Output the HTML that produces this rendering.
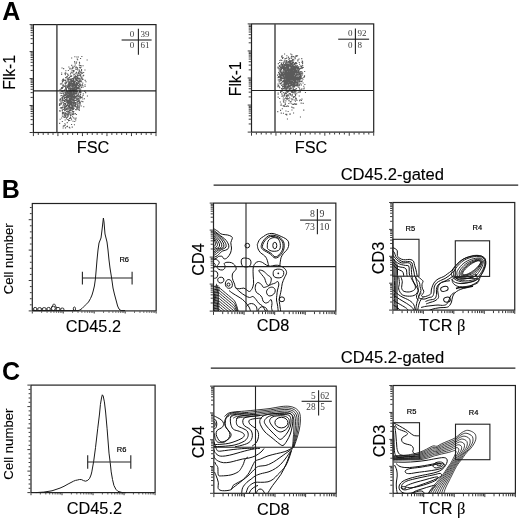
<!DOCTYPE html>
<html><head><meta charset="utf-8"><style>
html,body{margin:0;padding:0;background:#fff;}
svg{display:block;filter:grayscale(1);}
</style></head><body>
<svg width="520" height="520" viewBox="0 0 520 520">
<rect width="520" height="520" fill="#fff"/>
<text x="2.2" y="20.2" font-family='"Liberation Sans", sans-serif' font-size="25" font-weight="bold" text-anchor="start" >A</text>
<rect x="33.4" y="24.6" width="122.6" height="107.9" fill="none" stroke="#222" stroke-width="1.2"/>
<path d="M32.8 132.50h-3.2 M32.8 124.38h-2.2 M32.8 119.63h-2.2 M32.8 116.26h-2.2 M32.8 113.65h-2.2 M32.8 111.51h-2.2 M32.8 109.70h-2.2 M32.8 108.14h-2.2 M32.8 106.76h-2.2 M32.8 105.53h-3.2 M32.8 97.40h-2.2 M32.8 92.65h-2.2 M32.8 89.28h-2.2 M32.8 86.67h-2.2 M32.8 84.53h-2.2 M32.8 82.73h-2.2 M32.8 81.16h-2.2 M32.8 79.78h-2.2 M32.8 78.55h-3.2 M32.8 70.43h-2.2 M32.8 65.68h-2.2 M32.8 62.31h-2.2 M32.8 59.70h-2.2 M32.8 57.56h-2.2 M32.8 55.75h-2.2 M32.8 54.19h-2.2 M32.8 52.81h-2.2 M32.8 51.57h-3.2 M32.8 43.45h-2.2 M32.8 38.70h-2.2 M32.8 35.33h-2.2 M32.8 32.72h-2.2 M32.8 30.58h-2.2 M32.8 28.78h-2.2 M32.8 27.21h-2.2 M32.8 25.83h-2.2 M32.8 24.60h-3.2" stroke="#222" stroke-width="0.9" fill="none"/>
<path d="M33.40 133.1v3 M38.30 133.1v1.8 M43.21 133.1v1.8 M48.11 133.1v1.8 M53.02 133.1v1.8 M57.92 133.1v3 M62.82 133.1v1.8 M67.73 133.1v1.8 M72.63 133.1v1.8 M77.54 133.1v1.8 M82.44 133.1v3 M87.34 133.1v1.8 M92.25 133.1v1.8 M97.15 133.1v1.8 M102.06 133.1v1.8 M106.96 133.1v3 M111.86 133.1v1.8 M116.77 133.1v1.8 M121.67 133.1v1.8 M126.58 133.1v1.8 M131.48 133.1v3 M136.38 133.1v1.8 M141.29 133.1v1.8 M146.19 133.1v1.8 M151.10 133.1v1.8 M156.00 133.1v3" stroke="#222" stroke-width="0.9" fill="none"/>
<line x1="56.9" y1="24.6" x2="56.9" y2="132.5" stroke="#4a4a4a" stroke-width="1.5"/>
<line x1="33.4" y1="90.9" x2="156" y2="90.9" stroke="#222" stroke-width="1.1"/>
<path d="M74.3 89.5h1.1v1.1h-1.1zM69.8 89.9h1.1v1.1h-1.1zM71.9 80.4h1.1v1.1h-1.1zM70.9 108.0h1.1v1.1h-1.1zM70.1 107.0h1.1v1.1h-1.1zM71.2 98.3h1.1v1.1h-1.1zM79.2 70.5h1.1v1.1h-1.1zM72.6 99.8h1.1v1.1h-1.1zM65.3 70.2h1.1v1.1h-1.1zM70.4 81.0h1.1v1.1h-1.1zM70.1 97.1h1.1v1.1h-1.1zM66.4 100.0h1.1v1.1h-1.1zM72.5 97.2h1.1v1.1h-1.1zM81.7 84.1h1.1v1.1h-1.1zM76.3 100.5h1.1v1.1h-1.1zM68.4 84.6h1.1v1.1h-1.1zM71.2 88.4h1.1v1.1h-1.1zM71.0 101.5h1.1v1.1h-1.1zM66.8 87.0h1.1v1.1h-1.1zM78.7 86.0h1.1v1.1h-1.1zM74.1 82.1h1.1v1.1h-1.1zM62.1 98.8h1.1v1.1h-1.1zM78.0 93.7h1.1v1.1h-1.1zM73.6 65.8h1.1v1.1h-1.1zM66.8 91.6h1.1v1.1h-1.1zM69.6 99.7h1.1v1.1h-1.1zM78.7 73.2h1.1v1.1h-1.1zM74.7 102.0h1.1v1.1h-1.1zM69.7 112.4h1.1v1.1h-1.1zM63.7 94.6h1.1v1.1h-1.1zM66.4 101.3h1.1v1.1h-1.1zM65.2 86.9h1.1v1.1h-1.1zM70.2 79.9h1.1v1.1h-1.1zM75.5 73.3h1.1v1.1h-1.1zM70.7 112.5h1.1v1.1h-1.1zM61.5 67.4h1.1v1.1h-1.1zM66.3 97.8h1.1v1.1h-1.1zM78.7 77.9h1.1v1.1h-1.1zM69.5 107.9h1.1v1.1h-1.1zM72.8 96.3h1.1v1.1h-1.1zM70.4 114.5h1.1v1.1h-1.1zM72.9 100.0h1.1v1.1h-1.1zM81.3 71.8h1.1v1.1h-1.1zM71.8 105.9h1.1v1.1h-1.1zM71.9 66.4h1.1v1.1h-1.1zM59.4 104.4h1.1v1.1h-1.1zM76.9 90.5h1.1v1.1h-1.1zM82.5 75.3h1.1v1.1h-1.1zM69.0 100.5h1.1v1.1h-1.1zM73.8 97.4h1.1v1.1h-1.1zM76.9 94.6h1.1v1.1h-1.1zM70.2 84.1h1.1v1.1h-1.1zM68.9 107.1h1.1v1.1h-1.1zM78.0 81.1h1.1v1.1h-1.1zM65.7 112.8h1.1v1.1h-1.1zM73.3 74.4h1.1v1.1h-1.1zM69.7 91.0h1.1v1.1h-1.1zM62.9 112.0h1.1v1.1h-1.1zM61.8 110.0h1.1v1.1h-1.1zM76.1 82.4h1.1v1.1h-1.1zM73.2 108.2h1.1v1.1h-1.1zM71.0 97.7h1.1v1.1h-1.1zM73.8 95.1h1.1v1.1h-1.1zM72.9 90.6h1.1v1.1h-1.1zM69.8 100.7h1.1v1.1h-1.1zM72.4 103.3h1.1v1.1h-1.1zM68.0 120.1h1.1v1.1h-1.1zM69.9 87.2h1.1v1.1h-1.1zM76.0 92.8h1.1v1.1h-1.1zM73.8 88.5h1.1v1.1h-1.1zM74.8 77.8h1.1v1.1h-1.1zM71.4 98.4h1.1v1.1h-1.1zM75.5 87.2h1.1v1.1h-1.1zM67.6 96.8h1.1v1.1h-1.1zM66.9 125.8h1.1v1.1h-1.1zM71.7 85.5h1.1v1.1h-1.1zM71.2 90.0h1.1v1.1h-1.1zM74.3 56.2h1.1v1.1h-1.1zM62.5 106.6h1.1v1.1h-1.1zM76.3 92.1h1.1v1.1h-1.1zM77.2 104.6h1.1v1.1h-1.1zM72.8 70.0h1.1v1.1h-1.1zM75.1 88.4h1.1v1.1h-1.1zM60.9 107.7h1.1v1.1h-1.1zM61.5 102.2h1.1v1.1h-1.1zM77.1 95.4h1.1v1.1h-1.1zM72.4 91.0h1.1v1.1h-1.1zM70.1 103.8h1.1v1.1h-1.1zM79.5 91.8h1.1v1.1h-1.1zM67.2 107.2h1.1v1.1h-1.1zM78.4 77.5h1.1v1.1h-1.1zM72.3 89.4h1.1v1.1h-1.1zM70.7 102.5h1.1v1.1h-1.1zM61.4 101.6h1.1v1.1h-1.1zM77.6 72.6h1.1v1.1h-1.1zM67.6 80.0h1.1v1.1h-1.1zM81.0 73.2h1.1v1.1h-1.1zM77.4 103.1h1.1v1.1h-1.1zM73.1 80.3h1.1v1.1h-1.1zM77.6 77.6h1.1v1.1h-1.1zM63.5 114.5h1.1v1.1h-1.1zM72.3 114.1h1.1v1.1h-1.1zM60.8 90.6h1.1v1.1h-1.1zM67.5 112.0h1.1v1.1h-1.1zM74.5 84.9h1.1v1.1h-1.1zM78.2 98.5h1.1v1.1h-1.1zM79.4 79.2h1.1v1.1h-1.1zM74.8 113.1h1.1v1.1h-1.1zM67.4 90.6h1.1v1.1h-1.1zM69.4 106.8h1.1v1.1h-1.1zM78.4 94.7h1.1v1.1h-1.1zM59.2 89.4h1.1v1.1h-1.1zM61.8 87.8h1.1v1.1h-1.1zM71.0 104.1h1.1v1.1h-1.1zM72.3 84.7h1.1v1.1h-1.1zM69.6 104.2h1.1v1.1h-1.1zM67.8 110.9h1.1v1.1h-1.1zM76.8 107.0h1.1v1.1h-1.1zM64.5 114.7h1.1v1.1h-1.1zM59.0 104.9h1.1v1.1h-1.1zM62.8 78.4h1.1v1.1h-1.1zM62.1 107.4h1.1v1.1h-1.1zM70.0 92.8h1.1v1.1h-1.1zM67.9 92.6h1.1v1.1h-1.1zM80.2 96.2h1.1v1.1h-1.1zM73.8 93.6h1.1v1.1h-1.1zM67.8 106.5h1.1v1.1h-1.1zM70.7 76.0h1.1v1.1h-1.1zM59.8 107.5h1.1v1.1h-1.1zM77.8 84.9h1.1v1.1h-1.1zM69.3 103.7h1.1v1.1h-1.1zM70.2 103.9h1.1v1.1h-1.1zM65.1 77.1h1.1v1.1h-1.1zM77.4 84.4h1.1v1.1h-1.1zM67.4 85.4h1.1v1.1h-1.1zM64.4 82.6h1.1v1.1h-1.1zM64.9 91.4h1.1v1.1h-1.1zM66.8 97.4h1.1v1.1h-1.1zM79.1 66.8h1.1v1.1h-1.1zM59.6 89.3h1.1v1.1h-1.1zM74.5 81.2h1.1v1.1h-1.1zM76.2 86.8h1.1v1.1h-1.1zM73.0 103.1h1.1v1.1h-1.1zM77.5 97.4h1.1v1.1h-1.1zM72.0 101.9h1.1v1.1h-1.1zM80.4 64.9h1.1v1.1h-1.1zM66.7 110.7h1.1v1.1h-1.1zM82.5 86.7h1.1v1.1h-1.1zM77.3 69.3h1.1v1.1h-1.1zM62.7 125.7h1.1v1.1h-1.1zM79.7 102.3h1.1v1.1h-1.1zM74.3 91.4h1.1v1.1h-1.1zM64.2 105.2h1.1v1.1h-1.1zM72.8 91.8h1.1v1.1h-1.1zM69.1 104.1h1.1v1.1h-1.1zM66.0 90.4h1.1v1.1h-1.1zM76.6 88.2h1.1v1.1h-1.1zM66.2 94.4h1.1v1.1h-1.1zM72.0 108.4h1.1v1.1h-1.1zM80.0 58.0h1.1v1.1h-1.1zM79.1 99.5h1.1v1.1h-1.1zM69.7 98.8h1.1v1.1h-1.1zM59.4 100.1h1.1v1.1h-1.1zM70.5 106.9h1.1v1.1h-1.1zM79.7 83.5h1.1v1.1h-1.1zM61.1 117.4h1.1v1.1h-1.1zM74.0 84.0h1.1v1.1h-1.1zM68.5 95.5h1.1v1.1h-1.1zM84.6 79.8h1.1v1.1h-1.1zM62.3 107.0h1.1v1.1h-1.1zM83.1 74.8h1.1v1.1h-1.1zM78.7 106.4h1.1v1.1h-1.1zM64.6 103.9h1.1v1.1h-1.1zM72.3 82.9h1.1v1.1h-1.1zM66.0 100.1h1.1v1.1h-1.1zM73.8 91.3h1.1v1.1h-1.1zM73.7 98.1h1.1v1.1h-1.1zM68.8 95.8h1.1v1.1h-1.1zM69.6 103.7h1.1v1.1h-1.1zM69.4 81.8h1.1v1.1h-1.1zM70.4 93.0h1.1v1.1h-1.1zM70.7 95.1h1.1v1.1h-1.1zM69.9 95.4h1.1v1.1h-1.1zM76.0 76.0h1.1v1.1h-1.1zM71.1 107.2h1.1v1.1h-1.1zM73.8 90.4h1.1v1.1h-1.1zM62.9 80.0h1.1v1.1h-1.1zM65.9 93.8h1.1v1.1h-1.1zM63.6 103.0h1.1v1.1h-1.1zM71.1 57.5h1.1v1.1h-1.1zM65.8 114.3h1.1v1.1h-1.1zM69.9 74.5h1.1v1.1h-1.1zM72.6 100.0h1.1v1.1h-1.1zM78.7 95.4h1.1v1.1h-1.1zM69.4 102.5h1.1v1.1h-1.1zM78.7 101.1h1.1v1.1h-1.1zM74.5 106.1h1.1v1.1h-1.1zM72.6 78.4h1.1v1.1h-1.1zM67.8 102.9h1.1v1.1h-1.1zM71.9 107.4h1.1v1.1h-1.1zM67.9 105.3h1.1v1.1h-1.1zM69.3 127.4h1.1v1.1h-1.1zM72.0 90.1h1.1v1.1h-1.1zM76.5 88.4h1.1v1.1h-1.1zM68.9 106.2h1.1v1.1h-1.1zM74.6 77.2h1.1v1.1h-1.1zM76.3 97.9h1.1v1.1h-1.1zM69.5 103.6h1.1v1.1h-1.1zM72.1 104.5h1.1v1.1h-1.1zM70.9 95.8h1.1v1.1h-1.1zM75.3 89.7h1.1v1.1h-1.1zM69.9 78.8h1.1v1.1h-1.1zM63.1 93.1h1.1v1.1h-1.1zM61.1 87.1h1.1v1.1h-1.1zM75.6 83.8h1.1v1.1h-1.1zM69.5 100.6h1.1v1.1h-1.1zM63.9 89.9h1.1v1.1h-1.1zM69.3 117.7h1.1v1.1h-1.1zM63.9 107.8h1.1v1.1h-1.1zM61.6 90.5h1.1v1.1h-1.1zM74.4 103.5h1.1v1.1h-1.1zM74.8 67.4h1.1v1.1h-1.1zM60.1 101.5h1.1v1.1h-1.1zM69.2 68.4h1.1v1.1h-1.1zM64.8 84.5h1.1v1.1h-1.1zM72.3 93.4h1.1v1.1h-1.1zM73.4 101.6h1.1v1.1h-1.1zM73.3 113.3h1.1v1.1h-1.1zM71.1 75.3h1.1v1.1h-1.1zM67.5 78.7h1.1v1.1h-1.1zM71.2 91.9h1.1v1.1h-1.1zM61.4 99.6h1.1v1.1h-1.1zM73.6 76.3h1.1v1.1h-1.1zM69.8 90.3h1.1v1.1h-1.1zM67.1 92.1h1.1v1.1h-1.1zM71.4 102.5h1.1v1.1h-1.1zM67.6 91.8h1.1v1.1h-1.1zM73.3 79.8h1.1v1.1h-1.1zM75.3 72.7h1.1v1.1h-1.1zM63.3 95.0h1.1v1.1h-1.1zM69.9 89.6h1.1v1.1h-1.1zM73.3 99.2h1.1v1.1h-1.1zM66.5 92.5h1.1v1.1h-1.1zM71.0 91.1h1.1v1.1h-1.1zM71.0 102.9h1.1v1.1h-1.1zM65.3 83.2h1.1v1.1h-1.1zM67.8 88.0h1.1v1.1h-1.1zM72.8 78.0h1.1v1.1h-1.1zM72.7 86.4h1.1v1.1h-1.1zM67.7 100.1h1.1v1.1h-1.1zM64.9 124.4h1.1v1.1h-1.1zM69.3 107.9h1.1v1.1h-1.1zM74.0 82.9h1.1v1.1h-1.1zM82.3 101.1h1.1v1.1h-1.1zM77.2 97.4h1.1v1.1h-1.1zM74.5 103.3h1.1v1.1h-1.1zM69.1 99.9h1.1v1.1h-1.1zM64.1 99.9h1.1v1.1h-1.1zM63.1 108.9h1.1v1.1h-1.1zM81.9 96.4h1.1v1.1h-1.1zM71.6 90.0h1.1v1.1h-1.1zM68.6 108.7h1.1v1.1h-1.1zM74.2 82.1h1.1v1.1h-1.1zM73.6 100.9h1.1v1.1h-1.1zM82.2 82.6h1.1v1.1h-1.1zM67.5 115.5h1.1v1.1h-1.1zM68.1 96.6h1.1v1.1h-1.1zM64.5 112.1h1.1v1.1h-1.1zM67.0 102.1h1.1v1.1h-1.1zM76.4 83.6h1.1v1.1h-1.1zM68.1 111.0h1.1v1.1h-1.1zM76.9 83.9h1.1v1.1h-1.1zM72.8 92.3h1.1v1.1h-1.1zM73.1 113.6h1.1v1.1h-1.1zM84.5 86.0h1.1v1.1h-1.1zM75.3 93.0h1.1v1.1h-1.1zM72.2 84.3h1.1v1.1h-1.1zM84.4 69.4h1.1v1.1h-1.1zM62.0 111.4h1.1v1.1h-1.1zM65.5 72.7h1.1v1.1h-1.1zM66.0 108.9h1.1v1.1h-1.1zM69.5 92.2h1.1v1.1h-1.1zM65.4 91.4h1.1v1.1h-1.1zM63.2 93.3h1.1v1.1h-1.1zM72.8 92.0h1.1v1.1h-1.1zM68.8 99.3h1.1v1.1h-1.1zM73.8 80.8h1.1v1.1h-1.1zM80.5 86.5h1.1v1.1h-1.1zM68.7 103.4h1.1v1.1h-1.1zM68.2 86.6h1.1v1.1h-1.1zM71.1 80.3h1.1v1.1h-1.1zM73.2 97.0h1.1v1.1h-1.1zM81.1 100.7h1.1v1.1h-1.1zM72.6 83.5h1.1v1.1h-1.1zM72.2 67.8h1.1v1.1h-1.1zM71.5 95.3h1.1v1.1h-1.1zM68.8 98.5h1.1v1.1h-1.1zM70.5 97.9h1.1v1.1h-1.1zM59.1 103.4h1.1v1.1h-1.1zM72.9 81.1h1.1v1.1h-1.1zM67.6 79.1h1.1v1.1h-1.1zM66.2 101.5h1.1v1.1h-1.1zM73.7 101.6h1.1v1.1h-1.1zM73.1 97.1h1.1v1.1h-1.1zM63.6 91.6h1.1v1.1h-1.1zM73.5 92.6h1.1v1.1h-1.1zM71.6 85.9h1.1v1.1h-1.1zM64.7 103.1h1.1v1.1h-1.1zM79.7 101.6h1.1v1.1h-1.1zM73.0 85.5h1.1v1.1h-1.1zM79.7 91.0h1.1v1.1h-1.1zM75.2 97.3h1.1v1.1h-1.1zM72.4 83.7h1.1v1.1h-1.1zM61.5 92.9h1.1v1.1h-1.1zM72.3 112.5h1.1v1.1h-1.1zM78.8 69.4h1.1v1.1h-1.1zM73.7 91.2h1.1v1.1h-1.1zM62.1 97.9h1.1v1.1h-1.1zM79.5 90.1h1.1v1.1h-1.1zM66.7 85.2h1.1v1.1h-1.1zM67.4 74.6h1.1v1.1h-1.1zM79.4 97.5h1.1v1.1h-1.1zM71.4 98.8h1.1v1.1h-1.1zM64.3 123.2h1.1v1.1h-1.1zM75.3 83.9h1.1v1.1h-1.1zM64.4 100.4h1.1v1.1h-1.1zM75.1 77.2h1.1v1.1h-1.1zM63.4 96.3h1.1v1.1h-1.1zM68.5 90.3h1.1v1.1h-1.1zM69.4 99.2h1.1v1.1h-1.1zM69.3 91.8h1.1v1.1h-1.1zM76.3 107.2h1.1v1.1h-1.1zM76.4 88.0h1.1v1.1h-1.1zM73.0 82.8h1.1v1.1h-1.1zM77.6 103.1h1.1v1.1h-1.1zM71.4 87.8h1.1v1.1h-1.1zM62.5 95.7h1.1v1.1h-1.1zM67.3 93.2h1.1v1.1h-1.1zM64.1 98.0h1.1v1.1h-1.1zM75.5 66.3h1.1v1.1h-1.1zM67.5 96.5h1.1v1.1h-1.1zM67.6 105.0h1.1v1.1h-1.1zM74.9 84.8h1.1v1.1h-1.1zM70.7 71.8h1.1v1.1h-1.1zM75.6 92.7h1.1v1.1h-1.1zM73.0 90.8h1.1v1.1h-1.1zM74.1 84.2h1.1v1.1h-1.1zM64.3 115.5h1.1v1.1h-1.1zM63.7 124.9h1.1v1.1h-1.1zM71.9 93.2h1.1v1.1h-1.1zM62.1 106.8h1.1v1.1h-1.1zM78.8 64.6h1.1v1.1h-1.1zM72.7 103.7h1.1v1.1h-1.1zM71.9 95.8h1.1v1.1h-1.1zM71.0 105.5h1.1v1.1h-1.1zM61.8 115.5h1.1v1.1h-1.1zM67.3 104.0h1.1v1.1h-1.1zM80.7 105.5h1.1v1.1h-1.1zM69.7 92.9h1.1v1.1h-1.1zM67.6 86.3h1.1v1.1h-1.1zM75.8 84.5h1.1v1.1h-1.1zM71.3 93.5h1.1v1.1h-1.1zM76.3 90.7h1.1v1.1h-1.1zM69.2 99.7h1.1v1.1h-1.1zM68.8 102.0h1.1v1.1h-1.1zM81.4 77.4h1.1v1.1h-1.1zM64.8 99.3h1.1v1.1h-1.1zM70.6 107.6h1.1v1.1h-1.1zM83.1 71.9h1.1v1.1h-1.1zM75.1 97.5h1.1v1.1h-1.1zM69.8 95.7h1.1v1.1h-1.1zM79.6 72.1h1.1v1.1h-1.1zM69.4 93.4h1.1v1.1h-1.1zM70.7 97.7h1.1v1.1h-1.1zM67.6 102.1h1.1v1.1h-1.1zM59.5 92.5h1.1v1.1h-1.1zM75.6 87.3h1.1v1.1h-1.1zM66.3 111.0h1.1v1.1h-1.1zM79.8 91.4h1.1v1.1h-1.1zM75.7 88.6h1.1v1.1h-1.1zM67.6 115.7h1.1v1.1h-1.1zM64.7 109.6h1.1v1.1h-1.1zM70.2 95.8h1.1v1.1h-1.1zM76.9 94.6h1.1v1.1h-1.1zM63.6 125.3h1.1v1.1h-1.1zM74.9 85.2h1.1v1.1h-1.1zM76.0 78.8h1.1v1.1h-1.1zM68.3 100.7h1.1v1.1h-1.1zM61.5 100.2h1.1v1.1h-1.1zM61.0 103.3h1.1v1.1h-1.1zM69.5 83.6h1.1v1.1h-1.1zM76.5 87.6h1.1v1.1h-1.1zM68.7 94.1h1.1v1.1h-1.1zM78.4 100.3h1.1v1.1h-1.1zM73.0 93.1h1.1v1.1h-1.1zM69.7 109.7h1.1v1.1h-1.1zM59.1 122.8h1.1v1.1h-1.1zM73.4 92.5h1.1v1.1h-1.1zM72.5 106.0h1.1v1.1h-1.1zM65.9 89.3h1.1v1.1h-1.1zM76.4 94.4h1.1v1.1h-1.1zM67.8 78.3h1.1v1.1h-1.1zM60.6 92.7h1.1v1.1h-1.1zM69.2 89.5h1.1v1.1h-1.1zM66.3 99.1h1.1v1.1h-1.1zM70.8 81.1h1.1v1.1h-1.1zM67.5 92.3h1.1v1.1h-1.1zM75.0 93.2h1.1v1.1h-1.1zM77.5 109.0h1.1v1.1h-1.1zM70.4 82.4h1.1v1.1h-1.1zM86.6 59.5h1.1v1.1h-1.1zM72.4 83.2h1.1v1.1h-1.1zM62.6 100.1h1.1v1.1h-1.1zM69.9 99.3h1.1v1.1h-1.1zM76.5 68.3h1.1v1.1h-1.1zM70.4 103.9h1.1v1.1h-1.1zM72.4 99.4h1.1v1.1h-1.1zM67.1 110.6h1.1v1.1h-1.1zM66.9 104.8h1.1v1.1h-1.1zM65.1 102.8h1.1v1.1h-1.1zM80.6 91.5h1.1v1.1h-1.1zM69.2 99.0h1.1v1.1h-1.1zM69.2 77.5h1.1v1.1h-1.1zM75.7 95.6h1.1v1.1h-1.1zM72.9 98.8h1.1v1.1h-1.1zM78.4 92.4h1.1v1.1h-1.1zM68.9 87.7h1.1v1.1h-1.1zM69.4 105.0h1.1v1.1h-1.1zM68.5 89.2h1.1v1.1h-1.1zM74.9 89.5h1.1v1.1h-1.1zM63.7 97.8h1.1v1.1h-1.1zM71.1 98.8h1.1v1.1h-1.1zM77.4 79.5h1.1v1.1h-1.1zM69.8 89.2h1.1v1.1h-1.1zM76.4 103.7h1.1v1.1h-1.1zM74.9 83.7h1.1v1.1h-1.1zM85.4 81.2h1.1v1.1h-1.1zM78.5 86.3h1.1v1.1h-1.1zM76.8 84.3h1.1v1.1h-1.1zM74.7 87.1h1.1v1.1h-1.1zM67.6 91.7h1.1v1.1h-1.1zM66.7 122.1h1.1v1.1h-1.1zM79.2 70.8h1.1v1.1h-1.1zM81.0 69.8h1.1v1.1h-1.1zM73.1 85.2h1.1v1.1h-1.1zM68.9 110.0h1.1v1.1h-1.1zM64.9 74.2h1.1v1.1h-1.1zM72.4 109.0h1.1v1.1h-1.1zM77.4 82.0h1.1v1.1h-1.1zM73.4 99.7h1.1v1.1h-1.1zM74.3 62.5h1.1v1.1h-1.1zM73.0 105.2h1.1v1.1h-1.1zM73.3 95.3h1.1v1.1h-1.1zM62.6 127.5h1.1v1.1h-1.1zM71.9 88.6h1.1v1.1h-1.1zM66.7 105.0h1.1v1.1h-1.1zM64.3 108.5h1.1v1.1h-1.1zM67.6 96.6h1.1v1.1h-1.1zM66.9 95.1h1.1v1.1h-1.1zM80.4 71.4h1.1v1.1h-1.1zM67.3 97.1h1.1v1.1h-1.1zM75.9 95.7h1.1v1.1h-1.1zM72.5 79.8h1.1v1.1h-1.1zM72.7 100.3h1.1v1.1h-1.1zM60.4 88.5h1.1v1.1h-1.1zM70.0 109.8h1.1v1.1h-1.1zM69.5 93.2h1.1v1.1h-1.1zM68.2 96.6h1.1v1.1h-1.1zM69.2 79.2h1.1v1.1h-1.1zM69.0 84.9h1.1v1.1h-1.1zM77.0 77.4h1.1v1.1h-1.1zM77.4 75.3h1.1v1.1h-1.1zM75.1 79.3h1.1v1.1h-1.1zM69.1 111.5h1.1v1.1h-1.1zM72.9 83.1h1.1v1.1h-1.1zM61.3 95.0h1.1v1.1h-1.1zM73.2 84.8h1.1v1.1h-1.1zM72.5 86.7h1.1v1.1h-1.1zM73.6 102.9h1.1v1.1h-1.1zM72.2 105.2h1.1v1.1h-1.1zM71.5 89.1h1.1v1.1h-1.1zM69.9 89.3h1.1v1.1h-1.1zM62.1 90.6h1.1v1.1h-1.1zM71.6 88.5h1.1v1.1h-1.1zM73.0 79.9h1.1v1.1h-1.1zM69.0 100.0h1.1v1.1h-1.1zM61.6 90.2h1.1v1.1h-1.1zM83.2 106.2h1.1v1.1h-1.1zM77.1 59.2h1.1v1.1h-1.1zM68.3 100.0h1.1v1.1h-1.1zM71.2 104.5h1.1v1.1h-1.1zM67.8 93.3h1.1v1.1h-1.1zM67.0 101.6h1.1v1.1h-1.1zM67.8 96.0h1.1v1.1h-1.1zM75.7 62.7h1.1v1.1h-1.1zM74.7 95.7h1.1v1.1h-1.1zM72.7 81.2h1.1v1.1h-1.1zM70.5 101.3h1.1v1.1h-1.1zM78.7 109.8h1.1v1.1h-1.1zM62.6 80.7h1.1v1.1h-1.1zM77.4 104.6h1.1v1.1h-1.1zM73.4 105.5h1.1v1.1h-1.1zM68.5 84.6h1.1v1.1h-1.1zM64.2 105.0h1.1v1.1h-1.1zM69.6 68.5h1.1v1.1h-1.1zM71.7 126.6h1.1v1.1h-1.1zM68.6 83.7h1.1v1.1h-1.1zM66.5 96.1h1.1v1.1h-1.1zM67.8 110.7h1.1v1.1h-1.1zM80.4 78.3h1.1v1.1h-1.1zM73.5 85.1h1.1v1.1h-1.1zM69.3 92.8h1.1v1.1h-1.1zM66.6 97.4h1.1v1.1h-1.1zM63.1 68.1h1.1v1.1h-1.1zM69.7 75.9h1.1v1.1h-1.1zM71.4 92.7h1.1v1.1h-1.1zM70.5 100.5h1.1v1.1h-1.1zM68.9 82.3h1.1v1.1h-1.1zM74.7 64.4h1.1v1.1h-1.1zM72.8 99.5h1.1v1.1h-1.1zM70.3 91.4h1.1v1.1h-1.1zM69.1 105.6h1.1v1.1h-1.1zM72.6 103.0h1.1v1.1h-1.1zM77.6 95.9h1.1v1.1h-1.1zM70.3 85.3h1.1v1.1h-1.1zM68.5 82.1h1.1v1.1h-1.1zM75.9 114.0h1.1v1.1h-1.1zM74.0 93.3h1.1v1.1h-1.1zM72.8 108.9h1.1v1.1h-1.1zM61.8 109.3h1.1v1.1h-1.1zM74.8 84.4h1.1v1.1h-1.1zM68.4 112.4h1.1v1.1h-1.1zM71.0 81.4h1.1v1.1h-1.1zM67.8 84.1h1.1v1.1h-1.1zM64.8 113.3h1.1v1.1h-1.1zM82.7 93.3h1.1v1.1h-1.1zM70.2 109.0h1.1v1.1h-1.1zM74.6 84.7h1.1v1.1h-1.1zM70.4 114.9h1.1v1.1h-1.1zM68.8 110.0h1.1v1.1h-1.1zM68.8 100.0h1.1v1.1h-1.1zM77.1 98.8h1.1v1.1h-1.1zM73.8 73.7h1.1v1.1h-1.1zM67.4 96.2h1.1v1.1h-1.1zM75.9 88.8h1.1v1.1h-1.1zM69.2 120.0h1.1v1.1h-1.1zM61.9 97.4h1.1v1.1h-1.1zM67.2 119.0h1.1v1.1h-1.1zM65.1 92.5h1.1v1.1h-1.1zM65.2 92.2h1.1v1.1h-1.1zM73.4 94.0h1.1v1.1h-1.1zM72.5 93.4h1.1v1.1h-1.1zM80.6 81.5h1.1v1.1h-1.1zM62.6 84.2h1.1v1.1h-1.1zM67.3 90.5h1.1v1.1h-1.1zM71.3 79.4h1.1v1.1h-1.1zM64.0 96.9h1.1v1.1h-1.1zM79.0 91.1h1.1v1.1h-1.1zM68.7 102.2h1.1v1.1h-1.1zM70.1 94.7h1.1v1.1h-1.1zM75.1 92.4h1.1v1.1h-1.1zM66.3 92.7h1.1v1.1h-1.1zM66.3 101.8h1.1v1.1h-1.1zM82.5 95.0h1.1v1.1h-1.1zM67.2 78.9h1.1v1.1h-1.1zM61.1 73.9h1.1v1.1h-1.1zM77.0 67.6h1.1v1.1h-1.1zM62.3 84.4h1.1v1.1h-1.1zM77.6 73.0h1.1v1.1h-1.1zM70.7 82.5h1.1v1.1h-1.1zM77.6 97.5h1.1v1.1h-1.1zM71.0 119.2h1.1v1.1h-1.1zM71.7 94.9h1.1v1.1h-1.1zM73.2 117.3h1.1v1.1h-1.1zM74.2 88.8h1.1v1.1h-1.1zM70.7 96.9h1.1v1.1h-1.1zM64.9 86.2h1.1v1.1h-1.1zM63.8 85.8h1.1v1.1h-1.1zM71.2 109.5h1.1v1.1h-1.1zM81.2 76.7h1.1v1.1h-1.1zM70.5 117.9h1.1v1.1h-1.1zM61.8 120.9h1.1v1.1h-1.1zM72.2 100.2h1.1v1.1h-1.1zM71.5 95.7h1.1v1.1h-1.1zM60.7 107.2h1.1v1.1h-1.1zM66.2 76.2h1.1v1.1h-1.1zM69.0 85.5h1.1v1.1h-1.1zM71.7 98.0h1.1v1.1h-1.1zM67.3 93.4h1.1v1.1h-1.1zM77.1 87.0h1.1v1.1h-1.1zM69.9 103.3h1.1v1.1h-1.1zM80.1 88.6h1.1v1.1h-1.1zM75.8 85.0h1.1v1.1h-1.1zM67.1 108.6h1.1v1.1h-1.1zM63.2 104.1h1.1v1.1h-1.1zM69.9 106.7h1.1v1.1h-1.1zM78.1 71.6h1.1v1.1h-1.1zM79.9 81.0h1.1v1.1h-1.1zM71.6 83.8h1.1v1.1h-1.1zM68.6 96.8h1.1v1.1h-1.1zM67.5 96.5h1.1v1.1h-1.1zM69.6 102.1h1.1v1.1h-1.1zM68.7 108.7h1.1v1.1h-1.1zM75.4 68.9h1.1v1.1h-1.1zM75.8 99.3h1.1v1.1h-1.1zM81.7 78.4h1.1v1.1h-1.1zM84.3 90.8h1.1v1.1h-1.1zM75.0 91.0h1.1v1.1h-1.1zM65.8 88.1h1.1v1.1h-1.1zM73.5 107.8h1.1v1.1h-1.1zM71.7 113.8h1.1v1.1h-1.1zM63.3 85.3h1.1v1.1h-1.1zM68.8 84.2h1.1v1.1h-1.1zM75.9 82.0h1.1v1.1h-1.1zM68.9 97.4h1.1v1.1h-1.1zM69.9 95.3h1.1v1.1h-1.1zM74.6 95.9h1.1v1.1h-1.1zM65.2 106.0h1.1v1.1h-1.1zM82.0 72.7h1.1v1.1h-1.1zM76.7 94.5h1.1v1.1h-1.1zM72.8 70.8h1.1v1.1h-1.1zM63.2 93.4h1.1v1.1h-1.1zM76.0 86.0h1.1v1.1h-1.1zM77.3 107.6h1.1v1.1h-1.1zM65.3 81.3h1.1v1.1h-1.1zM75.0 100.0h1.1v1.1h-1.1zM63.6 95.6h1.1v1.1h-1.1zM73.6 103.6h1.1v1.1h-1.1zM67.2 100.5h1.1v1.1h-1.1zM74.6 97.1h1.1v1.1h-1.1zM62.3 85.5h1.1v1.1h-1.1zM72.9 97.4h1.1v1.1h-1.1zM75.8 93.2h1.1v1.1h-1.1zM71.8 85.1h1.1v1.1h-1.1zM74.8 88.9h1.1v1.1h-1.1zM66.4 114.5h1.1v1.1h-1.1zM72.5 120.7h1.1v1.1h-1.1zM72.5 103.7h1.1v1.1h-1.1zM66.4 116.9h1.1v1.1h-1.1zM65.5 91.5h1.1v1.1h-1.1zM77.3 99.4h1.1v1.1h-1.1zM72.2 100.2h1.1v1.1h-1.1zM72.4 90.3h1.1v1.1h-1.1zM79.8 73.8h1.1v1.1h-1.1zM65.9 87.5h1.1v1.1h-1.1zM68.2 82.9h1.1v1.1h-1.1zM74.9 104.5h1.1v1.1h-1.1zM79.0 74.7h1.1v1.1h-1.1zM66.0 105.0h1.1v1.1h-1.1zM70.2 72.9h1.1v1.1h-1.1zM74.2 84.4h1.1v1.1h-1.1zM60.8 88.2h1.1v1.1h-1.1zM62.2 96.2h1.1v1.1h-1.1zM62.5 105.2h1.1v1.1h-1.1zM67.9 83.6h1.1v1.1h-1.1zM79.2 85.7h1.1v1.1h-1.1zM72.4 104.5h1.1v1.1h-1.1zM62.0 97.3h1.1v1.1h-1.1zM69.2 86.0h1.1v1.1h-1.1zM75.9 79.8h1.1v1.1h-1.1zM68.8 83.0h1.1v1.1h-1.1zM62.2 78.9h1.1v1.1h-1.1zM76.9 101.0h1.1v1.1h-1.1zM65.4 95.4h1.1v1.1h-1.1zM77.8 56.5h1.1v1.1h-1.1zM69.9 109.4h1.1v1.1h-1.1zM77.0 105.5h1.1v1.1h-1.1zM66.2 108.2h1.1v1.1h-1.1zM72.9 107.2h1.1v1.1h-1.1zM72.2 72.3h1.1v1.1h-1.1zM73.5 73.8h1.1v1.1h-1.1zM64.0 100.8h1.1v1.1h-1.1zM82.5 65.2h1.1v1.1h-1.1zM78.2 98.1h1.1v1.1h-1.1zM79.6 75.1h1.1v1.1h-1.1zM74.2 121.0h1.1v1.1h-1.1zM72.9 90.2h1.1v1.1h-1.1zM76.7 90.9h1.1v1.1h-1.1zM69.2 107.0h1.1v1.1h-1.1zM78.0 74.7h1.1v1.1h-1.1zM75.4 86.7h1.1v1.1h-1.1zM79.2 96.6h1.1v1.1h-1.1zM66.1 108.4h1.1v1.1h-1.1zM79.8 97.7h1.1v1.1h-1.1zM74.5 85.7h1.1v1.1h-1.1zM75.1 109.1h1.1v1.1h-1.1zM62.8 100.0h1.1v1.1h-1.1zM75.1 76.0h1.1v1.1h-1.1zM83.9 98.2h1.1v1.1h-1.1zM79.0 81.4h1.1v1.1h-1.1zM60.3 103.4h1.1v1.1h-1.1zM73.7 82.0h1.1v1.1h-1.1zM71.3 86.3h1.1v1.1h-1.1zM65.6 99.3h1.1v1.1h-1.1zM66.6 99.3h1.1v1.1h-1.1zM75.1 85.6h1.1v1.1h-1.1zM73.8 85.3h1.1v1.1h-1.1zM67.7 114.6h1.1v1.1h-1.1zM75.3 91.0h1.1v1.1h-1.1zM77.7 88.1h1.1v1.1h-1.1zM77.1 75.7h1.1v1.1h-1.1zM67.8 86.1h1.1v1.1h-1.1zM63.5 116.9h1.1v1.1h-1.1zM70.1 116.7h1.1v1.1h-1.1zM63.1 112.6h1.1v1.1h-1.1zM76.1 109.2h1.1v1.1h-1.1zM70.6 91.4h1.1v1.1h-1.1zM66.3 126.2h1.1v1.1h-1.1zM68.5 87.3h1.1v1.1h-1.1zM71.8 99.0h1.1v1.1h-1.1zM79.9 95.4h1.1v1.1h-1.1zM74.3 88.6h1.1v1.1h-1.1zM63.0 112.7h1.1v1.1h-1.1zM78.7 107.0h1.1v1.1h-1.1zM68.0 74.7h1.1v1.1h-1.1zM63.3 79.0h1.1v1.1h-1.1zM60.0 99.1h1.1v1.1h-1.1zM77.8 99.7h1.1v1.1h-1.1zM72.8 71.2h1.1v1.1h-1.1zM79.4 67.1h1.1v1.1h-1.1zM71.2 83.0h1.1v1.1h-1.1zM73.8 93.7h1.1v1.1h-1.1zM71.9 88.3h1.1v1.1h-1.1zM72.8 85.6h1.1v1.1h-1.1zM73.9 77.2h1.1v1.1h-1.1zM72.5 66.9h1.1v1.1h-1.1zM67.2 118.9h1.1v1.1h-1.1zM75.1 76.0h1.1v1.1h-1.1zM64.2 79.9h1.1v1.1h-1.1zM76.6 83.1h1.1v1.1h-1.1zM69.7 98.2h1.1v1.1h-1.1zM67.2 80.5h1.1v1.1h-1.1zM69.3 111.2h1.1v1.1h-1.1zM61.7 80.2h1.1v1.1h-1.1zM73.1 77.5h1.1v1.1h-1.1zM69.7 95.8h1.1v1.1h-1.1zM64.2 89.2h1.1v1.1h-1.1zM82.4 78.8h1.1v1.1h-1.1zM77.2 82.8h1.1v1.1h-1.1zM73.2 70.1h1.1v1.1h-1.1zM76.1 96.5h1.1v1.1h-1.1zM76.7 77.8h1.1v1.1h-1.1zM66.2 98.2h1.1v1.1h-1.1zM65.1 99.4h1.1v1.1h-1.1zM72.6 82.3h1.1v1.1h-1.1zM76.3 56.4h1.1v1.1h-1.1zM65.3 79.5h1.1v1.1h-1.1zM76.1 87.3h1.1v1.1h-1.1zM78.7 87.5h1.1v1.1h-1.1zM66.4 77.3h1.1v1.1h-1.1zM69.5 113.9h1.1v1.1h-1.1zM64.5 105.8h1.1v1.1h-1.1zM70.7 103.9h1.1v1.1h-1.1zM69.8 101.8h1.1v1.1h-1.1zM65.0 109.3h1.1v1.1h-1.1zM65.1 80.0h1.1v1.1h-1.1zM64.6 108.7h1.1v1.1h-1.1zM68.2 78.9h1.1v1.1h-1.1zM65.1 87.0h1.1v1.1h-1.1zM68.3 89.1h1.1v1.1h-1.1zM67.0 85.6h1.1v1.1h-1.1zM68.5 93.5h1.1v1.1h-1.1zM72.1 94.6h1.1v1.1h-1.1zM67.9 85.8h1.1v1.1h-1.1zM60.8 103.5h1.1v1.1h-1.1zM71.0 83.4h1.1v1.1h-1.1zM77.1 88.5h1.1v1.1h-1.1zM77.2 87.0h1.1v1.1h-1.1zM64.4 73.2h1.1v1.1h-1.1zM70.7 109.5h1.1v1.1h-1.1zM70.6 99.6h1.1v1.1h-1.1zM63.4 99.5h1.1v1.1h-1.1zM66.1 105.8h1.1v1.1h-1.1zM69.4 106.3h1.1v1.1h-1.1zM68.3 66.4h1.1v1.1h-1.1zM67.8 108.2h1.1v1.1h-1.1zM73.2 87.7h1.1v1.1h-1.1zM69.0 87.3h1.1v1.1h-1.1zM71.6 94.4h1.1v1.1h-1.1zM68.0 113.5h1.1v1.1h-1.1zM74.4 118.4h1.1v1.1h-1.1zM72.0 116.2h1.1v1.1h-1.1zM71.5 94.8h1.1v1.1h-1.1zM67.4 91.1h1.1v1.1h-1.1zM67.7 92.1h1.1v1.1h-1.1zM69.9 115.1h1.1v1.1h-1.1zM61.6 87.0h1.1v1.1h-1.1zM68.9 92.3h1.1v1.1h-1.1zM67.2 78.3h1.1v1.1h-1.1zM79.0 62.6h1.1v1.1h-1.1zM85.1 92.1h1.1v1.1h-1.1zM70.3 92.6h1.1v1.1h-1.1zM68.6 112.5h1.1v1.1h-1.1zM68.7 95.3h1.1v1.1h-1.1zM80.4 84.8h1.1v1.1h-1.1zM78.1 106.5h1.1v1.1h-1.1zM71.9 88.3h1.1v1.1h-1.1zM78.1 81.1h1.1v1.1h-1.1zM77.1 74.2h1.1v1.1h-1.1zM76.3 107.8h1.1v1.1h-1.1zM78.9 80.3h1.1v1.1h-1.1zM68.5 83.4h1.1v1.1h-1.1zM80.1 75.1h1.1v1.1h-1.1zM64.8 115.3h1.1v1.1h-1.1zM70.8 82.7h1.1v1.1h-1.1zM68.8 126.8h1.1v1.1h-1.1zM62.5 85.7h1.1v1.1h-1.1zM78.9 83.9h1.1v1.1h-1.1zM65.9 118.2h1.1v1.1h-1.1zM69.8 83.7h1.1v1.1h-1.1zM80.0 67.5h1.1v1.1h-1.1zM79.1 78.3h1.1v1.1h-1.1zM67.8 69.9h1.1v1.1h-1.1zM66.3 96.9h1.1v1.1h-1.1zM69.4 103.5h1.1v1.1h-1.1zM76.9 77.1h1.1v1.1h-1.1zM58.9 104.4h1.1v1.1h-1.1zM69.2 117.7h1.1v1.1h-1.1zM59.3 103.3h1.1v1.1h-1.1zM70.7 83.3h1.1v1.1h-1.1zM60.8 107.5h1.1v1.1h-1.1zM62.0 81.1h1.1v1.1h-1.1zM73.4 89.7h1.1v1.1h-1.1zM71.5 70.2h1.1v1.1h-1.1zM78.5 99.9h1.1v1.1h-1.1zM67.9 102.0h1.1v1.1h-1.1zM68.5 77.1h1.1v1.1h-1.1zM73.2 84.0h1.1v1.1h-1.1zM80.1 92.3h1.1v1.1h-1.1zM64.6 96.9h1.1v1.1h-1.1zM72.1 113.8h1.1v1.1h-1.1zM66.9 94.4h1.1v1.1h-1.1zM69.5 67.7h1.1v1.1h-1.1zM64.7 105.3h1.1v1.1h-1.1zM74.9 75.2h1.1v1.1h-1.1zM73.8 96.3h1.1v1.1h-1.1zM77.2 101.8h1.1v1.1h-1.1zM78.1 81.7h1.1v1.1h-1.1zM76.9 79.7h1.1v1.1h-1.1zM71.9 95.4h1.1v1.1h-1.1zM68.8 106.1h1.1v1.1h-1.1zM73.3 108.0h1.1v1.1h-1.1zM67.7 94.8h1.1v1.1h-1.1zM69.8 82.8h1.1v1.1h-1.1zM71.3 90.3h1.1v1.1h-1.1zM73.8 101.6h1.1v1.1h-1.1zM69.0 81.4h1.1v1.1h-1.1zM72.7 88.7h1.1v1.1h-1.1zM82.0 79.0h1.1v1.1h-1.1zM78.1 85.4h1.1v1.1h-1.1zM76.0 61.5h1.1v1.1h-1.1zM71.5 96.8h1.1v1.1h-1.1zM71.2 101.1h1.1v1.1h-1.1zM60.4 95.2h1.1v1.1h-1.1zM59.9 83.4h1.1v1.1h-1.1zM71.3 101.5h1.1v1.1h-1.1zM67.0 90.4h1.1v1.1h-1.1zM82.2 85.1h1.1v1.1h-1.1zM67.0 116.4h1.1v1.1h-1.1zM60.1 110.4h1.1v1.1h-1.1zM72.6 66.9h1.1v1.1h-1.1zM69.9 81.2h1.1v1.1h-1.1zM86.9 95.5h1.1v1.1h-1.1zM72.7 84.1h1.1v1.1h-1.1zM70.2 96.7h1.1v1.1h-1.1zM78.6 105.6h1.1v1.1h-1.1zM74.6 76.2h1.1v1.1h-1.1zM73.5 89.4h1.1v1.1h-1.1zM64.8 72.3h1.1v1.1h-1.1zM78.9 61.7h1.1v1.1h-1.1zM71.0 95.6h1.1v1.1h-1.1zM74.1 61.1h1.1v1.1h-1.1zM65.0 82.8h1.1v1.1h-1.1zM76.8 80.6h1.1v1.1h-1.1zM69.7 100.3h1.1v1.1h-1.1zM66.7 99.9h1.1v1.1h-1.1zM71.1 94.0h1.1v1.1h-1.1zM69.4 100.5h1.1v1.1h-1.1zM70.6 91.1h1.1v1.1h-1.1zM84.5 84.3h1.1v1.1h-1.1zM72.2 99.9h1.1v1.1h-1.1zM71.0 123.9h1.1v1.1h-1.1zM78.1 72.0h1.1v1.1h-1.1zM79.4 104.3h1.1v1.1h-1.1zM72.1 110.8h1.1v1.1h-1.1zM68.9 77.1h1.1v1.1h-1.1zM73.2 96.6h1.1v1.1h-1.1zM71.1 79.2h1.1v1.1h-1.1zM72.2 87.6h1.1v1.1h-1.1zM68.7 97.5h1.1v1.1h-1.1zM80.4 76.3h1.1v1.1h-1.1zM67.1 114.5h1.1v1.1h-1.1zM71.2 106.8h1.1v1.1h-1.1zM72.2 101.9h1.1v1.1h-1.1zM75.8 82.7h1.1v1.1h-1.1zM64.0 106.6h1.1v1.1h-1.1zM75.2 119.5h1.1v1.1h-1.1zM75.5 117.6h1.1v1.1h-1.1zM67.6 103.0h1.1v1.1h-1.1zM67.9 84.9h1.1v1.1h-1.1zM70.6 94.6h1.1v1.1h-1.1zM73.9 124.2h1.1v1.1h-1.1zM74.7 92.6h1.1v1.1h-1.1zM71.5 99.4h1.1v1.1h-1.1zM70.8 90.2h1.1v1.1h-1.1zM73.8 81.9h1.1v1.1h-1.1zM72.8 92.7h1.1v1.1h-1.1zM73.1 81.5h1.1v1.1h-1.1zM74.2 93.6h1.1v1.1h-1.1zM75.6 78.6h1.1v1.1h-1.1zM72.1 106.3h1.1v1.1h-1.1zM69.2 88.0h1.1v1.1h-1.1zM75.5 89.8h1.1v1.1h-1.1zM66.9 114.0h1.1v1.1h-1.1zM74.4 84.3h1.1v1.1h-1.1zM65.7 95.8h1.1v1.1h-1.1zM72.1 83.0h1.1v1.1h-1.1zM63.1 102.1h1.1v1.1h-1.1zM75.9 79.3h1.1v1.1h-1.1zM74.3 76.5h1.1v1.1h-1.1zM69.7 97.8h1.1v1.1h-1.1zM72.9 79.3h1.1v1.1h-1.1zM73.6 88.5h1.1v1.1h-1.1zM78.7 81.7h1.1v1.1h-1.1zM73.7 70.4h1.1v1.1h-1.1zM76.2 93.1h1.1v1.1h-1.1zM75.3 84.8h1.1v1.1h-1.1zM76.2 85.3h1.1v1.1h-1.1zM65.5 116.5h1.1v1.1h-1.1zM65.1 99.0h1.1v1.1h-1.1zM75.5 106.1h1.1v1.1h-1.1zM64.8 93.5h1.1v1.1h-1.1zM76.4 98.4h1.1v1.1h-1.1zM73.1 107.7h1.1v1.1h-1.1zM71.3 68.3h1.1v1.1h-1.1zM61.9 112.2h1.1v1.1h-1.1zM78.7 108.3h1.1v1.1h-1.1zM75.4 103.3h1.1v1.1h-1.1zM65.1 88.5h1.1v1.1h-1.1zM70.2 91.6h1.1v1.1h-1.1zM74.9 92.4h1.1v1.1h-1.1zM72.4 91.0h1.1v1.1h-1.1zM70.1 98.7h1.1v1.1h-1.1zM68.9 117.9h1.1v1.1h-1.1zM69.7 94.1h1.1v1.1h-1.1zM79.6 84.6h1.1v1.1h-1.1zM64.9 95.0h1.1v1.1h-1.1zM71.5 85.4h1.1v1.1h-1.1zM77.8 87.0h1.1v1.1h-1.1zM76.2 77.3h1.1v1.1h-1.1zM64.4 94.9h1.1v1.1h-1.1zM70.4 93.6h1.1v1.1h-1.1zM67.5 99.8h1.1v1.1h-1.1zM61.4 97.1h1.1v1.1h-1.1zM77.6 78.4h1.1v1.1h-1.1zM68.7 107.1h1.1v1.1h-1.1zM78.2 84.9h1.1v1.1h-1.1zM71.2 64.8h1.1v1.1h-1.1zM73.1 102.1h1.1v1.1h-1.1zM63.1 79.1h1.1v1.1h-1.1zM68.6 112.6h1.1v1.1h-1.1zM73.3 80.9h1.1v1.1h-1.1zM72.6 108.0h1.1v1.1h-1.1zM79.7 64.9h1.1v1.1h-1.1zM81.0 69.0h1.1v1.1h-1.1zM82.3 98.4h1.1v1.1h-1.1zM72.4 84.8h1.1v1.1h-1.1zM65.3 107.1h1.1v1.1h-1.1zM70.5 83.5h1.1v1.1h-1.1zM65.3 92.0h1.1v1.1h-1.1zM72.9 99.5h1.1v1.1h-1.1zM80.0 94.0h1.1v1.1h-1.1zM78.8 88.6h1.1v1.1h-1.1zM76.3 85.6h1.1v1.1h-1.1zM76.3 66.9h1.1v1.1h-1.1zM68.7 90.6h1.1v1.1h-1.1zM70.5 84.8h1.1v1.1h-1.1zM60.7 83.3h1.1v1.1h-1.1zM69.3 85.0h1.1v1.1h-1.1zM66.4 85.9h1.1v1.1h-1.1zM75.5 91.2h1.1v1.1h-1.1zM68.9 89.6h1.1v1.1h-1.1zM73.0 111.3h1.1v1.1h-1.1zM75.3 105.4h1.1v1.1h-1.1zM71.0 88.6h1.1v1.1h-1.1zM65.6 108.0h1.1v1.1h-1.1zM73.3 91.4h1.1v1.1h-1.1zM68.7 98.0h1.1v1.1h-1.1zM67.9 106.3h1.1v1.1h-1.1zM75.2 102.8h1.1v1.1h-1.1zM73.6 101.9h1.1v1.1h-1.1zM66.4 77.3h1.1v1.1h-1.1zM74.9 84.6h1.1v1.1h-1.1zM61.9 113.3h1.1v1.1h-1.1zM65.7 97.1h1.1v1.1h-1.1zM71.1 83.1h1.1v1.1h-1.1zM70.7 102.3h1.1v1.1h-1.1zM63.3 108.9h1.1v1.1h-1.1zM74.1 105.0h1.1v1.1h-1.1zM73.4 93.9h1.1v1.1h-1.1zM66.4 85.4h1.1v1.1h-1.1zM68.4 87.5h1.1v1.1h-1.1zM81.0 86.5h1.1v1.1h-1.1zM72.3 95.7h1.1v1.1h-1.1zM65.2 103.0h1.1v1.1h-1.1zM71.1 105.4h1.1v1.1h-1.1zM77.5 72.5h1.1v1.1h-1.1zM72.3 100.5h1.1v1.1h-1.1zM65.7 114.4h1.1v1.1h-1.1zM74.0 99.9h1.1v1.1h-1.1zM79.4 80.8h1.1v1.1h-1.1zM67.1 73.4h1.1v1.1h-1.1zM64.0 100.1h1.1v1.1h-1.1zM62.4 91.4h1.1v1.1h-1.1zM64.7 93.9h1.1v1.1h-1.1zM62.0 97.6h1.1v1.1h-1.1zM68.6 99.1h1.1v1.1h-1.1zM70.5 93.9h1.1v1.1h-1.1zM63.6 94.8h1.1v1.1h-1.1zM76.7 58.4h1.1v1.1h-1.1zM70.6 80.4h1.1v1.1h-1.1zM59.4 98.8h1.1v1.1h-1.1zM69.4 82.7h1.1v1.1h-1.1zM75.1 78.7h1.1v1.1h-1.1zM66.9 91.1h1.1v1.1h-1.1zM77.5 79.7h1.1v1.1h-1.1zM75.6 84.1h1.1v1.1h-1.1zM59.8 99.1h1.1v1.1h-1.1zM73.4 78.4h1.1v1.1h-1.1zM74.5 97.6h1.1v1.1h-1.1zM74.9 103.8h1.1v1.1h-1.1zM70.7 88.0h1.1v1.1h-1.1zM67.0 103.5h1.1v1.1h-1.1zM60.2 107.3h1.1v1.1h-1.1zM68.7 101.8h1.1v1.1h-1.1zM80.6 66.4h1.1v1.1h-1.1zM70.5 97.2h1.1v1.1h-1.1zM70.8 78.5h1.1v1.1h-1.1zM63.8 113.4h1.1v1.1h-1.1zM66.4 81.4h1.1v1.1h-1.1zM69.2 91.2h1.1v1.1h-1.1zM68.4 80.7h1.1v1.1h-1.1zM61.0 107.1h1.1v1.1h-1.1zM64.6 119.4h1.1v1.1h-1.1zM77.6 78.2h1.1v1.1h-1.1zM64.2 100.6h1.1v1.1h-1.1zM59.5 103.1h1.1v1.1h-1.1zM79.1 80.5h1.1v1.1h-1.1zM64.5 89.5h1.1v1.1h-1.1zM74.9 99.9h1.1v1.1h-1.1zM61.3 92.7h1.1v1.1h-1.1zM74.0 88.3h1.1v1.1h-1.1zM79.4 103.4h1.1v1.1h-1.1zM69.0 89.6h1.1v1.1h-1.1zM77.6 92.5h1.1v1.1h-1.1zM80.1 80.3h1.1v1.1h-1.1zM81.3 55.9h1.1v1.1h-1.1zM75.0 83.9h1.1v1.1h-1.1zM63.1 102.3h1.1v1.1h-1.1zM72.5 91.8h1.1v1.1h-1.1zM64.7 100.9h1.1v1.1h-1.1zM62.8 79.6h1.1v1.1h-1.1zM64.9 127.3h1.1v1.1h-1.1zM63.4 90.0h1.1v1.1h-1.1zM66.1 105.6h1.1v1.1h-1.1zM72.1 112.4h1.1v1.1h-1.1zM74.9 93.3h1.1v1.1h-1.1zM71.7 78.0h1.1v1.1h-1.1zM65.4 85.2h1.1v1.1h-1.1zM70.2 93.2h1.1v1.1h-1.1zM67.5 83.9h1.1v1.1h-1.1zM74.3 86.7h1.1v1.1h-1.1zM70.3 98.5h1.1v1.1h-1.1zM74.7 86.6h1.1v1.1h-1.1zM60.3 97.9h1.1v1.1h-1.1zM64.2 89.5h1.1v1.1h-1.1zM74.4 77.0h1.1v1.1h-1.1zM71.5 93.8h1.1v1.1h-1.1zM71.8 81.2h1.1v1.1h-1.1zM75.1 80.7h1.1v1.1h-1.1zM79.0 102.3h1.1v1.1h-1.1zM64.1 110.1h1.1v1.1h-1.1zM66.9 86.8h1.1v1.1h-1.1zM81.1 97.1h1.1v1.1h-1.1zM66.8 76.0h1.1v1.1h-1.1zM69.9 100.0h1.1v1.1h-1.1zM80.0 97.0h1.1v1.1h-1.1zM68.2 81.8h1.1v1.1h-1.1zM68.1 119.5h1.1v1.1h-1.1zM61.7 82.5h1.1v1.1h-1.1zM61.1 72.4h1.1v1.1h-1.1zM71.1 93.9h1.1v1.1h-1.1zM68.1 106.4h1.1v1.1h-1.1zM68.5 83.6h1.1v1.1h-1.1zM59.6 118.7h1.1v1.1h-1.1zM70.8 95.3h1.1v1.1h-1.1zM67.5 101.3h1.1v1.1h-1.1zM74.3 99.7h1.1v1.1h-1.1zM68.9 91.0h1.1v1.1h-1.1zM66.2 90.5h1.1v1.1h-1.1zM69.8 90.2h1.1v1.1h-1.1zM77.8 95.8h1.1v1.1h-1.1zM65.9 110.7h1.1v1.1h-1.1zM71.3 101.1h1.1v1.1h-1.1zM69.5 103.3h1.1v1.1h-1.1zM67.9 96.6h1.1v1.1h-1.1zM77.4 82.4h1.1v1.1h-1.1zM71.6 110.5h1.1v1.1h-1.1zM71.5 98.9h1.1v1.1h-1.1zM62.4 86.9h1.1v1.1h-1.1zM70.7 102.0h1.1v1.1h-1.1zM67.0 85.5h1.1v1.1h-1.1zM59.0 110.3h1.1v1.1h-1.1zM70.0 116.8h1.1v1.1h-1.1zM63.5 125.0h1.1v1.1h-1.1zM68.3 92.7h1.1v1.1h-1.1zM69.6 95.1h1.1v1.1h-1.1zM78.4 82.9h1.1v1.1h-1.1zM70.0 82.4h1.1v1.1h-1.1zM66.9 100.5h1.1v1.1h-1.1zM73.9 87.1h1.1v1.1h-1.1zM65.1 88.0h1.1v1.1h-1.1zM70.1 91.6h1.1v1.1h-1.1zM62.5 116.0h1.1v1.1h-1.1zM64.7 106.1h1.1v1.1h-1.1zM70.0 88.2h1.1v1.1h-1.1zM75.1 96.7h1.1v1.1h-1.1zM64.5 116.6h1.1v1.1h-1.1zM73.2 111.0h1.1v1.1h-1.1zM65.2 104.0h1.1v1.1h-1.1zM68.5 105.2h1.1v1.1h-1.1zM68.8 97.8h1.1v1.1h-1.1zM75.6 102.0h1.1v1.1h-1.1zM67.5 108.3h1.1v1.1h-1.1zM76.7 106.4h1.1v1.1h-1.1zM81.0 80.4h1.1v1.1h-1.1zM76.8 75.0h1.1v1.1h-1.1zM77.7 101.0h1.1v1.1h-1.1zM67.8 96.8h1.1v1.1h-1.1zM66.0 82.2h1.1v1.1h-1.1zM68.1 103.3h1.1v1.1h-1.1zM75.4 83.3h1.1v1.1h-1.1zM70.3 82.7h1.1v1.1h-1.1zM80.9 86.8h1.1v1.1h-1.1zM67.1 112.7h1.1v1.1h-1.1zM75.9 71.8h1.1v1.1h-1.1zM72.7 94.0h1.1v1.1h-1.1zM68.1 100.6h1.1v1.1h-1.1zM73.5 105.5h1.1v1.1h-1.1zM68.4 95.8h1.1v1.1h-1.1z" fill="#1a1a1a" fill-opacity="0.72"/>
<line x1="121.6" y1="40.0" x2="151.6" y2="40.0" stroke="#222" stroke-width="1.1"/>
<line x1="138.4" y1="28.7" x2="138.4" y2="54.7" stroke="#222" stroke-width="1.1"/>
<text x="134.20000000000002" y="37.0" font-family='"Liberation Serif", serif' font-size="9" font-weight="normal" text-anchor="end" fill="#3a3a3a">0</text>
<text x="140.4" y="37.0" font-family='"Liberation Serif", serif' font-size="9" font-weight="normal" text-anchor="start" fill="#3a3a3a">39</text>
<text x="134.20000000000002" y="48.4" font-family='"Liberation Serif", serif' font-size="9" font-weight="normal" text-anchor="end" fill="#3a3a3a">0</text>
<text x="140.4" y="48.4" font-family='"Liberation Serif", serif' font-size="9" font-weight="normal" text-anchor="start" fill="#3a3a3a">61</text>
<text x="14.8" y="72.4" font-family='"Liberation Sans", sans-serif' font-size="15.6" font-weight="normal" text-anchor="middle" transform="rotate(-90 14.8 72.4)" stroke="#000" stroke-width="0.12" >Flk-1</text>
<text x="93.1" y="153.3" font-family='"Liberation Sans", sans-serif' font-size="16.3" font-weight="normal" text-anchor="middle" stroke="#000" stroke-width="0.12" >FSC</text>
<rect x="251.5" y="23.9" width="122.19999999999999" height="108.19999999999999" fill="none" stroke="#222" stroke-width="1.2"/>
<path d="M250.9 132.10h-3.2 M250.9 123.96h-2.2 M250.9 119.19h-2.2 M250.9 115.81h-2.2 M250.9 113.19h-2.2 M250.9 111.05h-2.2 M250.9 109.24h-2.2 M250.9 107.67h-2.2 M250.9 106.29h-2.2 M250.9 105.05h-3.2 M250.9 96.91h-2.2 M250.9 92.14h-2.2 M250.9 88.76h-2.2 M250.9 86.14h-2.2 M250.9 84.00h-2.2 M250.9 82.19h-2.2 M250.9 80.62h-2.2 M250.9 79.24h-2.2 M250.9 78.00h-3.2 M250.9 69.86h-2.2 M250.9 65.09h-2.2 M250.9 61.71h-2.2 M250.9 59.09h-2.2 M250.9 56.95h-2.2 M250.9 55.14h-2.2 M250.9 53.57h-2.2 M250.9 52.19h-2.2 M250.9 50.95h-3.2 M250.9 42.81h-2.2 M250.9 38.04h-2.2 M250.9 34.66h-2.2 M250.9 32.04h-2.2 M250.9 29.90h-2.2 M250.9 28.09h-2.2 M250.9 26.52h-2.2 M250.9 25.14h-2.2 M250.9 23.90h-3.2" stroke="#222" stroke-width="0.9" fill="none"/>
<path d="M251.50 132.7v3 M256.39 132.7v1.8 M261.28 132.7v1.8 M266.16 132.7v1.8 M271.05 132.7v1.8 M275.94 132.7v3 M280.83 132.7v1.8 M285.72 132.7v1.8 M290.60 132.7v1.8 M295.49 132.7v1.8 M300.38 132.7v3 M305.27 132.7v1.8 M310.16 132.7v1.8 M315.04 132.7v1.8 M319.93 132.7v1.8 M324.82 132.7v3 M329.71 132.7v1.8 M334.60 132.7v1.8 M339.48 132.7v1.8 M344.37 132.7v1.8 M349.26 132.7v3 M354.15 132.7v1.8 M359.04 132.7v1.8 M363.92 132.7v1.8 M368.81 132.7v1.8 M373.70 132.7v3" stroke="#222" stroke-width="0.9" fill="none"/>
<line x1="275" y1="23.9" x2="275" y2="132.1" stroke="#4a4a4a" stroke-width="1.5"/>
<line x1="251.5" y1="90.5" x2="373.7" y2="90.5" stroke="#222" stroke-width="1.1"/>
<path d="M286.7 79.9h1.1v1.1h-1.1zM283.1 73.3h1.1v1.1h-1.1zM285.2 63.6h1.1v1.1h-1.1zM293.0 74.3h1.1v1.1h-1.1zM289.7 81.3h1.1v1.1h-1.1zM280.8 74.0h1.1v1.1h-1.1zM291.2 81.0h1.1v1.1h-1.1zM283.2 80.1h1.1v1.1h-1.1zM290.8 85.1h1.1v1.1h-1.1zM296.1 78.8h1.1v1.1h-1.1zM302.0 74.5h1.1v1.1h-1.1zM287.0 71.8h1.1v1.1h-1.1zM284.0 74.3h1.1v1.1h-1.1zM278.6 73.8h1.1v1.1h-1.1zM292.0 82.2h1.1v1.1h-1.1zM287.5 85.3h1.1v1.1h-1.1zM285.7 73.5h1.1v1.1h-1.1zM278.6 68.6h1.1v1.1h-1.1zM284.9 85.9h1.1v1.1h-1.1zM292.5 66.1h1.1v1.1h-1.1zM292.5 78.2h1.1v1.1h-1.1zM288.2 74.7h1.1v1.1h-1.1zM287.8 70.4h1.1v1.1h-1.1zM279.5 73.8h1.1v1.1h-1.1zM296.8 85.4h1.1v1.1h-1.1zM287.9 68.8h1.1v1.1h-1.1zM288.3 81.3h1.1v1.1h-1.1zM291.5 70.1h1.1v1.1h-1.1zM291.6 72.9h1.1v1.1h-1.1zM292.4 71.4h1.1v1.1h-1.1zM281.2 74.9h1.1v1.1h-1.1zM293.8 66.1h1.1v1.1h-1.1zM288.9 81.2h1.1v1.1h-1.1zM287.4 69.6h1.1v1.1h-1.1zM301.0 80.8h1.1v1.1h-1.1zM295.3 67.3h1.1v1.1h-1.1zM298.7 61.9h1.1v1.1h-1.1zM286.6 80.1h1.1v1.1h-1.1zM297.0 67.4h1.1v1.1h-1.1zM285.8 76.0h1.1v1.1h-1.1zM278.6 79.3h1.1v1.1h-1.1zM292.7 71.1h1.1v1.1h-1.1zM292.5 80.4h1.1v1.1h-1.1zM291.2 78.5h1.1v1.1h-1.1zM298.0 70.9h1.1v1.1h-1.1zM290.4 70.5h1.1v1.1h-1.1zM295.3 71.4h1.1v1.1h-1.1zM292.2 75.5h1.1v1.1h-1.1zM289.9 87.5h1.1v1.1h-1.1zM289.0 85.2h1.1v1.1h-1.1zM294.1 84.5h1.1v1.1h-1.1zM288.6 81.5h1.1v1.1h-1.1zM293.7 69.9h1.1v1.1h-1.1zM291.0 73.5h1.1v1.1h-1.1zM289.3 84.3h1.1v1.1h-1.1zM285.5 61.8h1.1v1.1h-1.1zM279.7 71.1h1.1v1.1h-1.1zM285.9 74.6h1.1v1.1h-1.1zM292.7 87.8h1.1v1.1h-1.1zM291.2 78.0h1.1v1.1h-1.1zM285.4 78.9h1.1v1.1h-1.1zM297.1 84.6h1.1v1.1h-1.1zM278.6 81.2h1.1v1.1h-1.1zM298.4 80.7h1.1v1.1h-1.1zM281.1 72.2h1.1v1.1h-1.1zM292.8 77.6h1.1v1.1h-1.1zM285.0 67.8h1.1v1.1h-1.1zM294.9 64.5h1.1v1.1h-1.1zM297.5 74.7h1.1v1.1h-1.1zM291.2 64.5h1.1v1.1h-1.1zM286.2 79.7h1.1v1.1h-1.1zM281.3 90.0h1.1v1.1h-1.1zM281.7 65.3h1.1v1.1h-1.1zM289.7 78.1h1.1v1.1h-1.1zM293.6 71.7h1.1v1.1h-1.1zM288.3 72.7h1.1v1.1h-1.1zM286.3 55.2h1.1v1.1h-1.1zM294.9 76.4h1.1v1.1h-1.1zM290.4 69.8h1.1v1.1h-1.1zM290.9 74.4h1.1v1.1h-1.1zM289.1 82.8h1.1v1.1h-1.1zM279.9 76.4h1.1v1.1h-1.1zM283.6 72.1h1.1v1.1h-1.1zM297.9 66.4h1.1v1.1h-1.1zM288.9 70.1h1.1v1.1h-1.1zM294.8 67.2h1.1v1.1h-1.1zM280.1 78.4h1.1v1.1h-1.1zM287.5 72.1h1.1v1.1h-1.1zM295.5 67.8h1.1v1.1h-1.1zM287.4 75.6h1.1v1.1h-1.1zM291.8 70.6h1.1v1.1h-1.1zM295.3 91.3h1.1v1.1h-1.1zM287.2 88.5h1.1v1.1h-1.1zM277.8 85.0h1.1v1.1h-1.1zM287.6 75.5h1.1v1.1h-1.1zM287.6 69.7h1.1v1.1h-1.1zM282.4 71.5h1.1v1.1h-1.1zM296.7 83.0h1.1v1.1h-1.1zM287.6 70.5h1.1v1.1h-1.1zM285.6 65.5h1.1v1.1h-1.1zM299.5 79.5h1.1v1.1h-1.1zM290.2 70.8h1.1v1.1h-1.1zM283.8 84.4h1.1v1.1h-1.1zM293.8 67.4h1.1v1.1h-1.1zM295.0 66.2h1.1v1.1h-1.1zM293.1 67.3h1.1v1.1h-1.1zM287.2 78.2h1.1v1.1h-1.1zM291.9 82.1h1.1v1.1h-1.1zM284.8 86.3h1.1v1.1h-1.1zM297.0 74.4h1.1v1.1h-1.1zM292.1 68.7h1.1v1.1h-1.1zM288.7 64.6h1.1v1.1h-1.1zM290.0 76.0h1.1v1.1h-1.1zM297.0 81.6h1.1v1.1h-1.1zM294.0 71.8h1.1v1.1h-1.1zM288.2 71.9h1.1v1.1h-1.1zM290.7 60.0h1.1v1.1h-1.1zM293.8 62.8h1.1v1.1h-1.1zM286.6 74.7h1.1v1.1h-1.1zM286.6 87.0h1.1v1.1h-1.1zM289.0 86.3h1.1v1.1h-1.1zM296.0 70.8h1.1v1.1h-1.1zM291.7 84.2h1.1v1.1h-1.1zM287.6 75.2h1.1v1.1h-1.1zM286.4 74.9h1.1v1.1h-1.1zM287.5 75.1h1.1v1.1h-1.1zM295.1 84.9h1.1v1.1h-1.1zM290.2 76.0h1.1v1.1h-1.1zM294.3 72.3h1.1v1.1h-1.1zM283.6 82.8h1.1v1.1h-1.1zM284.3 81.5h1.1v1.1h-1.1zM284.1 88.2h1.1v1.1h-1.1zM283.7 80.9h1.1v1.1h-1.1zM297.8 67.3h1.1v1.1h-1.1zM297.8 68.3h1.1v1.1h-1.1zM279.7 79.9h1.1v1.1h-1.1zM293.4 73.0h1.1v1.1h-1.1zM287.8 71.7h1.1v1.1h-1.1zM287.9 61.1h1.1v1.1h-1.1zM286.3 88.0h1.1v1.1h-1.1zM298.1 71.8h1.1v1.1h-1.1zM285.5 77.5h1.1v1.1h-1.1zM295.4 79.9h1.1v1.1h-1.1zM283.0 75.7h1.1v1.1h-1.1zM290.3 85.3h1.1v1.1h-1.1zM296.2 78.4h1.1v1.1h-1.1zM296.3 71.5h1.1v1.1h-1.1zM298.1 71.3h1.1v1.1h-1.1zM291.7 81.4h1.1v1.1h-1.1zM284.4 69.2h1.1v1.1h-1.1zM279.7 75.7h1.1v1.1h-1.1zM289.2 72.1h1.1v1.1h-1.1zM292.3 58.7h1.1v1.1h-1.1zM289.4 75.2h1.1v1.1h-1.1zM288.0 80.4h1.1v1.1h-1.1zM299.3 71.2h1.1v1.1h-1.1zM284.3 70.0h1.1v1.1h-1.1zM290.0 78.9h1.1v1.1h-1.1zM284.7 82.0h1.1v1.1h-1.1zM283.8 80.7h1.1v1.1h-1.1zM291.9 78.0h1.1v1.1h-1.1zM301.5 72.5h1.1v1.1h-1.1zM288.6 78.1h1.1v1.1h-1.1zM294.3 64.5h1.1v1.1h-1.1zM291.0 68.9h1.1v1.1h-1.1zM293.0 84.8h1.1v1.1h-1.1zM289.8 73.7h1.1v1.1h-1.1zM293.8 78.7h1.1v1.1h-1.1zM290.4 71.5h1.1v1.1h-1.1zM285.4 73.2h1.1v1.1h-1.1zM296.3 73.7h1.1v1.1h-1.1zM297.0 55.2h1.1v1.1h-1.1zM286.9 76.6h1.1v1.1h-1.1zM289.4 62.1h1.1v1.1h-1.1zM285.8 83.9h1.1v1.1h-1.1zM282.3 67.1h1.1v1.1h-1.1zM283.4 70.4h1.1v1.1h-1.1zM293.1 78.9h1.1v1.1h-1.1zM278.2 85.4h1.1v1.1h-1.1zM286.2 70.1h1.1v1.1h-1.1zM298.8 73.9h1.1v1.1h-1.1zM282.6 69.7h1.1v1.1h-1.1zM285.5 66.9h1.1v1.1h-1.1zM287.6 81.1h1.1v1.1h-1.1zM291.5 64.2h1.1v1.1h-1.1zM290.1 74.7h1.1v1.1h-1.1zM293.7 72.0h1.1v1.1h-1.1zM292.0 90.3h1.1v1.1h-1.1zM290.0 66.4h1.1v1.1h-1.1zM291.3 68.5h1.1v1.1h-1.1zM287.4 75.9h1.1v1.1h-1.1zM291.4 72.4h1.1v1.1h-1.1zM294.2 73.1h1.1v1.1h-1.1zM282.2 81.1h1.1v1.1h-1.1zM287.5 83.6h1.1v1.1h-1.1zM285.9 78.8h1.1v1.1h-1.1zM291.3 54.3h1.1v1.1h-1.1zM281.2 66.1h1.1v1.1h-1.1zM297.3 60.4h1.1v1.1h-1.1zM294.6 82.7h1.1v1.1h-1.1zM292.3 79.5h1.1v1.1h-1.1zM286.7 74.4h1.1v1.1h-1.1zM290.8 77.7h1.1v1.1h-1.1zM293.4 73.0h1.1v1.1h-1.1zM285.6 70.3h1.1v1.1h-1.1zM291.8 62.1h1.1v1.1h-1.1zM282.5 71.4h1.1v1.1h-1.1zM286.4 72.5h1.1v1.1h-1.1zM288.1 80.3h1.1v1.1h-1.1zM278.5 72.2h1.1v1.1h-1.1zM292.1 78.2h1.1v1.1h-1.1zM296.2 82.4h1.1v1.1h-1.1zM283.7 79.3h1.1v1.1h-1.1zM287.6 68.5h1.1v1.1h-1.1zM298.0 69.8h1.1v1.1h-1.1zM284.7 71.4h1.1v1.1h-1.1zM284.7 82.0h1.1v1.1h-1.1zM291.6 85.0h1.1v1.1h-1.1zM291.8 69.9h1.1v1.1h-1.1zM295.3 69.6h1.1v1.1h-1.1zM286.9 73.2h1.1v1.1h-1.1zM289.7 83.5h1.1v1.1h-1.1zM286.1 77.1h1.1v1.1h-1.1zM289.3 65.1h1.1v1.1h-1.1zM283.4 72.9h1.1v1.1h-1.1zM291.8 76.9h1.1v1.1h-1.1zM292.2 74.9h1.1v1.1h-1.1zM287.0 77.7h1.1v1.1h-1.1zM283.9 64.4h1.1v1.1h-1.1zM287.6 63.8h1.1v1.1h-1.1zM286.6 68.9h1.1v1.1h-1.1zM286.4 74.2h1.1v1.1h-1.1zM285.0 71.3h1.1v1.1h-1.1zM279.9 75.6h1.1v1.1h-1.1zM284.6 77.5h1.1v1.1h-1.1zM290.9 56.1h1.1v1.1h-1.1zM287.5 75.2h1.1v1.1h-1.1zM290.1 63.2h1.1v1.1h-1.1zM290.8 75.6h1.1v1.1h-1.1zM284.1 80.1h1.1v1.1h-1.1zM289.2 74.6h1.1v1.1h-1.1zM287.0 78.6h1.1v1.1h-1.1zM290.0 83.1h1.1v1.1h-1.1zM292.0 69.9h1.1v1.1h-1.1zM288.2 81.4h1.1v1.1h-1.1zM287.5 77.4h1.1v1.1h-1.1zM292.4 73.1h1.1v1.1h-1.1zM290.7 75.5h1.1v1.1h-1.1zM285.2 83.6h1.1v1.1h-1.1zM288.7 69.8h1.1v1.1h-1.1zM285.5 77.2h1.1v1.1h-1.1zM283.4 67.0h1.1v1.1h-1.1zM300.7 84.4h1.1v1.1h-1.1zM295.4 84.8h1.1v1.1h-1.1zM292.8 61.8h1.1v1.1h-1.1zM296.2 83.8h1.1v1.1h-1.1zM292.3 59.7h1.1v1.1h-1.1zM296.5 84.8h1.1v1.1h-1.1zM286.7 75.5h1.1v1.1h-1.1zM293.9 73.9h1.1v1.1h-1.1zM295.7 75.1h1.1v1.1h-1.1zM293.4 75.1h1.1v1.1h-1.1zM281.2 67.0h1.1v1.1h-1.1zM296.9 83.1h1.1v1.1h-1.1zM299.1 78.7h1.1v1.1h-1.1zM286.2 74.6h1.1v1.1h-1.1zM278.7 73.1h1.1v1.1h-1.1zM294.6 58.1h1.1v1.1h-1.1zM290.6 80.7h1.1v1.1h-1.1zM297.0 67.5h1.1v1.1h-1.1zM285.8 60.3h1.1v1.1h-1.1zM283.8 78.5h1.1v1.1h-1.1zM301.1 65.8h1.1v1.1h-1.1zM297.3 77.7h1.1v1.1h-1.1zM286.7 91.1h1.1v1.1h-1.1zM290.7 90.6h1.1v1.1h-1.1zM299.6 91.7h1.1v1.1h-1.1zM290.3 81.9h1.1v1.1h-1.1zM297.2 78.4h1.1v1.1h-1.1zM291.5 73.1h1.1v1.1h-1.1zM287.2 65.2h1.1v1.1h-1.1zM300.5 71.1h1.1v1.1h-1.1zM277.8 76.5h1.1v1.1h-1.1zM289.3 75.8h1.1v1.1h-1.1zM299.7 73.7h1.1v1.1h-1.1zM288.0 68.8h1.1v1.1h-1.1zM289.4 71.2h1.1v1.1h-1.1zM290.7 98.2h1.1v1.1h-1.1zM291.7 68.0h1.1v1.1h-1.1zM300.4 81.1h1.1v1.1h-1.1zM294.1 79.9h1.1v1.1h-1.1zM294.1 79.6h1.1v1.1h-1.1zM297.5 82.1h1.1v1.1h-1.1zM297.1 70.7h1.1v1.1h-1.1zM289.5 69.0h1.1v1.1h-1.1zM294.9 80.8h1.1v1.1h-1.1zM286.9 78.9h1.1v1.1h-1.1zM304.3 83.9h1.1v1.1h-1.1zM283.2 73.8h1.1v1.1h-1.1zM293.1 74.2h1.1v1.1h-1.1zM291.7 83.5h1.1v1.1h-1.1zM291.4 66.2h1.1v1.1h-1.1zM293.5 73.8h1.1v1.1h-1.1zM290.1 70.2h1.1v1.1h-1.1zM281.7 65.0h1.1v1.1h-1.1zM287.5 66.4h1.1v1.1h-1.1zM282.9 69.0h1.1v1.1h-1.1zM292.5 56.2h1.1v1.1h-1.1zM297.1 68.7h1.1v1.1h-1.1zM293.2 70.8h1.1v1.1h-1.1zM291.2 75.3h1.1v1.1h-1.1zM289.5 60.6h1.1v1.1h-1.1zM281.2 74.2h1.1v1.1h-1.1zM297.5 70.4h1.1v1.1h-1.1zM292.5 75.7h1.1v1.1h-1.1zM292.2 82.0h1.1v1.1h-1.1zM281.0 76.6h1.1v1.1h-1.1zM288.5 72.1h1.1v1.1h-1.1zM284.7 68.5h1.1v1.1h-1.1zM283.7 66.2h1.1v1.1h-1.1zM303.7 87.4h1.1v1.1h-1.1zM289.6 80.1h1.1v1.1h-1.1zM284.0 53.4h1.1v1.1h-1.1zM279.2 75.6h1.1v1.1h-1.1zM297.6 74.2h1.1v1.1h-1.1zM283.8 72.7h1.1v1.1h-1.1zM283.9 63.9h1.1v1.1h-1.1zM288.2 71.5h1.1v1.1h-1.1zM284.9 67.8h1.1v1.1h-1.1zM284.2 76.3h1.1v1.1h-1.1zM297.4 72.9h1.1v1.1h-1.1zM302.1 62.2h1.1v1.1h-1.1zM291.1 65.7h1.1v1.1h-1.1zM288.6 75.3h1.1v1.1h-1.1zM292.7 83.1h1.1v1.1h-1.1zM286.4 65.1h1.1v1.1h-1.1zM288.4 76.7h1.1v1.1h-1.1zM285.6 81.3h1.1v1.1h-1.1zM299.0 63.7h1.1v1.1h-1.1zM291.5 82.2h1.1v1.1h-1.1zM278.6 76.1h1.1v1.1h-1.1zM288.2 63.7h1.1v1.1h-1.1zM296.9 76.2h1.1v1.1h-1.1zM286.8 77.9h1.1v1.1h-1.1zM293.1 80.3h1.1v1.1h-1.1zM292.8 77.6h1.1v1.1h-1.1zM282.8 71.3h1.1v1.1h-1.1zM290.2 53.5h1.1v1.1h-1.1zM301.5 71.6h1.1v1.1h-1.1zM283.5 60.7h1.1v1.1h-1.1zM290.9 74.7h1.1v1.1h-1.1zM286.2 71.3h1.1v1.1h-1.1zM284.5 68.8h1.1v1.1h-1.1zM288.9 69.6h1.1v1.1h-1.1zM293.3 73.4h1.1v1.1h-1.1zM290.2 77.6h1.1v1.1h-1.1zM296.7 79.1h1.1v1.1h-1.1zM290.8 73.3h1.1v1.1h-1.1zM284.9 71.9h1.1v1.1h-1.1zM293.4 76.2h1.1v1.1h-1.1zM287.3 64.4h1.1v1.1h-1.1zM280.8 76.9h1.1v1.1h-1.1zM295.3 77.3h1.1v1.1h-1.1zM281.7 72.9h1.1v1.1h-1.1zM290.8 67.5h1.1v1.1h-1.1zM291.5 73.0h1.1v1.1h-1.1zM284.8 65.1h1.1v1.1h-1.1zM294.1 77.2h1.1v1.1h-1.1zM284.5 66.8h1.1v1.1h-1.1zM294.5 79.0h1.1v1.1h-1.1zM287.8 86.6h1.1v1.1h-1.1zM287.9 66.5h1.1v1.1h-1.1zM295.7 73.1h1.1v1.1h-1.1zM291.5 74.8h1.1v1.1h-1.1zM283.8 65.5h1.1v1.1h-1.1zM288.4 85.2h1.1v1.1h-1.1zM283.8 84.8h1.1v1.1h-1.1zM290.7 66.1h1.1v1.1h-1.1zM291.0 78.8h1.1v1.1h-1.1zM284.4 58.3h1.1v1.1h-1.1zM291.5 66.1h1.1v1.1h-1.1zM292.0 60.0h1.1v1.1h-1.1zM288.7 68.4h1.1v1.1h-1.1zM281.1 72.7h1.1v1.1h-1.1zM290.5 70.3h1.1v1.1h-1.1zM282.8 76.1h1.1v1.1h-1.1zM279.6 78.6h1.1v1.1h-1.1zM292.3 87.2h1.1v1.1h-1.1zM294.5 77.2h1.1v1.1h-1.1zM291.0 74.7h1.1v1.1h-1.1zM282.0 85.6h1.1v1.1h-1.1zM292.5 72.3h1.1v1.1h-1.1zM283.0 85.8h1.1v1.1h-1.1zM292.5 65.5h1.1v1.1h-1.1zM293.3 88.9h1.1v1.1h-1.1zM289.4 77.5h1.1v1.1h-1.1zM287.2 69.7h1.1v1.1h-1.1zM295.5 97.8h1.1v1.1h-1.1zM290.2 73.6h1.1v1.1h-1.1zM294.0 72.2h1.1v1.1h-1.1zM293.6 80.8h1.1v1.1h-1.1zM283.8 66.4h1.1v1.1h-1.1zM289.1 80.8h1.1v1.1h-1.1zM291.1 83.9h1.1v1.1h-1.1zM281.7 78.2h1.1v1.1h-1.1zM286.0 75.3h1.1v1.1h-1.1zM291.3 67.2h1.1v1.1h-1.1zM288.2 65.7h1.1v1.1h-1.1zM291.0 68.1h1.1v1.1h-1.1zM286.7 76.2h1.1v1.1h-1.1zM285.8 83.2h1.1v1.1h-1.1zM285.9 80.9h1.1v1.1h-1.1zM291.1 66.7h1.1v1.1h-1.1zM288.3 68.2h1.1v1.1h-1.1zM287.5 72.4h1.1v1.1h-1.1zM299.7 71.3h1.1v1.1h-1.1zM298.3 77.9h1.1v1.1h-1.1zM282.2 57.0h1.1v1.1h-1.1zM293.3 59.4h1.1v1.1h-1.1zM293.5 82.3h1.1v1.1h-1.1zM291.7 72.9h1.1v1.1h-1.1zM288.1 76.5h1.1v1.1h-1.1zM287.8 70.5h1.1v1.1h-1.1zM287.4 83.3h1.1v1.1h-1.1zM286.0 77.4h1.1v1.1h-1.1zM283.0 69.1h1.1v1.1h-1.1zM281.8 73.0h1.1v1.1h-1.1zM293.3 76.8h1.1v1.1h-1.1zM286.7 79.1h1.1v1.1h-1.1zM287.6 77.3h1.1v1.1h-1.1zM291.0 78.6h1.1v1.1h-1.1zM293.8 73.7h1.1v1.1h-1.1zM302.1 72.7h1.1v1.1h-1.1zM286.4 85.8h1.1v1.1h-1.1zM292.6 88.8h1.1v1.1h-1.1zM292.4 73.0h1.1v1.1h-1.1zM293.6 68.6h1.1v1.1h-1.1zM287.0 70.3h1.1v1.1h-1.1zM288.3 80.4h1.1v1.1h-1.1zM286.8 76.9h1.1v1.1h-1.1zM286.7 81.2h1.1v1.1h-1.1zM290.4 66.4h1.1v1.1h-1.1zM295.2 76.1h1.1v1.1h-1.1zM296.7 81.8h1.1v1.1h-1.1zM293.1 73.4h1.1v1.1h-1.1zM283.4 72.8h1.1v1.1h-1.1zM286.9 76.4h1.1v1.1h-1.1zM286.9 97.5h1.1v1.1h-1.1zM280.5 83.4h1.1v1.1h-1.1zM286.9 72.7h1.1v1.1h-1.1zM294.7 74.5h1.1v1.1h-1.1zM282.7 77.6h1.1v1.1h-1.1zM288.4 59.0h1.1v1.1h-1.1zM290.6 66.5h1.1v1.1h-1.1zM285.3 78.1h1.1v1.1h-1.1zM291.2 72.3h1.1v1.1h-1.1zM301.7 77.7h1.1v1.1h-1.1zM286.1 76.3h1.1v1.1h-1.1zM288.8 57.9h1.1v1.1h-1.1zM280.7 64.0h1.1v1.1h-1.1zM301.1 73.1h1.1v1.1h-1.1zM288.0 70.2h1.1v1.1h-1.1zM295.0 74.7h1.1v1.1h-1.1zM299.1 80.4h1.1v1.1h-1.1zM298.7 73.6h1.1v1.1h-1.1zM291.6 71.2h1.1v1.1h-1.1zM288.6 61.5h1.1v1.1h-1.1zM286.2 67.3h1.1v1.1h-1.1zM285.9 83.7h1.1v1.1h-1.1zM291.0 83.7h1.1v1.1h-1.1zM294.3 81.4h1.1v1.1h-1.1zM295.1 69.9h1.1v1.1h-1.1zM294.0 72.1h1.1v1.1h-1.1zM286.5 83.5h1.1v1.1h-1.1zM301.6 67.1h1.1v1.1h-1.1zM299.2 80.7h1.1v1.1h-1.1zM284.8 76.6h1.1v1.1h-1.1zM291.6 77.3h1.1v1.1h-1.1zM287.5 64.8h1.1v1.1h-1.1zM289.7 81.0h1.1v1.1h-1.1zM293.9 79.5h1.1v1.1h-1.1zM295.7 67.0h1.1v1.1h-1.1zM289.3 77.1h1.1v1.1h-1.1zM295.1 75.7h1.1v1.1h-1.1zM292.4 75.5h1.1v1.1h-1.1zM301.2 58.1h1.1v1.1h-1.1zM289.4 93.1h1.1v1.1h-1.1zM290.8 60.7h1.1v1.1h-1.1zM290.2 63.7h1.1v1.1h-1.1zM285.7 76.2h1.1v1.1h-1.1zM299.1 78.0h1.1v1.1h-1.1zM293.2 82.2h1.1v1.1h-1.1zM290.6 68.1h1.1v1.1h-1.1zM289.0 77.0h1.1v1.1h-1.1zM288.0 69.5h1.1v1.1h-1.1zM287.5 63.2h1.1v1.1h-1.1zM283.8 73.8h1.1v1.1h-1.1zM287.5 74.8h1.1v1.1h-1.1zM297.3 76.8h1.1v1.1h-1.1zM289.3 65.7h1.1v1.1h-1.1zM283.5 77.3h1.1v1.1h-1.1zM284.6 77.7h1.1v1.1h-1.1zM283.5 75.5h1.1v1.1h-1.1zM289.1 82.0h1.1v1.1h-1.1zM287.3 71.7h1.1v1.1h-1.1zM290.9 74.9h1.1v1.1h-1.1zM298.9 72.6h1.1v1.1h-1.1zM286.5 72.1h1.1v1.1h-1.1zM292.1 76.3h1.1v1.1h-1.1zM293.4 64.1h1.1v1.1h-1.1zM303.3 88.3h1.1v1.1h-1.1zM289.3 65.4h1.1v1.1h-1.1zM290.4 77.6h1.1v1.1h-1.1zM277.0 74.6h1.1v1.1h-1.1zM281.3 77.9h1.1v1.1h-1.1zM297.2 82.3h1.1v1.1h-1.1zM281.1 84.9h1.1v1.1h-1.1zM294.6 71.8h1.1v1.1h-1.1zM292.3 85.9h1.1v1.1h-1.1zM287.6 74.4h1.1v1.1h-1.1zM286.4 83.2h1.1v1.1h-1.1zM277.5 85.2h1.1v1.1h-1.1zM284.1 81.5h1.1v1.1h-1.1zM280.4 67.5h1.1v1.1h-1.1zM286.2 80.7h1.1v1.1h-1.1zM280.5 79.0h1.1v1.1h-1.1zM286.0 83.8h1.1v1.1h-1.1zM287.8 78.1h1.1v1.1h-1.1zM288.5 88.0h1.1v1.1h-1.1zM287.5 74.3h1.1v1.1h-1.1zM300.6 75.1h1.1v1.1h-1.1zM293.3 69.0h1.1v1.1h-1.1zM290.6 57.5h1.1v1.1h-1.1zM290.1 69.6h1.1v1.1h-1.1zM281.1 63.9h1.1v1.1h-1.1zM295.9 77.7h1.1v1.1h-1.1zM281.0 88.1h1.1v1.1h-1.1zM285.6 71.7h1.1v1.1h-1.1zM290.9 66.0h1.1v1.1h-1.1zM280.5 68.9h1.1v1.1h-1.1zM296.1 81.6h1.1v1.1h-1.1zM280.7 83.5h1.1v1.1h-1.1zM289.7 78.3h1.1v1.1h-1.1zM289.8 77.6h1.1v1.1h-1.1zM283.9 67.7h1.1v1.1h-1.1zM285.6 71.7h1.1v1.1h-1.1zM293.0 65.4h1.1v1.1h-1.1zM298.4 69.8h1.1v1.1h-1.1zM286.2 79.8h1.1v1.1h-1.1zM291.9 72.0h1.1v1.1h-1.1zM283.5 67.0h1.1v1.1h-1.1zM280.6 83.1h1.1v1.1h-1.1zM295.5 88.5h1.1v1.1h-1.1zM292.3 77.0h1.1v1.1h-1.1zM293.7 81.6h1.1v1.1h-1.1zM288.1 77.1h1.1v1.1h-1.1zM301.5 61.8h1.1v1.1h-1.1zM281.7 67.3h1.1v1.1h-1.1zM293.7 83.4h1.1v1.1h-1.1zM287.6 79.5h1.1v1.1h-1.1zM289.2 76.8h1.1v1.1h-1.1zM286.5 74.3h1.1v1.1h-1.1zM289.5 83.0h1.1v1.1h-1.1zM302.0 60.9h1.1v1.1h-1.1zM292.5 74.5h1.1v1.1h-1.1zM294.9 82.5h1.1v1.1h-1.1zM293.9 80.6h1.1v1.1h-1.1zM284.2 61.7h1.1v1.1h-1.1zM298.8 83.6h1.1v1.1h-1.1zM284.2 84.2h1.1v1.1h-1.1zM293.2 56.1h1.1v1.1h-1.1zM294.5 67.1h1.1v1.1h-1.1zM296.0 69.4h1.1v1.1h-1.1zM285.3 62.9h1.1v1.1h-1.1zM288.3 82.1h1.1v1.1h-1.1zM285.7 60.5h1.1v1.1h-1.1zM301.5 88.4h1.1v1.1h-1.1zM293.4 70.5h1.1v1.1h-1.1zM282.7 62.2h1.1v1.1h-1.1zM292.6 84.3h1.1v1.1h-1.1zM283.6 74.5h1.1v1.1h-1.1zM287.9 72.6h1.1v1.1h-1.1zM292.3 90.2h1.1v1.1h-1.1zM285.9 80.9h1.1v1.1h-1.1zM295.6 72.4h1.1v1.1h-1.1zM288.7 64.4h1.1v1.1h-1.1zM295.5 70.5h1.1v1.1h-1.1zM285.8 75.0h1.1v1.1h-1.1zM284.7 66.7h1.1v1.1h-1.1zM287.8 85.7h1.1v1.1h-1.1zM288.4 78.5h1.1v1.1h-1.1zM281.3 59.9h1.1v1.1h-1.1zM299.7 71.5h1.1v1.1h-1.1zM280.9 73.7h1.1v1.1h-1.1zM292.9 61.5h1.1v1.1h-1.1zM284.6 76.5h1.1v1.1h-1.1zM284.3 80.5h1.1v1.1h-1.1zM294.9 77.8h1.1v1.1h-1.1zM287.1 74.2h1.1v1.1h-1.1zM286.0 73.5h1.1v1.1h-1.1zM291.3 72.2h1.1v1.1h-1.1zM294.9 94.0h1.1v1.1h-1.1zM286.4 77.1h1.1v1.1h-1.1zM294.1 79.4h1.1v1.1h-1.1zM288.2 70.9h1.1v1.1h-1.1zM295.1 79.2h1.1v1.1h-1.1zM292.3 68.4h1.1v1.1h-1.1zM293.0 80.5h1.1v1.1h-1.1zM288.5 79.4h1.1v1.1h-1.1zM301.7 60.4h1.1v1.1h-1.1zM292.9 65.7h1.1v1.1h-1.1zM281.9 72.7h1.1v1.1h-1.1zM292.6 74.9h1.1v1.1h-1.1zM283.0 63.7h1.1v1.1h-1.1zM286.4 74.6h1.1v1.1h-1.1zM284.8 63.2h1.1v1.1h-1.1zM299.3 68.2h1.1v1.1h-1.1zM288.6 70.4h1.1v1.1h-1.1zM286.2 74.8h1.1v1.1h-1.1zM287.8 79.2h1.1v1.1h-1.1zM282.9 63.3h1.1v1.1h-1.1zM300.4 73.9h1.1v1.1h-1.1zM293.8 83.4h1.1v1.1h-1.1zM292.6 74.8h1.1v1.1h-1.1zM280.8 62.4h1.1v1.1h-1.1zM295.0 79.6h1.1v1.1h-1.1zM292.7 62.0h1.1v1.1h-1.1zM277.5 66.5h1.1v1.1h-1.1zM282.9 75.7h1.1v1.1h-1.1zM283.8 86.5h1.1v1.1h-1.1zM286.0 70.3h1.1v1.1h-1.1zM294.4 77.0h1.1v1.1h-1.1zM284.4 80.7h1.1v1.1h-1.1zM300.3 65.2h1.1v1.1h-1.1zM288.1 66.4h1.1v1.1h-1.1zM278.6 79.2h1.1v1.1h-1.1zM293.4 81.9h1.1v1.1h-1.1zM291.9 59.3h1.1v1.1h-1.1zM289.3 69.4h1.1v1.1h-1.1zM282.9 66.1h1.1v1.1h-1.1zM293.8 72.3h1.1v1.1h-1.1zM300.6 78.1h1.1v1.1h-1.1zM278.7 81.3h1.1v1.1h-1.1zM296.5 74.7h1.1v1.1h-1.1zM282.7 87.9h1.1v1.1h-1.1zM282.1 73.9h1.1v1.1h-1.1zM278.8 65.0h1.1v1.1h-1.1zM279.9 82.8h1.1v1.1h-1.1zM296.1 71.4h1.1v1.1h-1.1zM281.8 74.0h1.1v1.1h-1.1zM291.6 62.9h1.1v1.1h-1.1zM283.0 73.7h1.1v1.1h-1.1zM293.5 75.1h1.1v1.1h-1.1zM292.0 65.0h1.1v1.1h-1.1zM284.3 73.6h1.1v1.1h-1.1zM287.4 78.2h1.1v1.1h-1.1zM285.1 85.5h1.1v1.1h-1.1zM289.7 78.5h1.1v1.1h-1.1zM293.1 82.4h1.1v1.1h-1.1zM291.8 61.2h1.1v1.1h-1.1zM285.9 88.7h1.1v1.1h-1.1zM292.2 78.8h1.1v1.1h-1.1zM292.1 69.6h1.1v1.1h-1.1zM285.7 69.6h1.1v1.1h-1.1zM296.1 77.3h1.1v1.1h-1.1zM299.6 78.3h1.1v1.1h-1.1zM300.2 78.0h1.1v1.1h-1.1zM282.8 87.8h1.1v1.1h-1.1zM291.4 83.6h1.1v1.1h-1.1zM290.7 72.0h1.1v1.1h-1.1zM290.5 65.9h1.1v1.1h-1.1zM282.7 67.7h1.1v1.1h-1.1zM286.5 64.1h1.1v1.1h-1.1zM288.9 76.8h1.1v1.1h-1.1zM301.0 88.6h1.1v1.1h-1.1zM289.2 81.3h1.1v1.1h-1.1zM288.3 77.5h1.1v1.1h-1.1zM289.3 70.4h1.1v1.1h-1.1zM289.9 63.2h1.1v1.1h-1.1zM292.0 72.3h1.1v1.1h-1.1zM283.3 71.7h1.1v1.1h-1.1zM292.7 69.3h1.1v1.1h-1.1zM292.2 78.9h1.1v1.1h-1.1zM298.4 66.2h1.1v1.1h-1.1zM288.9 78.4h1.1v1.1h-1.1zM298.1 76.5h1.1v1.1h-1.1zM293.8 63.2h1.1v1.1h-1.1zM286.2 87.3h1.1v1.1h-1.1zM287.9 91.1h1.1v1.1h-1.1zM285.3 72.4h1.1v1.1h-1.1zM280.4 79.4h1.1v1.1h-1.1zM291.0 90.0h1.1v1.1h-1.1zM290.4 72.6h1.1v1.1h-1.1zM281.4 73.9h1.1v1.1h-1.1zM294.9 80.2h1.1v1.1h-1.1zM296.5 81.2h1.1v1.1h-1.1zM289.2 79.2h1.1v1.1h-1.1zM290.5 64.2h1.1v1.1h-1.1zM299.3 77.4h1.1v1.1h-1.1zM283.5 77.5h1.1v1.1h-1.1zM291.1 82.2h1.1v1.1h-1.1zM292.7 86.3h1.1v1.1h-1.1zM284.1 60.2h1.1v1.1h-1.1zM291.1 77.1h1.1v1.1h-1.1zM291.5 65.9h1.1v1.1h-1.1zM286.8 76.0h1.1v1.1h-1.1zM293.8 91.4h1.1v1.1h-1.1zM291.2 69.8h1.1v1.1h-1.1zM288.7 73.7h1.1v1.1h-1.1zM283.8 80.2h1.1v1.1h-1.1zM279.2 75.3h1.1v1.1h-1.1zM290.2 76.8h1.1v1.1h-1.1zM297.0 73.7h1.1v1.1h-1.1zM290.0 81.1h1.1v1.1h-1.1zM280.6 72.2h1.1v1.1h-1.1zM289.9 81.9h1.1v1.1h-1.1zM284.9 80.7h1.1v1.1h-1.1zM291.7 63.0h1.1v1.1h-1.1zM281.0 63.4h1.1v1.1h-1.1zM290.3 76.1h1.1v1.1h-1.1zM293.7 80.9h1.1v1.1h-1.1zM286.3 82.8h1.1v1.1h-1.1zM294.2 78.2h1.1v1.1h-1.1zM292.3 64.5h1.1v1.1h-1.1zM291.6 66.5h1.1v1.1h-1.1zM282.6 71.8h1.1v1.1h-1.1zM290.3 74.1h1.1v1.1h-1.1zM287.6 66.7h1.1v1.1h-1.1zM290.6 68.8h1.1v1.1h-1.1zM281.4 75.2h1.1v1.1h-1.1zM297.9 71.4h1.1v1.1h-1.1zM283.4 85.2h1.1v1.1h-1.1zM299.4 72.2h1.1v1.1h-1.1zM288.3 76.1h1.1v1.1h-1.1zM295.2 77.9h1.1v1.1h-1.1zM279.0 65.9h1.1v1.1h-1.1zM282.4 77.9h1.1v1.1h-1.1zM290.1 88.4h1.1v1.1h-1.1zM287.9 76.9h1.1v1.1h-1.1zM289.9 75.6h1.1v1.1h-1.1zM302.9 76.7h1.1v1.1h-1.1zM298.0 84.6h1.1v1.1h-1.1zM286.0 79.8h1.1v1.1h-1.1zM287.3 75.4h1.1v1.1h-1.1zM290.4 74.7h1.1v1.1h-1.1zM286.8 86.6h1.1v1.1h-1.1zM288.0 80.0h1.1v1.1h-1.1zM299.2 79.4h1.1v1.1h-1.1zM295.4 85.3h1.1v1.1h-1.1zM295.8 87.9h1.1v1.1h-1.1zM281.2 89.7h1.1v1.1h-1.1zM289.7 60.9h1.1v1.1h-1.1zM285.8 63.7h1.1v1.1h-1.1zM289.4 62.9h1.1v1.1h-1.1zM283.7 76.8h1.1v1.1h-1.1zM290.4 68.3h1.1v1.1h-1.1zM288.1 73.7h1.1v1.1h-1.1zM289.9 74.4h1.1v1.1h-1.1zM288.2 81.3h1.1v1.1h-1.1zM280.2 70.7h1.1v1.1h-1.1zM290.3 71.4h1.1v1.1h-1.1zM286.3 71.1h1.1v1.1h-1.1zM290.7 84.2h1.1v1.1h-1.1zM288.4 72.4h1.1v1.1h-1.1zM291.6 72.6h1.1v1.1h-1.1zM278.3 76.6h1.1v1.1h-1.1zM287.3 70.0h1.1v1.1h-1.1zM293.1 74.8h1.1v1.1h-1.1zM286.2 57.5h1.1v1.1h-1.1zM279.5 74.6h1.1v1.1h-1.1zM288.8 77.9h1.1v1.1h-1.1zM290.8 70.8h1.1v1.1h-1.1zM282.2 66.0h1.1v1.1h-1.1zM288.7 65.5h1.1v1.1h-1.1zM293.9 64.2h1.1v1.1h-1.1zM279.1 73.0h1.1v1.1h-1.1zM279.2 87.2h1.1v1.1h-1.1zM283.7 74.1h1.1v1.1h-1.1zM288.1 68.1h1.1v1.1h-1.1zM279.3 60.0h1.1v1.1h-1.1zM294.5 82.5h1.1v1.1h-1.1zM302.0 63.1h1.1v1.1h-1.1zM292.8 74.4h1.1v1.1h-1.1zM294.4 70.5h1.1v1.1h-1.1zM293.7 81.5h1.1v1.1h-1.1zM293.0 85.8h1.1v1.1h-1.1zM288.5 86.5h1.1v1.1h-1.1zM285.4 87.5h1.1v1.1h-1.1zM284.9 74.5h1.1v1.1h-1.1zM295.5 80.1h1.1v1.1h-1.1zM290.1 87.8h1.1v1.1h-1.1zM280.9 68.1h1.1v1.1h-1.1zM298.3 77.1h1.1v1.1h-1.1zM277.5 77.2h1.1v1.1h-1.1zM282.6 86.0h1.1v1.1h-1.1zM296.1 70.2h1.1v1.1h-1.1zM297.0 68.0h1.1v1.1h-1.1zM294.8 79.0h1.1v1.1h-1.1zM288.8 63.4h1.1v1.1h-1.1zM287.9 56.6h1.1v1.1h-1.1zM286.2 60.1h1.1v1.1h-1.1zM296.5 67.0h1.1v1.1h-1.1zM291.6 70.5h1.1v1.1h-1.1zM301.8 80.5h1.1v1.1h-1.1zM289.9 69.5h1.1v1.1h-1.1zM295.1 69.9h1.1v1.1h-1.1zM281.3 74.2h1.1v1.1h-1.1zM279.8 74.6h1.1v1.1h-1.1zM294.0 86.3h1.1v1.1h-1.1zM291.0 76.0h1.1v1.1h-1.1zM293.8 85.4h1.1v1.1h-1.1zM287.6 64.9h1.1v1.1h-1.1zM284.9 64.7h1.1v1.1h-1.1zM284.3 73.6h1.1v1.1h-1.1zM291.5 75.7h1.1v1.1h-1.1zM289.9 71.7h1.1v1.1h-1.1zM292.0 81.4h1.1v1.1h-1.1zM293.9 86.2h1.1v1.1h-1.1zM287.8 72.5h1.1v1.1h-1.1zM299.3 76.1h1.1v1.1h-1.1zM291.9 71.9h1.1v1.1h-1.1zM295.1 71.4h1.1v1.1h-1.1zM283.7 74.0h1.1v1.1h-1.1zM286.9 81.0h1.1v1.1h-1.1zM287.3 75.5h1.1v1.1h-1.1zM288.2 77.2h1.1v1.1h-1.1zM285.8 83.1h1.1v1.1h-1.1zM281.2 71.5h1.1v1.1h-1.1zM285.4 79.6h1.1v1.1h-1.1zM289.7 78.3h1.1v1.1h-1.1zM287.6 68.9h1.1v1.1h-1.1zM283.0 71.9h1.1v1.1h-1.1zM286.4 76.7h1.1v1.1h-1.1zM291.6 82.1h1.1v1.1h-1.1zM288.9 68.7h1.1v1.1h-1.1zM283.3 75.0h1.1v1.1h-1.1zM291.6 89.7h1.1v1.1h-1.1zM290.6 88.2h1.1v1.1h-1.1zM300.4 66.3h1.1v1.1h-1.1zM296.5 83.4h1.1v1.1h-1.1zM297.3 74.4h1.1v1.1h-1.1zM295.0 70.7h1.1v1.1h-1.1zM289.1 74.6h1.1v1.1h-1.1zM299.8 72.8h1.1v1.1h-1.1zM295.0 75.0h1.1v1.1h-1.1zM285.4 76.4h1.1v1.1h-1.1zM293.3 68.9h1.1v1.1h-1.1zM293.2 68.9h1.1v1.1h-1.1zM284.4 76.2h1.1v1.1h-1.1zM288.1 66.8h1.1v1.1h-1.1zM280.0 74.7h1.1v1.1h-1.1zM290.9 70.9h1.1v1.1h-1.1zM290.6 62.6h1.1v1.1h-1.1zM291.8 77.7h1.1v1.1h-1.1zM291.1 69.7h1.1v1.1h-1.1zM290.0 75.5h1.1v1.1h-1.1zM295.7 76.7h1.1v1.1h-1.1zM291.0 68.9h1.1v1.1h-1.1zM294.5 83.6h1.1v1.1h-1.1zM286.6 79.5h1.1v1.1h-1.1zM291.3 74.1h1.1v1.1h-1.1zM282.0 88.2h1.1v1.1h-1.1zM278.7 76.9h1.1v1.1h-1.1zM287.3 83.4h1.1v1.1h-1.1zM287.0 74.8h1.1v1.1h-1.1zM293.0 78.1h1.1v1.1h-1.1zM286.5 79.8h1.1v1.1h-1.1zM291.8 82.2h1.1v1.1h-1.1zM286.5 74.1h1.1v1.1h-1.1zM287.2 68.0h1.1v1.1h-1.1zM291.0 77.7h1.1v1.1h-1.1zM297.7 72.0h1.1v1.1h-1.1zM291.7 83.4h1.1v1.1h-1.1zM288.8 75.0h1.1v1.1h-1.1zM290.3 69.1h1.1v1.1h-1.1zM283.8 83.2h1.1v1.1h-1.1zM290.5 73.9h1.1v1.1h-1.1zM282.3 75.4h1.1v1.1h-1.1zM296.3 65.6h1.1v1.1h-1.1zM284.3 83.1h1.1v1.1h-1.1zM297.8 86.6h1.1v1.1h-1.1zM286.3 79.2h1.1v1.1h-1.1zM285.2 78.5h1.1v1.1h-1.1zM287.4 76.0h1.1v1.1h-1.1zM297.2 77.1h1.1v1.1h-1.1zM288.1 74.9h1.1v1.1h-1.1zM291.0 70.5h1.1v1.1h-1.1zM290.7 79.2h1.1v1.1h-1.1zM298.5 58.5h1.1v1.1h-1.1zM282.6 64.9h1.1v1.1h-1.1zM294.6 93.4h1.1v1.1h-1.1zM290.6 75.4h1.1v1.1h-1.1zM296.1 55.6h1.1v1.1h-1.1zM290.4 70.6h1.1v1.1h-1.1zM286.7 77.1h1.1v1.1h-1.1zM286.1 83.1h1.1v1.1h-1.1zM289.5 77.5h1.1v1.1h-1.1zM304.1 71.0h1.1v1.1h-1.1zM294.8 68.1h1.1v1.1h-1.1zM296.7 82.0h1.1v1.1h-1.1zM290.3 82.2h1.1v1.1h-1.1zM298.8 85.2h1.1v1.1h-1.1zM289.5 74.1h1.1v1.1h-1.1zM295.9 63.1h1.1v1.1h-1.1zM286.0 78.3h1.1v1.1h-1.1zM292.8 88.9h1.1v1.1h-1.1zM299.6 77.0h1.1v1.1h-1.1zM292.0 64.3h1.1v1.1h-1.1zM288.4 76.5h1.1v1.1h-1.1zM288.2 75.0h1.1v1.1h-1.1zM293.0 67.1h1.1v1.1h-1.1zM286.2 60.8h1.1v1.1h-1.1zM296.1 66.3h1.1v1.1h-1.1zM279.7 80.4h1.1v1.1h-1.1zM288.3 82.0h1.1v1.1h-1.1zM287.4 90.9h1.1v1.1h-1.1zM293.6 75.7h1.1v1.1h-1.1zM290.2 72.9h1.1v1.1h-1.1zM294.1 89.9h1.1v1.1h-1.1zM287.1 66.1h1.1v1.1h-1.1zM292.9 82.7h1.1v1.1h-1.1zM280.9 69.2h1.1v1.1h-1.1zM283.8 78.8h1.1v1.1h-1.1zM292.4 68.8h1.1v1.1h-1.1zM283.0 79.8h1.1v1.1h-1.1zM277.7 79.5h1.1v1.1h-1.1zM288.6 89.3h1.1v1.1h-1.1zM295.2 70.0h1.1v1.1h-1.1zM287.9 72.4h1.1v1.1h-1.1zM285.3 75.1h1.1v1.1h-1.1zM295.0 62.9h1.1v1.1h-1.1zM288.2 86.0h1.1v1.1h-1.1zM293.7 68.2h1.1v1.1h-1.1zM284.9 67.9h1.1v1.1h-1.1zM280.3 83.3h1.1v1.1h-1.1zM289.9 69.1h1.1v1.1h-1.1zM281.3 71.5h1.1v1.1h-1.1zM286.6 87.7h1.1v1.1h-1.1zM286.9 75.4h1.1v1.1h-1.1zM295.6 79.6h1.1v1.1h-1.1zM288.5 57.7h1.1v1.1h-1.1zM297.5 79.1h1.1v1.1h-1.1zM287.0 73.8h1.1v1.1h-1.1zM284.0 67.6h1.1v1.1h-1.1zM281.0 78.4h1.1v1.1h-1.1zM292.5 75.8h1.1v1.1h-1.1zM294.0 78.6h1.1v1.1h-1.1zM290.2 67.7h1.1v1.1h-1.1zM292.9 83.6h1.1v1.1h-1.1zM293.1 84.1h1.1v1.1h-1.1zM286.8 67.0h1.1v1.1h-1.1zM296.6 70.0h1.1v1.1h-1.1zM290.9 73.0h1.1v1.1h-1.1zM289.6 72.4h1.1v1.1h-1.1zM286.4 60.8h1.1v1.1h-1.1zM300.4 76.1h1.1v1.1h-1.1zM278.5 67.6h1.1v1.1h-1.1zM283.1 68.8h1.1v1.1h-1.1zM298.8 72.6h1.1v1.1h-1.1zM293.7 79.1h1.1v1.1h-1.1zM282.4 83.8h1.1v1.1h-1.1zM279.9 70.1h1.1v1.1h-1.1zM287.5 84.1h1.1v1.1h-1.1zM290.2 73.6h1.1v1.1h-1.1zM284.9 75.2h1.1v1.1h-1.1zM289.7 80.1h1.1v1.1h-1.1zM297.4 80.1h1.1v1.1h-1.1zM289.6 73.3h1.1v1.1h-1.1zM298.6 76.0h1.1v1.1h-1.1zM289.4 88.2h1.1v1.1h-1.1zM298.4 78.8h1.1v1.1h-1.1zM288.9 69.7h1.1v1.1h-1.1zM295.6 71.0h1.1v1.1h-1.1zM295.0 68.5h1.1v1.1h-1.1zM290.1 77.6h1.1v1.1h-1.1zM290.3 76.3h1.1v1.1h-1.1zM291.7 65.9h1.1v1.1h-1.1zM283.2 73.4h1.1v1.1h-1.1zM299.7 73.6h1.1v1.1h-1.1zM284.2 69.5h1.1v1.1h-1.1zM289.7 83.5h1.1v1.1h-1.1zM286.3 78.8h1.1v1.1h-1.1zM290.6 71.8h1.1v1.1h-1.1zM284.1 73.3h1.1v1.1h-1.1zM285.4 78.6h1.1v1.1h-1.1zM279.5 83.1h1.1v1.1h-1.1zM293.8 78.9h1.1v1.1h-1.1zM298.0 79.1h1.1v1.1h-1.1zM279.8 74.9h1.1v1.1h-1.1zM292.0 69.3h1.1v1.1h-1.1zM283.1 77.8h1.1v1.1h-1.1zM292.4 71.3h1.1v1.1h-1.1zM288.1 70.6h1.1v1.1h-1.1zM286.3 74.1h1.1v1.1h-1.1zM295.6 62.2h1.1v1.1h-1.1zM287.6 86.8h1.1v1.1h-1.1zM291.3 75.7h1.1v1.1h-1.1zM294.2 66.9h1.1v1.1h-1.1zM282.7 61.9h1.1v1.1h-1.1zM281.3 76.4h1.1v1.1h-1.1zM294.3 71.3h1.1v1.1h-1.1zM285.7 77.6h1.1v1.1h-1.1zM293.0 76.5h1.1v1.1h-1.1zM278.7 70.4h1.1v1.1h-1.1zM284.7 69.5h1.1v1.1h-1.1zM298.0 84.5h1.1v1.1h-1.1zM292.2 76.6h1.1v1.1h-1.1zM290.5 70.0h1.1v1.1h-1.1zM289.2 89.0h1.1v1.1h-1.1zM284.6 69.5h1.1v1.1h-1.1zM290.4 81.3h1.1v1.1h-1.1zM294.2 67.2h1.1v1.1h-1.1zM288.8 72.5h1.1v1.1h-1.1zM282.5 75.1h1.1v1.1h-1.1zM286.8 81.5h1.1v1.1h-1.1zM291.9 68.6h1.1v1.1h-1.1zM290.0 71.8h1.1v1.1h-1.1zM285.9 70.8h1.1v1.1h-1.1zM295.5 71.4h1.1v1.1h-1.1zM279.8 68.6h1.1v1.1h-1.1zM294.1 90.8h1.1v1.1h-1.1zM283.6 71.8h1.1v1.1h-1.1zM287.6 63.8h1.1v1.1h-1.1zM291.8 74.1h1.1v1.1h-1.1zM291.1 91.5h1.1v1.1h-1.1zM288.0 80.5h1.1v1.1h-1.1zM294.2 69.7h1.1v1.1h-1.1zM286.2 86.3h1.1v1.1h-1.1zM293.5 75.6h1.1v1.1h-1.1zM283.3 81.2h1.1v1.1h-1.1zM292.5 91.2h1.1v1.1h-1.1zM297.8 80.6h1.1v1.1h-1.1zM291.0 75.0h1.1v1.1h-1.1zM286.4 76.8h1.1v1.1h-1.1zM290.9 79.4h1.1v1.1h-1.1zM295.6 76.9h1.1v1.1h-1.1zM286.4 80.6h1.1v1.1h-1.1zM298.3 68.2h1.1v1.1h-1.1zM291.9 78.7h1.1v1.1h-1.1zM292.5 78.3h1.1v1.1h-1.1zM289.0 73.7h1.1v1.1h-1.1zM299.0 87.6h1.1v1.1h-1.1zM281.6 55.3h1.1v1.1h-1.1zM292.0 69.4h1.1v1.1h-1.1zM286.6 62.4h1.1v1.1h-1.1zM291.5 74.1h1.1v1.1h-1.1zM286.5 81.3h1.1v1.1h-1.1zM303.2 85.7h1.1v1.1h-1.1zM296.1 71.4h1.1v1.1h-1.1zM293.2 74.2h1.1v1.1h-1.1zM296.0 78.9h1.1v1.1h-1.1zM289.3 78.7h1.1v1.1h-1.1zM285.5 80.5h1.1v1.1h-1.1zM298.0 71.8h1.1v1.1h-1.1zM292.6 61.9h1.1v1.1h-1.1zM294.8 81.2h1.1v1.1h-1.1zM283.7 87.7h1.1v1.1h-1.1zM290.1 61.4h1.1v1.1h-1.1zM281.8 81.1h1.1v1.1h-1.1zM288.0 82.9h1.1v1.1h-1.1zM280.8 73.8h1.1v1.1h-1.1zM295.0 69.4h1.1v1.1h-1.1zM293.3 71.8h1.1v1.1h-1.1zM291.4 76.9h1.1v1.1h-1.1zM302.1 65.1h1.1v1.1h-1.1zM293.9 84.4h1.1v1.1h-1.1zM283.2 75.1h1.1v1.1h-1.1zM302.5 82.5h1.1v1.1h-1.1zM279.9 76.8h1.1v1.1h-1.1zM285.4 70.2h1.1v1.1h-1.1zM284.8 76.7h1.1v1.1h-1.1zM286.9 67.6h1.1v1.1h-1.1zM288.2 77.6h1.1v1.1h-1.1zM284.7 82.9h1.1v1.1h-1.1zM280.1 77.6h1.1v1.1h-1.1zM287.3 86.4h1.1v1.1h-1.1zM285.9 69.5h1.1v1.1h-1.1zM281.9 89.5h1.1v1.1h-1.1zM293.0 66.3h1.1v1.1h-1.1zM287.6 67.2h1.1v1.1h-1.1zM298.1 77.7h1.1v1.1h-1.1zM278.0 76.1h1.1v1.1h-1.1zM294.7 74.5h1.1v1.1h-1.1zM292.2 73.7h1.1v1.1h-1.1zM290.7 76.1h1.1v1.1h-1.1zM285.5 77.1h1.1v1.1h-1.1zM290.4 74.2h1.1v1.1h-1.1zM285.6 66.8h1.1v1.1h-1.1zM290.9 80.8h1.1v1.1h-1.1zM297.1 81.4h1.1v1.1h-1.1zM285.5 84.8h1.1v1.1h-1.1zM283.9 68.5h1.1v1.1h-1.1zM300.4 71.2h1.1v1.1h-1.1zM288.3 62.0h1.1v1.1h-1.1zM283.8 65.6h1.1v1.1h-1.1zM288.7 60.6h1.1v1.1h-1.1zM295.5 71.8h1.1v1.1h-1.1zM286.1 69.7h1.1v1.1h-1.1zM293.7 86.1h1.1v1.1h-1.1zM287.2 86.7h1.1v1.1h-1.1zM298.6 84.7h1.1v1.1h-1.1zM291.2 63.2h1.1v1.1h-1.1zM293.3 71.4h1.1v1.1h-1.1zM290.6 60.2h1.1v1.1h-1.1zM287.9 76.3h1.1v1.1h-1.1zM284.2 76.7h1.1v1.1h-1.1zM298.9 76.3h1.1v1.1h-1.1zM285.6 92.6h1.1v1.1h-1.1zM277.4 67.5h1.1v1.1h-1.1zM291.8 70.0h1.1v1.1h-1.1zM294.2 68.5h1.1v1.1h-1.1zM297.8 78.3h1.1v1.1h-1.1zM296.2 62.9h1.1v1.1h-1.1zM289.5 86.6h1.1v1.1h-1.1zM300.9 84.5h1.1v1.1h-1.1zM289.5 75.9h1.1v1.1h-1.1zM286.0 82.8h1.1v1.1h-1.1zM285.6 75.4h1.1v1.1h-1.1zM277.8 63.1h1.1v1.1h-1.1zM299.6 74.9h1.1v1.1h-1.1zM290.7 57.8h1.1v1.1h-1.1zM289.3 90.2h1.1v1.1h-1.1zM281.0 56.4h1.1v1.1h-1.1zM288.6 70.5h1.1v1.1h-1.1zM288.3 64.9h1.1v1.1h-1.1zM281.8 65.1h1.1v1.1h-1.1zM293.1 74.1h1.1v1.1h-1.1zM294.2 66.3h1.1v1.1h-1.1zM292.8 71.1h1.1v1.1h-1.1zM290.0 81.6h1.1v1.1h-1.1zM289.7 71.8h1.1v1.1h-1.1zM280.1 75.0h1.1v1.1h-1.1zM293.9 69.7h1.1v1.1h-1.1zM289.1 61.0h1.1v1.1h-1.1zM281.9 77.6h1.1v1.1h-1.1zM296.9 72.1h1.1v1.1h-1.1zM280.0 71.6h1.1v1.1h-1.1zM280.6 72.4h1.1v1.1h-1.1zM300.5 76.8h1.1v1.1h-1.1zM288.6 82.4h1.1v1.1h-1.1zM287.3 77.0h1.1v1.1h-1.1zM290.6 77.9h1.1v1.1h-1.1zM281.1 79.9h1.1v1.1h-1.1zM294.5 57.1h1.1v1.1h-1.1zM298.0 74.7h1.1v1.1h-1.1zM293.4 78.7h1.1v1.1h-1.1zM294.6 69.6h1.1v1.1h-1.1zM286.2 77.4h1.1v1.1h-1.1zM293.0 78.9h1.1v1.1h-1.1zM291.4 70.8h1.1v1.1h-1.1zM295.8 78.1h1.1v1.1h-1.1zM295.6 55.0h1.1v1.1h-1.1zM295.3 55.8h1.1v1.1h-1.1zM290.7 69.4h1.1v1.1h-1.1zM290.2 70.8h1.1v1.1h-1.1zM287.7 76.0h1.1v1.1h-1.1zM291.5 68.4h1.1v1.1h-1.1zM292.6 68.0h1.1v1.1h-1.1zM291.9 71.7h1.1v1.1h-1.1zM284.1 83.5h1.1v1.1h-1.1zM299.0 73.7h1.1v1.1h-1.1zM289.2 81.9h1.1v1.1h-1.1zM281.9 67.8h1.1v1.1h-1.1zM296.0 81.4h1.1v1.1h-1.1zM286.7 68.5h1.1v1.1h-1.1zM291.5 63.7h1.1v1.1h-1.1zM286.6 72.7h1.1v1.1h-1.1zM293.9 82.7h1.1v1.1h-1.1zM281.3 64.6h1.1v1.1h-1.1zM284.8 64.4h1.1v1.1h-1.1zM301.3 67.0h1.1v1.1h-1.1zM287.7 76.1h1.1v1.1h-1.1zM292.1 85.7h1.1v1.1h-1.1zM283.2 81.3h1.1v1.1h-1.1zM290.4 65.4h1.1v1.1h-1.1zM290.4 63.7h1.1v1.1h-1.1zM298.8 68.9h1.1v1.1h-1.1zM295.3 84.6h1.1v1.1h-1.1zM285.9 67.6h1.1v1.1h-1.1zM290.3 66.4h1.1v1.1h-1.1zM294.7 75.9h1.1v1.1h-1.1zM285.1 69.2h1.1v1.1h-1.1zM293.7 63.3h1.1v1.1h-1.1zM299.2 68.4h1.1v1.1h-1.1zM288.4 67.3h1.1v1.1h-1.1zM298.9 80.9h1.1v1.1h-1.1zM297.0 79.6h1.1v1.1h-1.1zM290.0 87.6h1.1v1.1h-1.1zM293.3 77.9h1.1v1.1h-1.1zM292.8 80.2h1.1v1.1h-1.1zM291.1 73.2h1.1v1.1h-1.1zM280.3 90.5h1.1v1.1h-1.1zM282.0 57.8h1.1v1.1h-1.1zM285.4 89.5h1.1v1.1h-1.1zM296.5 69.8h1.1v1.1h-1.1zM291.0 74.3h1.1v1.1h-1.1zM278.0 71.9h1.1v1.1h-1.1zM291.2 83.6h1.1v1.1h-1.1zM282.5 57.0h1.1v1.1h-1.1zM280.4 77.1h1.1v1.1h-1.1zM290.0 75.7h1.1v1.1h-1.1zM290.4 71.6h1.1v1.1h-1.1zM281.6 78.0h1.1v1.1h-1.1zM291.7 79.0h1.1v1.1h-1.1zM296.7 64.9h1.1v1.1h-1.1zM301.9 67.4h1.1v1.1h-1.1zM291.8 74.4h1.1v1.1h-1.1zM293.7 99.5h1.1v1.1h-1.1zM286.5 73.2h1.1v1.1h-1.1zM286.0 76.4h1.1v1.1h-1.1zM292.5 66.9h1.1v1.1h-1.1zM297.1 83.4h1.1v1.1h-1.1zM292.1 73.6h1.1v1.1h-1.1zM288.1 61.7h1.1v1.1h-1.1zM293.3 66.9h1.1v1.1h-1.1zM286.6 82.3h1.1v1.1h-1.1zM284.2 70.4h1.1v1.1h-1.1zM294.5 89.0h1.1v1.1h-1.1zM285.5 83.1h1.1v1.1h-1.1zM285.7 77.5h1.1v1.1h-1.1zM292.3 65.6h1.1v1.1h-1.1zM295.4 88.5h1.1v1.1h-1.1zM289.8 76.6h1.1v1.1h-1.1zM282.7 88.4h1.1v1.1h-1.1zM289.9 64.5h1.1v1.1h-1.1zM293.9 63.1h1.1v1.1h-1.1zM285.5 57.9h1.1v1.1h-1.1zM297.5 91.7h1.1v1.1h-1.1zM285.8 69.4h1.1v1.1h-1.1zM286.2 70.1h1.1v1.1h-1.1zM292.7 85.9h1.1v1.1h-1.1zM283.7 77.9h1.1v1.1h-1.1zM279.0 86.4h1.1v1.1h-1.1zM289.0 69.0h1.1v1.1h-1.1zM298.4 73.7h1.1v1.1h-1.1zM297.4 82.9h1.1v1.1h-1.1zM299.1 68.3h1.1v1.1h-1.1zM289.8 77.4h1.1v1.1h-1.1zM288.4 86.4h1.1v1.1h-1.1zM285.4 82.3h1.1v1.1h-1.1zM297.4 59.3h1.1v1.1h-1.1zM283.9 67.5h1.1v1.1h-1.1zM286.3 77.5h1.1v1.1h-1.1zM288.5 75.1h1.1v1.1h-1.1zM286.8 73.9h1.1v1.1h-1.1zM292.3 80.3h1.1v1.1h-1.1zM285.0 73.6h1.1v1.1h-1.1zM285.1 73.1h1.1v1.1h-1.1zM281.2 81.9h1.1v1.1h-1.1zM293.4 73.5h1.1v1.1h-1.1zM285.5 70.9h1.1v1.1h-1.1zM285.6 62.5h1.1v1.1h-1.1zM299.0 100.2h1.1v1.1h-1.1zM282.4 65.4h1.1v1.1h-1.1zM292.9 79.2h1.1v1.1h-1.1zM280.4 59.5h1.1v1.1h-1.1zM292.6 59.0h1.1v1.1h-1.1zM297.8 70.6h1.1v1.1h-1.1zM290.0 74.5h1.1v1.1h-1.1zM286.3 73.4h1.1v1.1h-1.1zM287.8 84.2h1.1v1.1h-1.1zM289.0 74.3h1.1v1.1h-1.1zM286.4 69.6h1.1v1.1h-1.1zM285.2 74.6h1.1v1.1h-1.1zM300.2 83.2h1.1v1.1h-1.1zM290.9 87.5h1.1v1.1h-1.1zM295.4 76.1h1.1v1.1h-1.1zM288.5 65.9h1.1v1.1h-1.1zM290.9 72.0h1.1v1.1h-1.1zM280.3 64.5h1.1v1.1h-1.1zM300.7 76.2h1.1v1.1h-1.1zM292.4 76.1h1.1v1.1h-1.1zM286.8 78.1h1.1v1.1h-1.1zM295.8 72.1h1.1v1.1h-1.1zM292.5 82.5h1.1v1.1h-1.1zM286.7 75.8h1.1v1.1h-1.1zM285.2 79.2h1.1v1.1h-1.1zM287.4 83.4h1.1v1.1h-1.1zM285.1 87.7h1.1v1.1h-1.1zM287.7 67.9h1.1v1.1h-1.1zM284.3 79.7h1.1v1.1h-1.1zM284.5 88.6h1.1v1.1h-1.1zM296.9 78.5h1.1v1.1h-1.1zM281.3 74.3h1.1v1.1h-1.1zM285.3 60.4h1.1v1.1h-1.1zM292.0 91.7h1.1v1.1h-1.1zM286.4 80.8h1.1v1.1h-1.1zM296.9 67.0h1.1v1.1h-1.1zM287.5 76.6h1.1v1.1h-1.1zM292.2 65.6h1.1v1.1h-1.1zM290.8 73.7h1.1v1.1h-1.1zM295.0 62.0h1.1v1.1h-1.1zM286.2 70.6h1.1v1.1h-1.1zM287.7 80.1h1.1v1.1h-1.1zM285.9 95.9h1.1v1.1h-1.1zM285.4 81.1h1.1v1.1h-1.1zM295.4 82.0h1.1v1.1h-1.1zM288.3 68.0h1.1v1.1h-1.1zM288.0 79.7h1.1v1.1h-1.1zM290.2 79.0h1.1v1.1h-1.1zM292.8 67.6h1.1v1.1h-1.1zM284.1 85.7h1.1v1.1h-1.1zM286.7 62.1h1.1v1.1h-1.1zM300.3 68.0h1.1v1.1h-1.1zM284.1 82.0h1.1v1.1h-1.1zM282.9 67.7h1.1v1.1h-1.1zM295.6 68.1h1.1v1.1h-1.1zM304.0 75.3h1.1v1.1h-1.1zM289.8 69.5h1.1v1.1h-1.1zM288.2 70.6h1.1v1.1h-1.1zM289.4 80.5h1.1v1.1h-1.1zM282.1 67.3h1.1v1.1h-1.1zM277.4 86.2h1.1v1.1h-1.1zM289.1 74.4h1.1v1.1h-1.1zM289.2 82.3h1.1v1.1h-1.1zM291.4 81.1h1.1v1.1h-1.1zM288.5 73.6h1.1v1.1h-1.1zM289.2 60.0h1.1v1.1h-1.1zM295.8 62.2h1.1v1.1h-1.1zM283.7 79.7h1.1v1.1h-1.1zM289.8 80.8h1.1v1.1h-1.1zM299.4 89.0h1.1v1.1h-1.1zM297.5 72.7h1.1v1.1h-1.1zM301.4 67.6h1.1v1.1h-1.1zM289.0 82.3h1.1v1.1h-1.1zM288.3 73.6h1.1v1.1h-1.1zM287.5 85.1h1.1v1.1h-1.1zM295.6 73.9h1.1v1.1h-1.1zM292.8 66.9h1.1v1.1h-1.1zM295.9 98.4h1.1v1.1h-1.1zM284.2 85.4h1.1v1.1h-1.1zM289.2 71.9h1.1v1.1h-1.1zM286.7 73.0h1.1v1.1h-1.1zM282.2 63.9h1.1v1.1h-1.1zM299.1 74.4h1.1v1.1h-1.1zM292.7 76.9h1.1v1.1h-1.1zM292.3 62.6h1.1v1.1h-1.1zM284.0 79.4h1.1v1.1h-1.1zM295.3 65.6h1.1v1.1h-1.1zM286.1 66.2h1.1v1.1h-1.1zM293.3 77.2h1.1v1.1h-1.1zM289.7 69.4h1.1v1.1h-1.1zM291.5 74.7h1.1v1.1h-1.1zM285.2 77.1h1.1v1.1h-1.1zM285.6 81.9h1.1v1.1h-1.1zM293.1 69.1h1.1v1.1h-1.1zM292.9 75.0h1.1v1.1h-1.1zM285.4 67.4h1.1v1.1h-1.1zM279.9 65.7h1.1v1.1h-1.1zM291.5 83.9h1.1v1.1h-1.1zM285.9 75.7h1.1v1.1h-1.1zM291.5 80.6h1.1v1.1h-1.1zM292.1 84.1h1.1v1.1h-1.1zM293.9 68.6h1.1v1.1h-1.1zM291.8 56.2h1.1v1.1h-1.1zM288.5 74.7h1.1v1.1h-1.1zM292.9 72.1h1.1v1.1h-1.1zM294.3 84.8h1.1v1.1h-1.1zM284.6 70.3h1.1v1.1h-1.1zM291.0 78.3h1.1v1.1h-1.1zM290.3 81.0h1.1v1.1h-1.1zM282.6 80.6h1.1v1.1h-1.1zM296.3 83.2h1.1v1.1h-1.1zM292.0 72.6h1.1v1.1h-1.1zM291.8 73.9h1.1v1.1h-1.1zM280.3 69.8h1.1v1.1h-1.1zM289.3 70.5h1.1v1.1h-1.1zM284.1 72.7h1.1v1.1h-1.1zM287.3 75.0h1.1v1.1h-1.1zM289.2 75.8h1.1v1.1h-1.1zM295.3 75.6h1.1v1.1h-1.1zM291.9 65.0h1.1v1.1h-1.1zM293.4 71.9h1.1v1.1h-1.1zM285.9 64.8h1.1v1.1h-1.1zM294.7 70.4h1.1v1.1h-1.1zM290.9 83.3h1.1v1.1h-1.1zM292.6 92.0h1.1v1.1h-1.1zM288.7 82.0h1.1v1.1h-1.1zM293.5 69.4h1.1v1.1h-1.1zM289.8 70.1h1.1v1.1h-1.1zM283.6 76.8h1.1v1.1h-1.1zM285.0 87.6h1.1v1.1h-1.1zM285.2 70.3h1.1v1.1h-1.1zM290.0 70.5h1.1v1.1h-1.1zM289.8 69.8h1.1v1.1h-1.1zM281.3 55.7h1.1v1.1h-1.1zM282.0 86.4h1.1v1.1h-1.1zM292.1 75.7h1.1v1.1h-1.1zM286.8 73.4h1.1v1.1h-1.1zM291.2 63.7h1.1v1.1h-1.1zM284.9 67.6h1.1v1.1h-1.1zM296.8 66.3h1.1v1.1h-1.1zM296.3 70.9h1.1v1.1h-1.1zM289.7 85.0h1.1v1.1h-1.1zM294.6 81.8h1.1v1.1h-1.1zM283.3 83.4h1.1v1.1h-1.1zM299.2 73.7h1.1v1.1h-1.1zM286.7 66.0h1.1v1.1h-1.1zM295.4 76.8h1.1v1.1h-1.1zM289.5 64.9h1.1v1.1h-1.1zM298.9 81.3h1.1v1.1h-1.1zM289.4 86.0h1.1v1.1h-1.1zM284.0 81.4h1.1v1.1h-1.1zM283.7 85.5h1.1v1.1h-1.1zM287.9 84.0h1.1v1.1h-1.1zM287.1 77.6h1.1v1.1h-1.1zM296.1 67.5h1.1v1.1h-1.1zM290.1 68.0h1.1v1.1h-1.1zM294.4 69.8h1.1v1.1h-1.1zM287.3 72.9h1.1v1.1h-1.1zM296.3 66.4h1.1v1.1h-1.1zM289.4 71.9h1.1v1.1h-1.1zM286.3 68.4h1.1v1.1h-1.1zM288.6 76.0h1.1v1.1h-1.1zM280.5 76.3h1.1v1.1h-1.1zM282.6 74.6h1.1v1.1h-1.1zM302.7 67.0h1.1v1.1h-1.1zM289.1 72.5h1.1v1.1h-1.1zM295.2 70.8h1.1v1.1h-1.1zM279.1 61.9h1.1v1.1h-1.1zM290.5 76.5h1.1v1.1h-1.1zM295.7 70.3h1.1v1.1h-1.1zM293.4 66.2h1.1v1.1h-1.1zM297.0 73.9h1.1v1.1h-1.1zM285.6 75.9h1.1v1.1h-1.1zM299.6 67.9h1.1v1.1h-1.1zM282.3 66.6h1.1v1.1h-1.1zM282.8 74.1h1.1v1.1h-1.1zM291.5 73.2h1.1v1.1h-1.1zM290.6 83.7h1.1v1.1h-1.1zM287.8 64.7h1.1v1.1h-1.1zM285.6 72.6h1.1v1.1h-1.1zM291.9 78.1h1.1v1.1h-1.1zM280.4 67.0h1.1v1.1h-1.1zM289.9 73.4h1.1v1.1h-1.1zM296.2 70.6h1.1v1.1h-1.1zM277.5 83.6h1.1v1.1h-1.1zM280.0 66.9h1.1v1.1h-1.1zM291.8 66.2h1.1v1.1h-1.1zM303.9 76.4h1.1v1.1h-1.1zM292.6 71.1h1.1v1.1h-1.1zM302.4 78.7h1.1v1.1h-1.1zM285.3 84.3h1.1v1.1h-1.1zM279.7 69.9h1.1v1.1h-1.1zM291.2 75.6h1.1v1.1h-1.1zM283.9 86.8h1.1v1.1h-1.1zM298.0 67.2h1.1v1.1h-1.1zM291.7 69.6h1.1v1.1h-1.1zM287.0 82.2h1.1v1.1h-1.1zM290.2 73.7h1.1v1.1h-1.1zM281.4 91.2h1.1v1.1h-1.1zM284.1 104.7h1.1v1.1h-1.1zM286.0 105.7h1.1v1.1h-1.1zM298.7 95.5h1.1v1.1h-1.1zM284.8 92.3h1.1v1.1h-1.1zM292.9 96.4h1.1v1.1h-1.1zM293.0 112.5h1.1v1.1h-1.1zM281.7 94.7h1.1v1.1h-1.1zM288.2 98.1h1.1v1.1h-1.1zM284.7 92.9h1.1v1.1h-1.1zM282.8 105.4h1.1v1.1h-1.1zM292.2 98.6h1.1v1.1h-1.1zM286.5 95.8h1.1v1.1h-1.1zM279.8 101.5h1.1v1.1h-1.1zM303.2 109.6h1.1v1.1h-1.1zM289.8 113.4h1.1v1.1h-1.1zM289.3 113.6h1.1v1.1h-1.1zM287.7 106.0h1.1v1.1h-1.1zM292.4 92.3h1.1v1.1h-1.1zM287.6 111.0h1.1v1.1h-1.1zM295.0 94.6h1.1v1.1h-1.1zM290.3 93.9h1.1v1.1h-1.1zM291.2 106.6h1.1v1.1h-1.1zM282.9 112.7h1.1v1.1h-1.1zM289.9 93.6h1.1v1.1h-1.1zM288.3 95.4h1.1v1.1h-1.1zM295.1 103.8h1.1v1.1h-1.1zM289.1 97.2h1.1v1.1h-1.1zM291.4 90.8h1.1v1.1h-1.1zM284.3 92.9h1.1v1.1h-1.1zM283.6 99.4h1.1v1.1h-1.1zM286.7 90.5h1.1v1.1h-1.1zM292.9 103.8h1.1v1.1h-1.1zM281.4 90.8h1.1v1.1h-1.1zM280.1 90.9h1.1v1.1h-1.1zM292.4 107.2h1.1v1.1h-1.1zM285.3 113.8h1.1v1.1h-1.1zM282.7 98.5h1.1v1.1h-1.1zM288.4 100.2h1.1v1.1h-1.1zM295.0 94.9h1.1v1.1h-1.1zM296.2 93.2h1.1v1.1h-1.1zM283.3 101.6h1.1v1.1h-1.1zM283.1 92.1h1.1v1.1h-1.1zM285.4 110.4h1.1v1.1h-1.1zM294.9 100.6h1.1v1.1h-1.1zM285.8 93.0h1.1v1.1h-1.1zM284.0 94.1h1.1v1.1h-1.1zM282.7 105.1h1.1v1.1h-1.1zM290.2 94.1h1.1v1.1h-1.1zM277.2 111.1h1.1v1.1h-1.1zM281.5 96.0h1.1v1.1h-1.1zM293.5 103.8h1.1v1.1h-1.1zM298.5 91.5h1.1v1.1h-1.1zM285.6 94.5h1.1v1.1h-1.1zM284.8 102.6h1.1v1.1h-1.1zM293.4 91.4h1.1v1.1h-1.1zM287.3 105.3h1.1v1.1h-1.1zM286.8 98.7h1.1v1.1h-1.1zM286.0 95.1h1.1v1.1h-1.1zM283.4 94.8h1.1v1.1h-1.1zM285.7 90.6h1.1v1.1h-1.1zM280.0 92.0h1.1v1.1h-1.1zM292.7 91.7h1.1v1.1h-1.1zM285.5 97.7h1.1v1.1h-1.1zM280.6 103.6h1.1v1.1h-1.1zM284.8 104.0h1.1v1.1h-1.1zM277.6 93.7h1.1v1.1h-1.1zM279.1 98.0h1.1v1.1h-1.1zM284.3 98.2h1.1v1.1h-1.1zM300.9 99.9h1.1v1.1h-1.1zM287.2 94.2h1.1v1.1h-1.1zM287.7 94.7h1.1v1.1h-1.1zM304.9 92.0h1.1v1.1h-1.1zM288.3 102.9h1.1v1.1h-1.1zM291.3 99.4h1.1v1.1h-1.1zM292.7 96.2h1.1v1.1h-1.1zM302.6 102.8h1.1v1.1h-1.1zM277.6 92.5h1.1v1.1h-1.1zM286.0 98.3h1.1v1.1h-1.1zM291.8 103.7h1.1v1.1h-1.1zM293.8 96.1h1.1v1.1h-1.1zM294.8 96.5h1.1v1.1h-1.1zM291.3 91.8h1.1v1.1h-1.1zM286.7 91.9h1.1v1.1h-1.1zM291.9 94.3h1.1v1.1h-1.1zM286.4 98.4h1.1v1.1h-1.1zM299.9 116.5h1.1v1.1h-1.1zM296.0 103.6h1.1v1.1h-1.1zM290.5 90.8h1.1v1.1h-1.1zM299.6 99.3h1.1v1.1h-1.1zM288.5 99.8h1.1v1.1h-1.1zM301.4 98.6h1.1v1.1h-1.1zM280.5 104.9h1.1v1.1h-1.1zM291.3 95.3h1.1v1.1h-1.1zM286.7 95.1h1.1v1.1h-1.1zM290.6 102.7h1.1v1.1h-1.1zM294.3 102.9h1.1v1.1h-1.1zM286.9 118.4h1.1v1.1h-1.1zM291.4 109.5h1.1v1.1h-1.1zM286.8 97.9h1.1v1.1h-1.1zM289.7 101.3h1.1v1.1h-1.1zM295.0 98.3h1.1v1.1h-1.1zM281.3 93.3h1.1v1.1h-1.1zM299.7 90.9h1.1v1.1h-1.1zM288.6 93.3h1.1v1.1h-1.1zM286.2 114.5h1.1v1.1h-1.1zM282.9 96.4h1.1v1.1h-1.1zM285.4 105.9h1.1v1.1h-1.1zM285.3 100.3h1.1v1.1h-1.1zM295.4 91.1h1.1v1.1h-1.1zM277.6 96.6h1.1v1.1h-1.1zM292.3 90.9h1.1v1.1h-1.1zM281.8 108.2h1.1v1.1h-1.1zM293.3 107.5h1.1v1.1h-1.1zM284.1 95.4h1.1v1.1h-1.1zM282.9 100.4h1.1v1.1h-1.1zM290.4 101.0h1.1v1.1h-1.1zM300.6 102.6h1.1v1.1h-1.1zM288.7 90.3h1.1v1.1h-1.1zM280.7 112.6h1.1v1.1h-1.1zM286.6 95.2h1.1v1.1h-1.1zM289.9 94.4h1.1v1.1h-1.1zM296.4 99.8h1.1v1.1h-1.1zM283.8 106.0h1.1v1.1h-1.1zM280.0 109.8h1.1v1.1h-1.1zM293.0 97.0h1.1v1.1h-1.1zM294.4 92.3h1.1v1.1h-1.1zM285.3 97.3h1.1v1.1h-1.1zM291.3 90.4h1.1v1.1h-1.1zM286.2 113.7h1.1v1.1h-1.1z" fill="#1a1a1a" fill-opacity="0.72"/>
<line x1="338.2" y1="39.2" x2="369.1" y2="39.2" stroke="#222" stroke-width="1.1"/>
<line x1="355.4" y1="28.5" x2="355.4" y2="54" stroke="#222" stroke-width="1.1"/>
<text x="352.4" y="36.2" font-family='"Liberation Serif", serif' font-size="9" font-weight="normal" text-anchor="end" fill="#3a3a3a">0</text>
<text x="357.4" y="36.2" font-family='"Liberation Serif", serif' font-size="9" font-weight="normal" text-anchor="start" fill="#3a3a3a">92</text>
<text x="352.4" y="47.6" font-family='"Liberation Serif", serif' font-size="9" font-weight="normal" text-anchor="end" fill="#3a3a3a">0</text>
<text x="357.4" y="47.6" font-family='"Liberation Serif", serif' font-size="9" font-weight="normal" text-anchor="start" fill="#3a3a3a">8</text>
<text x="241.2" y="78.8" font-family='"Liberation Sans", sans-serif' font-size="15.6" font-weight="normal" text-anchor="middle" transform="rotate(-90 241.2 78.8)" stroke="#000" stroke-width="0.12" >Flk-1</text>
<text x="311" y="152.8" font-family='"Liberation Sans", sans-serif' font-size="16.3" font-weight="normal" text-anchor="middle" stroke="#000" stroke-width="0.12" >FSC</text>
<text x="1.8" y="197.6" font-family='"Liberation Sans", sans-serif' font-size="25" font-weight="bold" text-anchor="start" >B</text>
<rect x="32.3" y="203.5" width="123.85000000000001" height="107.39999999999998" fill="none" stroke="#222" stroke-width="1.2"/>
<path d="M31.699999999999996 310.90h-3 M31.699999999999996 304.82h-1.8 M31.699999999999996 298.74h-1.8 M31.699999999999996 292.66h-1.8 M31.699999999999996 286.58h-1.8 M31.699999999999996 280.50h-3 M31.699999999999996 274.42h-1.8 M31.699999999999996 268.34h-1.8 M31.699999999999996 262.26h-1.8 M31.699999999999996 256.18h-1.8 M31.699999999999996 250.10h-3 M31.699999999999996 244.02h-1.8 M31.699999999999996 237.94h-1.8 M31.699999999999996 231.86h-1.8 M31.699999999999996 225.78h-1.8 M31.699999999999996 219.70h-3 M31.699999999999996 213.62h-1.8 M31.699999999999996 207.54h-1.8" stroke="#222" stroke-width="0.9" fill="none"/>
<path d="M32.30 311.5v2 M41.62 311.5v1.2 M47.07 311.5v1.2 M50.94 311.5v1.2 M53.94 311.5v1.2 M56.39 311.5v1.2 M58.47 311.5v1.2 M60.26 311.5v1.2 M61.85 311.5v1.2 M63.26 311.5v2 M72.58 311.5v1.2 M78.04 311.5v1.2 M81.90 311.5v1.2 M84.90 311.5v1.2 M87.36 311.5v1.2 M89.43 311.5v1.2 M91.22 311.5v1.2 M92.81 311.5v1.2 M94.22 311.5v2 M103.55 311.5v1.2 M109.00 311.5v1.2 M112.87 311.5v1.2 M115.87 311.5v1.2 M118.32 311.5v1.2 M120.39 311.5v1.2 M122.19 311.5v1.2 M123.77 311.5v1.2 M125.19 311.5v2 M134.51 311.5v1.2 M139.96 311.5v1.2 M143.83 311.5v1.2 M146.83 311.5v1.2 M149.28 311.5v1.2 M151.35 311.5v1.2 M153.15 311.5v1.2 M154.73 311.5v1.2 M156.15 311.5v2" stroke="#222" stroke-width="0.9" fill="none"/>
<ellipse cx="35.2" cy="309.0" rx="1.7" ry="1.6" transform="rotate(0 35.2 309.0)" fill="none" stroke="#1a1a1a" stroke-width="0.9"/>
<ellipse cx="39.6" cy="309.1" rx="2.0" ry="1.5" transform="rotate(0 39.6 309.1)" fill="none" stroke="#1a1a1a" stroke-width="0.9"/>
<ellipse cx="44.2" cy="309.1" rx="2.0" ry="1.5" transform="rotate(0 44.2 309.1)" fill="none" stroke="#1a1a1a" stroke-width="0.9"/>
<ellipse cx="48.6" cy="309.0" rx="1.8" ry="1.6" transform="rotate(0 48.6 309.0)" fill="none" stroke="#1a1a1a" stroke-width="0.9"/>
<ellipse cx="53.3" cy="308.40000000000003" rx="2.0" ry="2.2" transform="rotate(0 53.3 308.40000000000003)" fill="none" stroke="#1a1a1a" stroke-width="0.9"/>
<ellipse cx="58" cy="309.0" rx="2.1" ry="1.6" transform="rotate(0 58 309.0)" fill="none" stroke="#1a1a1a" stroke-width="0.9"/>
<ellipse cx="62.3" cy="309.3" rx="1.7" ry="1.3" transform="rotate(0 62.3 309.3)" fill="none" stroke="#1a1a1a" stroke-width="0.9"/>
<ellipse cx="74.4" cy="308.8" rx="1.1" ry="1.8" transform="rotate(0 74.4 308.8)" fill="none" stroke="#1a1a1a" stroke-width="0.9"/>
<path d="M51.30 308.50 C51.52 308.00 52.15 306.28 52.60 305.50 C53.05 304.72 53.53 303.80 54.00 303.80 C54.47 303.80 54.97 304.73 55.40 305.50 C55.83 306.27 56.40 307.92 56.60 308.40" fill="none" stroke="#111" stroke-width="0.9"/>
<polyline points="32.8,310.6 78,310.6 80,310 82,308.5 84,306.5 86,304.5 88.5,302 90.5,298.5 92,295 93.2,291 94.4,286 95.4,279 96,272 97,260 98,250 99,243 101,238 102,230 103.4,218 104,222 105,234 107,242 108,250 109,260 110,268 111.6,278 113,288 114.4,294 116,300 117.6,306 119,309 121,310.6 125,310.6" fill="none" stroke="#1a1a1a" stroke-width="1.0"/>
<line x1="82.4" y1="278" x2="132.1" y2="278" stroke="#222" stroke-width="1.1"/>
<line x1="82.4" y1="271.8" x2="82.4" y2="284.4" stroke="#222" stroke-width="1.1"/>
<line x1="132.1" y1="271.8" x2="132.1" y2="284.4" stroke="#222" stroke-width="1.1"/>
<text x="124.2" y="262.4" font-family='"Liberation Sans", sans-serif' font-size="7.5" font-weight="normal" text-anchor="middle" stroke="#000" stroke-width="0.2" >R6</text>
<text x="13.2" y="258.8" font-family='"Liberation Sans", sans-serif' font-size="13.2" font-weight="normal" text-anchor="middle" transform="rotate(-90 13.2 258.8)" stroke="#000" stroke-width="0.12" >Cell number</text>
<text x="93.4" y="331.8" font-family='"Liberation Sans", sans-serif' font-size="16.3" font-weight="normal" text-anchor="middle" stroke="#000" stroke-width="0.12" >CD45.2</text>
<text x="392.3" y="179.6" font-family='"Liberation Sans", sans-serif' font-size="16.6" font-weight="normal" text-anchor="middle" stroke="#000" stroke-width="0.12" >CD45.2-gated</text>
<line x1="213.6" y1="185.2" x2="518.2" y2="185.2" stroke="#222" stroke-width="1.2"/>
<defs><clipPath id="cbm"><rect x="213.5" y="203.1" width="122.35000000000002" height="108.00000000000003"/></clipPath></defs>
<rect x="213.5" y="203.1" width="122.35000000000002" height="108.00000000000003" fill="none" stroke="#222" stroke-width="1.2"/>
<path d="M212.9 311.10h-3.2 M212.9 302.97h-2.2 M212.9 298.22h-2.2 M212.9 294.84h-2.2 M212.9 292.23h-2.2 M212.9 290.09h-2.2 M212.9 288.28h-2.2 M212.9 286.72h-2.2 M212.9 285.34h-2.2 M212.9 284.10h-3.2 M212.9 275.97h-2.2 M212.9 271.22h-2.2 M212.9 267.84h-2.2 M212.9 265.23h-2.2 M212.9 263.09h-2.2 M212.9 261.28h-2.2 M212.9 259.72h-2.2 M212.9 258.34h-2.2 M212.9 257.10h-3.2 M212.9 248.97h-2.2 M212.9 244.22h-2.2 M212.9 240.84h-2.2 M212.9 238.23h-2.2 M212.9 236.09h-2.2 M212.9 234.28h-2.2 M212.9 232.72h-2.2 M212.9 231.34h-2.2 M212.9 230.10h-3.2 M212.9 221.97h-2.2 M212.9 217.22h-2.2 M212.9 213.84h-2.2 M212.9 211.23h-2.2 M212.9 209.09h-2.2 M212.9 207.28h-2.2 M212.9 205.72h-2.2 M212.9 204.34h-2.2 M212.9 203.10h-3.2" stroke="#222" stroke-width="0.9" fill="none"/>
<path d="M213.50 311.70000000000005v3.2 M222.71 311.70000000000005v2.4 M228.09 311.70000000000005v2.4 M231.92 311.70000000000005v2.4 M234.88 311.70000000000005v2.4 M237.30 311.70000000000005v2.4 M239.35 311.70000000000005v2.4 M241.12 311.70000000000005v2.4 M242.69 311.70000000000005v2.4 M244.09 311.70000000000005v3.2 M253.30 311.70000000000005v2.4 M258.68 311.70000000000005v2.4 M262.50 311.70000000000005v2.4 M265.47 311.70000000000005v2.4 M267.89 311.70000000000005v2.4 M269.94 311.70000000000005v2.4 M271.71 311.70000000000005v2.4 M273.28 311.70000000000005v2.4 M274.68 311.70000000000005v3.2 M283.88 311.70000000000005v2.4 M289.27 311.70000000000005v2.4 M293.09 311.70000000000005v2.4 M296.05 311.70000000000005v2.4 M298.48 311.70000000000005v2.4 M300.52 311.70000000000005v2.4 M302.30 311.70000000000005v2.4 M303.86 311.70000000000005v2.4 M305.26 311.70000000000005v3.2 M314.47 311.70000000000005v2.4 M319.86 311.70000000000005v2.4 M323.68 311.70000000000005v2.4 M326.64 311.70000000000005v2.4 M329.06 311.70000000000005v2.4 M331.11 311.70000000000005v2.4 M332.89 311.70000000000005v2.4 M334.45 311.70000000000005v2.4 M335.85 311.70000000000005v3.2" stroke="#222" stroke-width="0.9" fill="none"/>
<path d="M213.50 228.50 C214.20 228.95 216.48 230.32 217.70 231.20 C218.92 232.08 219.75 233.23 220.80 233.80 C221.85 234.37 222.85 234.40 224.00 234.60 C225.15 234.80 226.45 234.68 227.70 235.00 C228.95 235.32 230.73 235.92 231.50 236.50 C232.27 237.08 232.42 237.47 232.30 238.50 C232.18 239.53 230.93 241.12 230.80 242.70 C230.67 244.28 231.55 246.28 231.50 248.00 C231.45 249.72 231.13 251.45 230.50 253.00 C229.87 254.55 228.55 256.33 227.70 257.30 C226.85 258.27 226.10 258.60 225.40 258.80 C224.70 259.00 224.02 258.88 223.50 258.50 C222.98 258.12 222.75 256.88 222.30 256.50 C221.85 256.12 221.43 256.20 220.80 256.20 C220.17 256.20 219.30 256.12 218.50 256.50 C217.70 256.88 216.83 258.08 216.00 258.50 C215.17 258.92 213.92 258.92 213.50 259.00" fill="none" stroke="#111" stroke-width="1.0" clip-path="url(#cbm)"/>
<path d="M213.50 230.20 C214.08 230.67 215.78 232.03 217.00 233.00 C218.22 233.97 219.53 235.03 220.80 236.00 C222.07 236.97 223.50 237.77 224.60 238.80 C225.70 239.83 226.70 241.03 227.40 242.20 C228.10 243.37 228.67 244.73 228.80 245.80 C228.93 246.87 228.73 247.87 228.20 248.60 C227.67 249.33 226.53 249.80 225.60 250.20 C224.67 250.60 223.47 250.60 222.60 251.00 C221.73 251.40 221.07 252.00 220.40 252.60 C219.73 253.20 219.33 253.95 218.60 254.60 C217.87 255.25 216.85 256.05 216.00 256.50 C215.15 256.95 213.92 257.17 213.50 257.30" fill="none" stroke="#111" stroke-width="1.0" clip-path="url(#cbm)"/>
<path d="M213.50 231.60 C214.38 232.23 217.25 234.13 218.80 235.40 C220.35 236.67 221.67 237.87 222.80 239.20 C223.93 240.53 225.07 242.10 225.60 243.40 C226.13 244.70 226.37 246.10 226.00 247.00 C225.63 247.90 224.40 248.23 223.40 248.80 C222.40 249.37 221.00 249.70 220.00 250.40 C219.00 251.10 218.48 252.13 217.40 253.00 C216.32 253.87 214.15 255.17 213.50 255.60" fill="none" stroke="#111" stroke-width="1.0" clip-path="url(#cbm)"/>
<path d="M213.50 232.80 C214.22 233.37 216.45 235.00 217.80 236.20 C219.15 237.40 220.60 238.63 221.60 240.00 C222.60 241.37 223.53 243.13 223.80 244.40 C224.07 245.67 223.90 246.80 223.20 247.60 C222.50 248.40 220.73 248.53 219.60 249.20 C218.47 249.87 217.42 250.83 216.40 251.60 C215.38 252.37 213.98 253.43 213.50 253.80" fill="none" stroke="#111" stroke-width="1.0" clip-path="url(#cbm)"/>
<path d="M213.50 234.00 C214.05 234.53 215.72 236.03 216.80 237.20 C217.88 238.37 219.17 239.73 220.00 241.00 C220.83 242.27 221.63 243.70 221.80 244.80 C221.97 245.90 221.63 246.93 221.00 247.60 C220.37 248.27 218.93 248.27 218.00 248.80 C217.07 249.33 216.15 250.23 215.40 250.80 C214.65 251.37 213.82 251.97 213.50 252.20" fill="none" stroke="#111" stroke-width="1.0" clip-path="url(#cbm)"/>
<path d="M213.50 235.40 C213.92 235.90 215.18 237.33 216.00 238.40 C216.82 239.47 217.80 240.70 218.40 241.80 C219.00 242.90 219.57 244.07 219.60 245.00 C219.63 245.93 219.20 246.80 218.60 247.40 C218.00 248.00 216.85 248.10 216.00 248.60 C215.15 249.10 213.92 250.10 213.50 250.40" fill="none" stroke="#111" stroke-width="1.0" clip-path="url(#cbm)"/>
<path d="M213.50 237.00 C213.82 237.47 214.82 238.80 215.40 239.80 C215.98 240.80 216.67 242.07 217.00 243.00 C217.33 243.93 217.60 244.70 217.40 245.40 C217.20 246.10 216.45 246.67 215.80 247.20 C215.15 247.73 213.88 248.37 213.50 248.60" fill="none" stroke="#111" stroke-width="1.0" clip-path="url(#cbm)"/>
<path d="M213.50 238.60 C213.72 239.03 214.48 240.33 214.80 241.20 C215.12 242.07 215.40 243.03 215.40 243.80 C215.40 244.57 215.12 245.27 214.80 245.80 C214.48 246.33 213.72 246.80 213.50 247.00" fill="none" stroke="#111" stroke-width="1.0" clip-path="url(#cbm)"/>
<path d="M257.30 244.50 C257.68 243.67 258.57 240.83 259.60 239.50 C260.63 238.17 262.22 237.38 263.50 236.50 C264.78 235.62 265.90 234.72 267.30 234.20 C268.70 233.68 270.37 233.35 271.90 233.40 C273.43 233.45 274.95 233.98 276.50 234.50 C278.05 235.02 279.65 235.78 281.20 236.50 C282.75 237.22 284.58 237.92 285.80 238.80 C287.02 239.68 288.05 240.52 288.50 241.80 C288.95 243.08 288.83 245.08 288.50 246.50 C288.17 247.92 287.33 249.15 286.50 250.30 C285.67 251.45 284.38 252.25 283.50 253.40 C282.62 254.55 281.72 255.92 281.20 257.20 C280.68 258.48 280.60 259.93 280.40 261.10 C280.20 262.27 280.13 263.22 280.00 264.20 C279.87 265.18 279.67 266.53 279.60 267.00" fill="none" stroke="#111" stroke-width="1.0" clip-path="url(#cbm)"/>
<path d="M257.30 244.50 C257.42 245.22 257.48 247.45 258.00 248.80 C258.52 250.15 259.48 251.58 260.40 252.60 C261.32 253.62 262.60 254.13 263.50 254.90 C264.40 255.67 265.17 256.30 265.80 257.20 C266.43 258.10 266.92 259.27 267.30 260.30 C267.68 261.33 267.85 262.28 268.10 263.40 C268.35 264.52 268.68 266.40 268.80 267.00" fill="none" stroke="#111" stroke-width="1.0" clip-path="url(#cbm)"/>
<path d="M261.20 246.50 C261.20 245.22 261.82 243.35 262.70 241.80 C263.58 240.25 265.22 238.28 266.50 237.20 C267.78 236.12 268.85 235.55 270.40 235.30 C271.95 235.05 274.13 235.25 275.80 235.70 C277.47 236.15 279.12 237.03 280.40 238.00 C281.68 238.97 282.87 240.22 283.50 241.50 C284.13 242.78 284.20 244.23 284.20 245.70 C284.20 247.17 284.00 248.88 283.50 250.30 C283.00 251.72 282.10 253.05 281.20 254.20 C280.30 255.35 279.13 256.57 278.10 257.20 C277.07 257.83 275.90 258.12 275.00 258.00 C274.10 257.88 273.47 257.13 272.70 256.50 C271.93 255.87 271.43 254.98 270.40 254.20 C269.37 253.42 267.78 252.58 266.50 251.80 C265.22 251.02 263.58 250.38 262.70 249.50 C261.82 248.62 261.20 247.78 261.20 246.50Z" fill="none" stroke="#111" stroke-width="1.0" clip-path="url(#cbm)"/>
<path d="M262.40 246.40 C262.45 245.33 263.00 243.65 263.80 242.30 C264.60 240.95 266.05 239.27 267.20 238.30 C268.35 237.33 269.30 236.73 270.70 236.50 C272.10 236.27 274.08 236.48 275.60 236.90 C277.12 237.32 278.65 238.15 279.80 239.00 C280.95 239.85 281.95 240.87 282.50 242.00 C283.05 243.13 283.12 244.48 283.10 245.80 C283.08 247.12 282.87 248.63 282.40 249.90 C281.93 251.17 281.08 252.38 280.30 253.40 C279.52 254.42 278.57 255.43 277.70 256.00 C276.83 256.57 275.85 256.88 275.10 256.80 C274.35 256.72 273.90 256.10 273.20 255.50 C272.50 254.90 271.93 253.98 270.90 253.20 C269.87 252.42 268.23 251.55 267.00 250.80 C265.77 250.05 264.27 249.43 263.50 248.70 C262.73 247.97 262.35 247.47 262.40 246.40Z" fill="none" stroke="#111" stroke-width="1.0" clip-path="url(#cbm)"/>
<path d="M267.30 247.20 C267.23 245.80 267.33 242.63 268.10 241.10 C268.87 239.57 270.50 238.52 271.90 238.00 C273.30 237.48 275.22 237.48 276.50 238.00 C277.78 238.52 278.95 239.82 279.60 241.10 C280.25 242.38 280.40 244.30 280.40 245.70 C280.40 247.10 280.25 248.60 279.60 249.50 C278.95 250.40 277.78 250.83 276.50 251.10 C275.22 251.37 273.23 251.37 271.90 251.10 C270.57 250.83 269.27 250.15 268.50 249.50 C267.73 248.85 267.37 248.60 267.30 247.20Z" fill="none" stroke="#111" stroke-width="1.0" clip-path="url(#cbm)"/>
<ellipse cx="274.8" cy="245.5" rx="2.0" ry="3.2" transform="rotate(0 274.8 245.5)" fill="none" stroke="#111" stroke-width="1.0"/>
<ellipse cx="247.3" cy="245.6" rx="2.3" ry="2.3" transform="rotate(0 247.3 245.6)" fill="none" stroke="#111" stroke-width="1.0"/>
<path d="M241.20 262.00 C241.12 260.80 241.45 259.47 242.00 258.80 C242.55 258.13 243.58 258.07 244.50 258.00 C245.42 257.93 246.55 258.13 247.50 258.40 C248.45 258.67 249.62 258.83 250.20 259.60 C250.78 260.37 251.12 261.90 251.00 263.00 C250.88 264.10 250.33 265.53 249.50 266.20 C248.67 266.87 247.17 267.03 246.00 267.00 C244.83 266.97 243.30 266.83 242.50 266.00 C241.70 265.17 241.28 263.20 241.20 262.00Z" fill="none" stroke="#111" stroke-width="1.0"/>
<path d="M213.50 259.50 C214.00 259.52 215.55 259.20 216.50 259.60 C217.45 260.00 218.87 261.13 219.20 261.90 C219.53 262.67 218.88 263.43 218.50 264.20 C218.12 264.97 216.90 265.67 216.90 266.50 C216.90 267.33 217.60 268.62 218.50 269.20 C219.40 269.78 221.28 270.12 222.30 270.00 C223.32 269.88 224.15 269.20 224.60 268.50 C225.05 267.80 225.07 266.63 225.00 265.80 C224.93 264.97 223.88 264.08 224.20 263.50 C224.52 262.92 225.68 262.43 226.90 262.30 C228.12 262.17 230.22 262.25 231.50 262.70 C232.78 263.15 233.82 264.10 234.60 265.00 C235.38 265.90 236.07 267.20 236.20 268.10 C236.33 269.00 235.93 269.63 235.40 270.40 C234.87 271.17 233.52 271.93 233.00 272.70 C232.48 273.47 232.42 274.23 232.30 275.00 C232.18 275.77 232.18 276.40 232.30 277.30 C232.42 278.20 232.62 279.25 233.00 280.40 C233.38 281.55 234.17 282.97 234.60 284.20 C235.03 285.43 234.83 287.03 235.60 287.80 C236.37 288.57 237.83 288.75 239.20 288.80 C240.57 288.85 242.58 287.93 243.80 288.10 C245.02 288.27 245.55 289.23 246.50 289.80 C247.45 290.37 248.55 291.72 249.50 291.50 C250.45 291.28 251.52 289.88 252.20 288.50 C252.88 287.12 253.43 285.28 253.60 283.20 C253.77 281.12 253.27 278.53 253.20 276.00 C253.13 273.47 252.90 270.08 253.20 268.00 C253.50 265.92 254.12 264.58 255.00 263.50 C255.88 262.42 257.25 261.67 258.50 261.50 C259.75 261.33 261.17 261.88 262.50 262.50 C263.83 263.12 265.17 264.58 266.50 265.20 C267.83 265.82 269.08 266.18 270.50 266.20 C271.92 266.22 273.50 265.40 275.00 265.30 C276.50 265.20 277.93 265.10 279.50 265.60 C281.07 266.10 283.22 267.13 284.40 268.30 C285.58 269.47 286.60 271.00 286.60 272.60 C286.60 274.20 285.12 276.13 284.40 277.90 C283.68 279.67 282.82 281.27 282.30 283.20 C281.78 285.13 281.65 287.57 281.30 289.50 C280.95 291.43 280.55 293.22 280.20 294.80 C279.85 296.38 279.28 297.42 279.20 299.00 C279.12 300.58 279.45 302.30 279.70 304.30 C279.95 306.30 280.53 309.88 280.70 311.00" fill="none" stroke="#111" stroke-width="1.0" clip-path="url(#cbm)"/>
<path d="M213.50 262.50 C213.78 262.83 215.02 263.75 215.20 264.50 C215.38 265.25 214.88 266.42 214.60 267.00 C214.32 267.58 213.68 267.83 213.50 268.00" fill="none" stroke="#111" stroke-width="1.0" clip-path="url(#cbm)"/>
<path d="M214.20 271.00 C214.63 271.13 216.20 271.22 216.80 271.80 C217.40 272.38 217.80 273.53 217.80 274.50 C217.80 275.47 217.38 276.97 216.80 277.60 C216.22 278.23 214.72 278.18 214.30 278.30" fill="none" stroke="#111" stroke-width="1.0" clip-path="url(#cbm)"/>
<path d="M217.70 279.50 C217.83 278.62 218.92 277.58 219.80 277.30 C220.68 277.02 222.32 277.30 223.00 277.80 C223.68 278.30 224.03 279.48 223.90 280.30 C223.77 281.12 223.02 282.32 222.20 282.70 C221.38 283.08 219.75 283.13 219.00 282.60 C218.25 282.07 217.57 280.38 217.70 279.50Z" fill="none" stroke="#111" stroke-width="1.0" clip-path="url(#cbm)"/>
<path d="M225.40 283.00 C225.65 281.90 226.65 280.27 227.50 279.80 C228.35 279.33 229.70 279.58 230.50 280.20 C231.30 280.82 232.08 282.33 232.30 283.50 C232.52 284.67 232.43 286.40 231.80 287.20 C231.17 288.00 229.47 288.43 228.50 288.30 C227.53 288.17 226.52 287.28 226.00 286.40 C225.48 285.52 225.15 284.10 225.40 283.00Z" fill="none" stroke="#111" stroke-width="1.0" clip-path="url(#cbm)"/>
<ellipse cx="228.5" cy="284.6" rx="1.5" ry="1.6" transform="rotate(0 228.5 284.6)" fill="none" stroke="#111" stroke-width="1.0"/>
<path d="M258.80 270.40 C259.02 269.78 261.52 270.13 263.00 270.90 C264.48 271.67 266.35 273.82 267.70 275.00 C269.05 276.18 270.62 276.72 271.10 278.00 C271.58 279.28 271.07 281.47 270.60 282.70 C270.13 283.93 269.07 285.43 268.30 285.40 C267.53 285.37 266.62 283.70 266.00 282.50 C265.38 281.30 265.32 279.52 264.60 278.20 C263.88 276.88 262.67 275.90 261.70 274.60 C260.73 273.30 258.58 271.02 258.80 270.40Z" fill="none" stroke="#111" stroke-width="1.0" clip-path="url(#cbm)"/>
<path d="M273.40 271.50 C273.72 270.42 274.43 269.88 275.50 269.50 C276.57 269.12 278.52 268.98 279.80 269.20 C281.08 269.42 282.57 269.92 283.20 270.80 C283.83 271.68 283.92 273.40 283.60 274.50 C283.28 275.60 282.40 276.85 281.30 277.40 C280.20 277.95 278.28 278.03 277.00 277.80 C275.72 277.57 274.20 277.05 273.60 276.00 C273.00 274.95 273.08 272.58 273.40 271.50Z" fill="none" stroke="#111" stroke-width="1.0" clip-path="url(#cbm)"/>
<circle cx="278.3" cy="273.3" r="0.9" fill="#1a1a1a"/>
<path d="M255.90 284.20 C256.25 283.92 257.07 282.43 258.00 282.50 C258.93 282.57 260.58 283.78 261.50 284.60 C262.42 285.42 262.50 287.12 263.50 287.40 C264.50 287.68 266.13 286.83 267.50 286.30 C268.87 285.77 270.47 284.72 271.70 284.20 C272.93 283.68 273.88 283.65 274.90 283.20 C275.92 282.75 277.15 281.20 277.80 281.50 C278.45 281.80 278.85 283.58 278.80 285.00 C278.75 286.42 277.83 288.25 277.50 290.00 C277.17 291.75 276.97 293.83 276.80 295.50 C276.63 297.17 276.38 298.42 276.50 300.00 C276.62 301.58 277.22 303.17 277.50 305.00 C277.78 306.83 278.08 310.00 278.20 311.00" fill="none" stroke="#111" stroke-width="1.0" clip-path="url(#cbm)"/>
<path d="M255.90 284.20 C255.78 284.92 255.10 287.12 255.20 288.50 C255.30 289.88 255.78 291.50 256.50 292.50 C257.22 293.50 258.58 293.67 259.50 294.50 C260.42 295.33 261.42 296.42 262.00 297.50 C262.58 298.58 262.42 300.08 263.00 301.00 C263.58 301.92 264.58 302.83 265.50 303.00 C266.42 303.17 267.58 302.58 268.50 302.00 C269.42 301.42 270.42 299.25 271.00 299.50 C271.58 299.75 271.92 302.17 272.00 303.50 C272.08 304.83 271.45 306.25 271.50 307.50 C271.55 308.75 272.17 310.42 272.30 311.00" fill="none" stroke="#111" stroke-width="1.0" clip-path="url(#cbm)"/>
<path d="M266.50 291.80 C266.53 290.58 267.53 289.07 268.50 288.30 C269.47 287.53 271.22 287.05 272.30 287.20 C273.38 287.35 274.58 288.30 275.00 289.20 C275.42 290.10 275.30 291.57 274.80 292.60 C274.30 293.63 273.08 294.90 272.00 295.40 C270.92 295.90 269.22 296.20 268.30 295.60 C267.38 295.00 266.47 293.02 266.50 291.80Z" fill="none" stroke="#111" stroke-width="1.0" clip-path="url(#cbm)"/>
<ellipse cx="281.9" cy="299.3" rx="2.6" ry="2.4" transform="rotate(0 281.9 299.3)" fill="none" stroke="#111" stroke-width="1.0"/>
<path d="M213.40 286.30 C213.65 286.36 214.40 286.55 214.90 286.68 C215.40 286.80 215.90 286.93 216.40 287.05 C216.90 287.18 217.40 287.30 217.90 287.43 C218.40 287.55 218.90 287.53 219.40 287.80 C219.90 288.07 220.40 288.64 220.90 289.06 C221.40 289.48 221.90 289.90 222.40 290.32 C222.90 290.74 223.40 291.16 223.90 291.58 C224.40 292.00 224.90 292.42 225.40 292.84 C225.90 293.26 226.40 293.68 226.90 294.10 C227.40 294.52 227.90 294.94 228.40 295.36 C228.90 295.78 229.40 296.20 229.90 296.62 C230.40 297.04 230.90 297.46 231.40 297.88 C231.90 298.30 232.40 298.67 232.90 299.14 C233.40 299.61 233.90 299.93 234.40 300.68 C234.90 301.44 235.40 302.42 235.90 303.68 C236.40 304.94 236.90 306.46 237.40 308.24 C237.90 310.03 238.65 313.36 238.90 314.39" fill="none" stroke="#111" stroke-width="0.9" clip-path="url(#cbm)"/>
<path d="M213.40 289.00 C213.65 289.06 214.40 289.25 214.90 289.38 C215.40 289.50 215.90 289.62 216.40 289.75 C216.90 289.88 217.40 290.00 217.90 290.12 C218.40 290.25 218.90 290.23 219.40 290.50 C219.90 290.77 220.40 291.34 220.90 291.76 C221.40 292.18 221.90 292.60 222.40 293.02 C222.90 293.44 223.40 293.86 223.90 294.28 C224.40 294.70 224.90 295.12 225.40 295.54 C225.90 295.96 226.40 296.38 226.90 296.80 C227.40 297.22 227.90 297.64 228.40 298.06 C228.90 298.48 229.40 298.90 229.90 299.32 C230.40 299.74 230.90 300.16 231.40 300.58 C231.90 301.00 232.40 301.37 232.90 301.84 C233.40 302.31 233.90 302.63 234.40 303.38 C234.90 304.14 235.40 305.12 235.90 306.38 C236.40 307.64 236.90 309.16 237.40 310.94 C237.90 312.73 238.65 316.06 238.90 317.09" fill="none" stroke="#111" stroke-width="0.9" clip-path="url(#cbm)"/>
<path d="M213.40 291.70 C213.65 291.76 214.40 291.95 214.90 292.07 C215.40 292.20 215.90 292.32 216.40 292.45 C216.90 292.57 217.40 292.70 217.90 292.82 C218.40 292.95 218.90 292.93 219.40 293.20 C219.90 293.47 220.40 294.04 220.90 294.46 C221.40 294.88 221.90 295.30 222.40 295.72 C222.90 296.14 223.40 296.56 223.90 296.98 C224.40 297.40 224.90 297.82 225.40 298.24 C225.90 298.66 226.40 299.08 226.90 299.50 C227.40 299.92 227.90 300.34 228.40 300.76 C228.90 301.18 229.40 301.60 229.90 302.02 C230.40 302.44 230.90 302.86 231.40 303.28 C231.90 303.70 232.40 304.07 232.90 304.54 C233.40 305.01 233.90 305.33 234.40 306.08 C234.90 306.84 235.40 307.82 235.90 309.08 C236.40 310.34 237.15 312.88 237.40 313.64" fill="none" stroke="#111" stroke-width="0.9" clip-path="url(#cbm)"/>
<path d="M213.40 294.40 C213.65 294.46 214.40 294.65 214.90 294.78 C215.40 294.90 215.90 295.03 216.40 295.15 C216.90 295.28 217.40 295.40 217.90 295.53 C218.40 295.65 218.90 295.63 219.40 295.90 C219.90 296.17 220.40 296.74 220.90 297.16 C221.40 297.58 221.90 298.00 222.40 298.42 C222.90 298.84 223.40 299.26 223.90 299.68 C224.40 300.10 224.90 300.52 225.40 300.94 C225.90 301.36 226.40 301.78 226.90 302.20 C227.40 302.62 227.90 303.04 228.40 303.46 C228.90 303.88 229.40 304.30 229.90 304.72 C230.40 305.14 230.90 305.56 231.40 305.98 C231.90 306.40 232.40 306.77 232.90 307.24 C233.40 307.71 233.90 308.03 234.40 308.78 C234.90 309.54 235.40 310.52 235.90 311.78 C236.40 313.04 237.15 315.58 237.40 316.34" fill="none" stroke="#111" stroke-width="0.9" clip-path="url(#cbm)"/>
<path d="M213.40 297.10 C213.65 297.16 214.40 297.35 214.90 297.48 C215.40 297.60 215.90 297.73 216.40 297.85 C216.90 297.98 217.40 298.10 217.90 298.23 C218.40 298.35 218.90 298.33 219.40 298.60 C219.90 298.87 220.40 299.44 220.90 299.86 C221.40 300.28 221.90 300.70 222.40 301.12 C222.90 301.54 223.40 301.96 223.90 302.38 C224.40 302.80 224.90 303.22 225.40 303.64 C225.90 304.06 226.40 304.48 226.90 304.90 C227.40 305.32 227.90 305.74 228.40 306.16 C228.90 306.58 229.40 307.00 229.90 307.42 C230.40 307.84 230.90 308.26 231.40 308.68 C231.90 309.10 232.40 309.47 232.90 309.94 C233.40 310.41 233.90 310.73 234.40 311.48 C234.90 312.24 235.65 313.98 235.90 314.48" fill="none" stroke="#111" stroke-width="0.9" clip-path="url(#cbm)"/>
<path d="M213.40 299.80 C213.65 299.86 214.40 300.05 214.90 300.18 C215.40 300.30 215.90 300.43 216.40 300.55 C216.90 300.68 217.40 300.80 217.90 300.93 C218.40 301.05 218.90 301.03 219.40 301.30 C219.90 301.57 220.40 302.14 220.90 302.56 C221.40 302.98 221.90 303.40 222.40 303.82 C222.90 304.24 223.40 304.66 223.90 305.08 C224.40 305.50 224.90 305.92 225.40 306.34 C225.90 306.76 226.40 307.18 226.90 307.60 C227.40 308.02 227.90 308.44 228.40 308.86 C228.90 309.28 229.40 309.70 229.90 310.12 C230.40 310.54 230.90 310.96 231.40 311.38 C231.90 311.80 232.65 312.43 232.90 312.64" fill="none" stroke="#111" stroke-width="0.9" clip-path="url(#cbm)"/>
<path d="M213.40 302.50 C213.65 302.56 214.40 302.75 214.90 302.88 C215.40 303.00 215.90 303.12 216.40 303.25 C216.90 303.38 217.40 303.50 217.90 303.62 C218.40 303.75 218.90 303.73 219.40 304.00 C219.90 304.27 220.40 304.84 220.90 305.26 C221.40 305.68 221.90 306.10 222.40 306.52 C222.90 306.94 223.40 307.36 223.90 307.78 C224.40 308.20 224.90 308.62 225.40 309.04 C225.90 309.46 226.40 309.88 226.90 310.30 C227.40 310.72 227.90 311.14 228.40 311.56 C228.90 311.98 229.65 312.61 229.90 312.82" fill="none" stroke="#111" stroke-width="0.9" clip-path="url(#cbm)"/>
<path d="M213.40 305.20 C213.65 305.26 214.40 305.45 214.90 305.57 C215.40 305.70 215.90 305.82 216.40 305.95 C216.90 306.07 217.40 306.20 217.90 306.32 C218.40 306.45 218.90 306.43 219.40 306.70 C219.90 306.97 220.40 307.54 220.90 307.96 C221.40 308.38 221.90 308.80 222.40 309.22 C222.90 309.64 223.40 310.06 223.90 310.48 C224.40 310.90 224.90 311.32 225.40 311.74 C225.90 312.16 226.65 312.79 226.90 313.00" fill="none" stroke="#111" stroke-width="0.9" clip-path="url(#cbm)"/>
<path d="M213.40 307.90 C213.65 307.96 214.40 308.15 214.90 308.28 C215.40 308.40 215.90 308.53 216.40 308.65 C216.90 308.78 217.40 308.90 217.90 309.03 C218.40 309.15 218.90 309.13 219.40 309.40 C219.90 309.67 220.40 310.24 220.90 310.66 C221.40 311.08 221.90 311.50 222.40 311.92 C222.90 312.34 223.65 312.97 223.90 313.18" fill="none" stroke="#111" stroke-width="0.9" clip-path="url(#cbm)"/>
<path d="M215.20 285.50 C215.17 286.25 215.15 288.08 215.00 290.00 C214.85 291.92 214.32 294.67 214.30 297.00 C214.28 299.33 214.85 301.67 214.90 304.00 C214.95 306.33 214.65 309.83 214.60 311.00" fill="none" stroke="#111" stroke-width="0.9" clip-path="url(#cbm)"/>
<path d="M216.50 283.80 C216.47 284.83 216.45 287.80 216.30 290.00 C216.15 292.20 215.62 294.67 215.60 297.00 C215.58 299.33 216.15 301.67 216.20 304.00 C216.25 306.33 215.95 309.83 215.90 311.00" fill="none" stroke="#111" stroke-width="0.9" clip-path="url(#cbm)"/>
<path d="M217.80 285.00 C217.77 285.83 217.75 288.00 217.60 290.00 C217.45 292.00 216.92 294.67 216.90 297.00 C216.88 299.33 217.45 301.67 217.50 304.00 C217.55 306.33 217.25 309.83 217.20 311.00" fill="none" stroke="#111" stroke-width="0.9" clip-path="url(#cbm)"/>
<path d="M219.10 286.80 C219.07 287.33 219.05 288.30 218.90 290.00 C218.75 291.70 218.22 294.67 218.20 297.00 C218.18 299.33 218.75 301.67 218.80 304.00 C218.85 306.33 218.55 309.83 218.50 311.00" fill="none" stroke="#111" stroke-width="0.9" clip-path="url(#cbm)"/>
<path d="M229.00 290.50 C229.67 291.00 231.50 292.50 233.00 293.50 C234.50 294.50 236.42 295.50 238.00 296.50 C239.58 297.50 241.17 298.42 242.50 299.50 C243.83 300.58 244.92 301.75 246.00 303.00 C247.08 304.25 248.25 305.67 249.00 307.00 C249.75 308.33 250.25 310.33 250.50 311.00" fill="none" stroke="#111" stroke-width="1.0" clip-path="url(#cbm)"/>
<path d="M235.60 287.80 C236.33 288.50 238.43 290.72 240.00 292.00 C241.57 293.28 243.42 294.58 245.00 295.50 C246.58 296.42 248.17 297.33 249.50 297.50 C250.83 297.67 251.92 296.17 253.00 296.50 C254.08 296.83 255.00 298.33 256.00 299.50 C257.00 300.67 257.92 302.42 259.00 303.50 C260.08 304.58 261.42 304.75 262.50 306.00 C263.58 307.25 265.00 310.17 265.50 311.00" fill="none" stroke="#111" stroke-width="1.0" clip-path="url(#cbm)"/>
<path d="M246.50 306.50 C247.00 306.05 248.33 304.22 249.50 303.80 C250.67 303.38 252.33 303.47 253.50 304.00 C254.67 304.53 255.92 305.83 256.50 307.00 C257.08 308.17 256.92 310.33 257.00 311.00" fill="none" stroke="#111" stroke-width="1.0" clip-path="url(#cbm)"/>
<path d="M258.00 311.00 C258.33 310.42 259.08 308.20 260.00 307.50 C260.92 306.80 262.42 306.63 263.50 306.80 C264.58 306.97 265.88 307.80 266.50 308.50 C267.12 309.20 267.08 310.58 267.20 311.00" fill="none" stroke="#111" stroke-width="1.0" clip-path="url(#cbm)"/>
<line x1="246.0" y1="203.1" x2="246.0" y2="311.1" stroke="#222" stroke-width="1.1"/>
<line x1="213.5" y1="266.6" x2="335.85" y2="266.6" stroke="#222" stroke-width="1.1"/>
<line x1="300.1" y1="220.1" x2="331.1" y2="220.1" stroke="#222" stroke-width="1.1"/>
<line x1="317.4" y1="208.9" x2="317.4" y2="234.2" stroke="#222" stroke-width="1.1"/>
<text x="314.79999999999995" y="216.7" font-family='"Liberation Serif", serif' font-size="9.8" font-weight="normal" text-anchor="end" fill="#3a3a3a">8</text>
<text x="319.59999999999997" y="216.7" font-family='"Liberation Serif", serif' font-size="9.8" font-weight="normal" text-anchor="start" fill="#3a3a3a">9</text>
<text x="314.79999999999995" y="229.5" font-family='"Liberation Serif", serif' font-size="9.8" font-weight="normal" text-anchor="end" fill="#3a3a3a">73</text>
<text x="319.59999999999997" y="229.5" font-family='"Liberation Serif", serif' font-size="9.8" font-weight="normal" text-anchor="start" fill="#3a3a3a">10</text>
<text x="204.2" y="259.4" font-family='"Liberation Sans", sans-serif' font-size="16.3" font-weight="normal" text-anchor="middle" transform="rotate(-90 204.2 259.4)" stroke="#000" stroke-width="0.12" >CD4</text>
<text x="273.1" y="331" font-family='"Liberation Sans", sans-serif' font-size="16.3" font-weight="normal" text-anchor="middle" stroke="#000" stroke-width="0.12" >CD8</text>
<defs><clipPath id="cbr"><rect x="392.9" y="202.5" width="121.85000000000002" height="107.60000000000002"/></clipPath></defs>
<rect x="392.9" y="202.5" width="121.85000000000002" height="107.60000000000002" fill="none" stroke="#222" stroke-width="1.2"/>
<path d="M392.29999999999995 310.10h-3.2 M392.29999999999995 302.00h-2.2 M392.29999999999995 297.27h-2.2 M392.29999999999995 293.90h-2.2 M392.29999999999995 291.30h-2.2 M392.29999999999995 289.17h-2.2 M392.29999999999995 287.37h-2.2 M392.29999999999995 285.81h-2.2 M392.29999999999995 284.43h-2.2 M392.29999999999995 283.20h-3.2 M392.29999999999995 275.10h-2.2 M392.29999999999995 270.37h-2.2 M392.29999999999995 267.00h-2.2 M392.29999999999995 264.40h-2.2 M392.29999999999995 262.27h-2.2 M392.29999999999995 260.47h-2.2 M392.29999999999995 258.91h-2.2 M392.29999999999995 257.53h-2.2 M392.29999999999995 256.30h-3.2 M392.29999999999995 248.20h-2.2 M392.29999999999995 243.47h-2.2 M392.29999999999995 240.10h-2.2 M392.29999999999995 237.50h-2.2 M392.29999999999995 235.37h-2.2 M392.29999999999995 233.57h-2.2 M392.29999999999995 232.01h-2.2 M392.29999999999995 230.63h-2.2 M392.29999999999995 229.40h-3.2 M392.29999999999995 221.30h-2.2 M392.29999999999995 216.57h-2.2 M392.29999999999995 213.20h-2.2 M392.29999999999995 210.60h-2.2 M392.29999999999995 208.47h-2.2 M392.29999999999995 206.67h-2.2 M392.29999999999995 205.11h-2.2 M392.29999999999995 203.73h-2.2 M392.29999999999995 202.50h-3.2" stroke="#222" stroke-width="0.9" fill="none"/>
<path d="M392.90 310.70000000000005v3.2 M402.07 310.70000000000005v2.4 M407.43 310.70000000000005v2.4 M411.24 310.70000000000005v2.4 M414.19 310.70000000000005v2.4 M416.60 310.70000000000005v2.4 M418.64 310.70000000000005v2.4 M420.41 310.70000000000005v2.4 M421.97 310.70000000000005v2.4 M423.36 310.70000000000005v3.2 M432.53 310.70000000000005v2.4 M437.90 310.70000000000005v2.4 M441.70 310.70000000000005v2.4 M444.65 310.70000000000005v2.4 M447.07 310.70000000000005v2.4 M449.11 310.70000000000005v2.4 M450.87 310.70000000000005v2.4 M452.43 310.70000000000005v2.4 M453.82 310.70000000000005v3.2 M463.00 310.70000000000005v2.4 M468.36 310.70000000000005v2.4 M472.17 310.70000000000005v2.4 M475.12 310.70000000000005v2.4 M477.53 310.70000000000005v2.4 M479.57 310.70000000000005v2.4 M481.34 310.70000000000005v2.4 M482.89 310.70000000000005v2.4 M484.29 310.70000000000005v3.2 M493.46 310.70000000000005v2.4 M498.82 310.70000000000005v2.4 M502.63 310.70000000000005v2.4 M505.58 310.70000000000005v2.4 M507.99 310.70000000000005v2.4 M510.03 310.70000000000005v2.4 M511.80 310.70000000000005v2.4 M513.36 310.70000000000005v2.4 M514.75 310.70000000000005v3.2" stroke="#222" stroke-width="0.9" fill="none"/>
<path d="M393.00 247.70 C393.40 247.88 394.68 248.28 395.40 248.80 C396.12 249.32 396.98 249.70 397.30 250.80 C397.62 251.90 397.10 254.32 397.30 255.40 C397.50 256.48 397.80 256.67 398.50 257.30 C399.20 257.93 400.35 258.78 401.50 259.20 C402.65 259.62 404.12 259.77 405.40 259.80 C406.68 259.83 408.05 259.33 409.20 259.40 C410.35 259.47 411.53 259.78 412.30 260.20 C413.07 260.62 413.42 261.03 413.80 261.90 C414.18 262.77 414.27 264.18 414.60 265.40 C414.93 266.62 415.48 268.05 415.80 269.20 C416.12 270.35 416.28 271.27 416.50 272.30 C416.72 273.33 416.77 274.62 417.10 275.40 C417.43 276.18 417.88 276.42 418.50 277.00 C419.12 277.58 420.05 278.20 420.80 278.90 C421.55 279.60 422.80 280.30 423.00 281.20 C423.20 282.10 422.12 283.13 422.00 284.30 C421.88 285.47 422.00 287.05 422.30 288.20 C422.60 289.35 423.68 290.32 423.80 291.20 C423.92 292.08 423.38 292.73 423.00 293.50 C422.62 294.27 421.38 295.23 421.50 295.80 C421.62 296.37 422.70 296.90 423.70 296.90 C424.70 296.90 426.30 296.32 427.50 295.80 C428.70 295.28 430.27 294.77 430.90 293.80 C431.53 292.83 430.98 291.43 431.30 290.00 C431.62 288.57 432.15 286.65 432.80 285.20 C433.45 283.75 434.17 282.42 435.20 281.30 C436.23 280.18 437.57 279.30 439.00 278.50 C440.43 277.70 442.35 277.30 443.80 276.50 C445.25 275.70 446.42 274.65 447.70 273.70 C448.98 272.75 450.35 271.95 451.50 270.80 C452.65 269.65 453.28 268.27 454.60 266.80 C455.92 265.33 457.80 263.37 459.40 262.00 C461.00 260.63 462.43 259.48 464.20 258.60 C465.97 257.72 468.07 257.18 470.00 256.70 C471.93 256.22 473.88 255.78 475.80 255.70 C477.72 255.62 479.98 255.72 481.50 256.20 C483.02 256.68 484.22 257.40 484.90 258.60 C485.58 259.80 485.83 261.48 485.60 263.40 C485.37 265.32 484.33 268.02 483.50 270.10 C482.67 272.18 481.40 274.13 480.60 275.90 C479.80 277.67 479.67 279.42 478.70 280.70 C477.73 281.98 476.42 282.63 474.80 283.60 C473.18 284.57 470.92 285.70 469.00 286.50 C467.08 287.30 465.05 287.77 463.30 288.40 C461.55 289.03 459.95 289.50 458.50 290.30 C457.05 291.10 455.60 292.08 454.60 293.20 C453.60 294.32 453.02 295.53 452.50 297.00 C451.98 298.47 452.00 300.57 451.50 302.00 C451.00 303.43 450.30 304.72 449.50 305.60 C448.70 306.48 448.45 306.93 446.70 307.30 C444.95 307.67 441.40 307.48 439.00 307.80 C436.60 308.12 434.13 308.67 432.30 309.20 C430.47 309.73 428.72 310.70 428.00 311.00" fill="none" stroke="#111" stroke-width="1.0" clip-path="url(#cbr)"/>
<path d="M393.00 250.80 C393.27 251.18 394.13 252.15 394.60 253.10 C395.07 254.05 395.15 255.48 395.80 256.50 C396.45 257.52 397.55 258.42 398.50 259.20 C399.45 259.98 400.35 260.75 401.50 261.20 C402.65 261.65 404.12 261.85 405.40 261.90 C406.68 261.95 408.10 261.32 409.20 261.50 C410.30 261.68 411.42 262.22 412.00 263.00 C412.58 263.78 412.45 265.03 412.70 266.20 C412.95 267.37 413.25 268.85 413.50 270.00 C413.75 271.15 413.98 272.03 414.20 273.10 C414.42 274.17 414.33 275.33 414.80 276.40 C415.27 277.47 416.22 278.48 417.00 279.50 C417.78 280.52 419.00 281.33 419.50 282.50 C420.00 283.67 419.75 285.17 420.00 286.50 C420.25 287.83 421.07 289.28 421.00 290.50 C420.93 291.72 420.02 292.72 419.60 293.80 C419.18 294.88 418.27 296.17 418.50 297.00 C418.73 297.83 419.92 298.47 421.00 298.80 C422.08 299.13 423.67 299.22 425.00 299.00 C426.33 298.78 427.75 297.92 429.00 297.50 C430.25 297.08 431.67 297.42 432.50 296.50 C433.33 295.58 433.72 293.58 434.00 292.00 C434.28 290.42 433.78 288.50 434.20 287.00 C434.62 285.50 435.45 284.08 436.50 283.00 C437.55 281.92 439.08 281.25 440.50 280.50 C441.92 279.75 443.58 279.28 445.00 278.50 C446.42 277.72 447.75 276.80 449.00 275.80 C450.25 274.80 451.37 273.63 452.50 272.50 C453.63 271.37 455.25 269.58 455.80 269.00" fill="none" stroke="#111" stroke-width="1.0" clip-path="url(#cbr)"/>
<path d="M393.00 255.40 C393.53 256.03 395.03 258.05 396.20 259.20 C397.37 260.35 398.87 261.67 400.00 262.30 C401.13 262.93 401.72 262.93 403.00 263.00 C404.28 263.07 406.47 262.57 407.70 262.70 C408.93 262.83 409.82 263.10 410.40 263.80 C410.98 264.50 411.02 265.48 411.20 266.90 C411.38 268.32 411.37 270.68 411.50 272.30 C411.63 273.92 411.75 275.23 412.00 276.60 C412.25 277.97 412.43 279.10 413.00 280.50 C413.57 281.90 414.62 283.60 415.40 285.00 C416.18 286.40 417.18 287.87 417.70 288.90 C418.22 289.93 418.62 290.30 418.50 291.20 C418.38 292.10 417.33 293.25 417.00 294.30 C416.67 295.35 416.25 296.47 416.50 297.50 C416.75 298.53 418.17 300.00 418.50 300.50" fill="none" stroke="#111" stroke-width="1.0" clip-path="url(#cbr)"/>
<path d="M393.00 259.20 C393.78 259.83 396.28 262.10 397.70 263.00 C399.12 263.90 400.22 264.20 401.50 264.60 C402.78 265.00 404.23 265.20 405.40 265.40 C406.57 265.60 407.87 265.20 408.50 265.80 C409.13 266.40 409.07 267.63 409.20 269.00 C409.33 270.37 409.12 272.75 409.30 274.00 C409.48 275.25 410.13 276.08 410.30 276.50" fill="none" stroke="#111" stroke-width="1.0" clip-path="url(#cbr)"/>
<path d="M393.00 262.00 C393.58 262.58 395.33 264.67 396.50 265.50 C397.67 266.33 398.67 266.62 400.00 267.00 C401.33 267.38 403.42 267.30 404.50 267.80 C405.58 268.30 406.12 268.88 406.50 270.00 C406.88 271.12 406.67 273.42 406.80 274.50 C406.93 275.58 407.22 276.17 407.30 276.50" fill="none" stroke="#111" stroke-width="1.0" clip-path="url(#cbr)"/>
<path d="M393.00 264.50 C393.50 265.08 394.92 267.08 396.00 268.00 C397.08 268.92 398.42 269.42 399.50 270.00 C400.58 270.58 401.83 270.83 402.50 271.50 C403.17 272.17 403.28 273.17 403.50 274.00 C403.72 274.83 403.75 276.08 403.80 276.50" fill="none" stroke="#111" stroke-width="1.0" clip-path="url(#cbr)"/>
<path d="M398.70 276.50 C398.82 277.62 399.40 281.12 399.40 283.20 C399.40 285.28 398.22 287.07 398.70 289.00 C399.18 290.93 400.50 293.60 402.30 294.80 C404.10 296.00 407.33 296.20 409.50 296.20 C411.67 296.20 413.87 295.77 415.30 294.80 C416.73 293.83 417.75 292.08 418.10 290.40 C418.45 288.72 417.75 286.62 417.40 284.70 C417.05 282.78 416.23 280.27 416.00 278.90 C415.77 277.53 416.00 276.90 416.00 276.50" fill="none" stroke="#111" stroke-width="1.0" clip-path="url(#cbr)"/>
<path d="M400.80 276.50 C401.05 277.38 402.17 279.95 402.30 281.80 C402.43 283.65 401.37 286.03 401.60 287.60 C401.83 289.17 402.38 290.48 403.70 291.20 C405.02 291.92 407.70 292.15 409.50 291.90 C411.30 291.65 413.53 290.67 414.50 289.70 C415.47 288.73 415.53 287.42 415.30 286.10 C415.07 284.78 413.83 283.23 413.10 281.80 C412.37 280.37 411.27 278.22 410.90 277.50" fill="none" stroke="#111" stroke-width="1.0" clip-path="url(#cbr)"/>
<path d="M393.40 290.40 C394.63 291.37 398.12 294.52 400.80 296.20 C403.48 297.88 407.33 299.07 409.50 300.50 C411.67 301.93 412.83 303.05 413.80 304.80 C414.77 306.55 415.05 309.97 415.30 311.00" fill="none" stroke="#111" stroke-width="1.0" clip-path="url(#cbr)"/>
<path d="M393.40 294.80 C394.40 295.52 397.20 297.67 399.40 299.10 C401.60 300.53 404.43 301.97 406.60 303.40 C408.77 304.83 411.17 306.43 412.40 307.70 C413.63 308.97 413.73 310.45 414.00 311.00" fill="none" stroke="#111" stroke-width="1.0" clip-path="url(#cbr)"/>
<path d="M393.40 300.50 C394.63 301.22 398.60 303.48 400.80 304.80 C403.00 306.12 405.32 307.37 406.60 308.40 C407.88 309.43 408.18 310.57 408.50 311.00" fill="none" stroke="#111" stroke-width="1.0" clip-path="url(#cbr)"/>
<path d="M393.40 305.00 C394.17 305.50 396.73 307.00 398.00 308.00 C399.27 309.00 400.50 310.50 401.00 311.00" fill="none" stroke="#111" stroke-width="1.0" clip-path="url(#cbr)"/>
<path d="M421.50 293.00 C421.18 293.30 420.28 293.55 419.60 294.80 C418.92 296.05 417.97 298.58 417.40 300.50 C416.83 302.42 416.47 304.55 416.20 306.30 C415.93 308.05 415.87 310.22 415.80 311.00" fill="none" stroke="#111" stroke-width="1.0" clip-path="url(#cbr)"/>
<path d="M423.50 297.00 C423.08 297.42 421.75 298.33 421.00 299.50 C420.25 300.67 419.58 302.08 419.00 304.00 C418.42 305.92 417.75 309.83 417.50 311.00" fill="none" stroke="#111" stroke-width="1.0" clip-path="url(#cbr)"/>
<path d="M394.60 259.20 C394.65 261.33 394.93 266.87 394.90 272.00 C394.87 277.13 394.38 283.50 394.40 290.00 C394.42 296.50 394.90 307.50 395.00 311.00" fill="none" stroke="#111" stroke-width="1.0" clip-path="url(#cbr)"/>
<path d="M395.90 261.80 C395.95 263.50 396.23 267.30 396.20 272.00 C396.17 276.70 395.68 283.50 395.70 290.00 C395.72 296.50 396.20 307.50 396.30 311.00" fill="none" stroke="#111" stroke-width="1.0" clip-path="url(#cbr)"/>
<path d="M397.20 264.40 C397.25 265.67 397.53 267.73 397.50 272.00 C397.47 276.27 396.98 283.50 397.00 290.00 C397.02 296.50 397.50 307.50 397.60 311.00" fill="none" stroke="#111" stroke-width="1.0" clip-path="url(#cbr)"/>
<path d="M452.00 271.50 C452.67 270.08 454.08 267.75 455.50 266.00 C456.92 264.25 458.75 262.37 460.50 261.00 C462.25 259.63 464.17 258.63 466.00 257.80 C467.83 256.97 469.67 256.42 471.50 256.00 C473.33 255.58 475.25 255.25 477.00 255.30 C478.75 255.35 480.63 255.65 482.00 256.30 C483.37 256.95 484.57 257.92 485.20 259.20 C485.83 260.48 485.95 262.28 485.80 264.00 C485.65 265.72 485.02 267.75 484.30 269.50 C483.58 271.25 482.47 273.00 481.50 274.50 C480.53 276.00 479.75 277.37 478.50 278.50 C477.25 279.63 475.75 280.67 474.00 281.30 C472.25 281.93 470.08 282.22 468.00 282.30 C465.92 282.38 463.50 282.18 461.50 281.80 C459.50 281.42 457.45 280.77 456.00 280.00 C454.55 279.23 453.55 278.12 452.80 277.20 C452.05 276.28 451.63 275.45 451.50 274.50 C451.37 273.55 451.33 272.92 452.00 271.50Z" fill="none" stroke="#111" stroke-width="0.9" clip-path="url(#cbr)"/>
<path d="M454.14 271.10 C454.77 269.83 456.07 267.76 457.35 266.21 C458.62 264.66 460.25 263.01 461.80 261.79 C463.34 260.58 465.02 259.69 466.64 258.94 C468.26 258.18 469.86 257.66 471.51 257.25 C473.16 256.83 474.87 256.47 476.51 256.43 C478.15 256.40 480.02 256.48 481.35 257.02 C482.67 257.56 483.92 258.45 484.46 259.67 C485.01 260.88 484.87 262.71 484.62 264.32 C484.37 265.93 483.69 267.75 482.98 269.32 C482.27 270.89 481.26 272.42 480.38 273.74 C479.49 275.06 478.79 276.24 477.68 277.23 C476.57 278.23 475.27 279.13 473.72 279.72 C472.17 280.30 470.28 280.60 468.39 280.74 C466.49 280.89 464.24 280.87 462.37 280.60 C460.49 280.33 458.43 279.83 457.11 279.13 C455.79 278.43 455.04 277.26 454.44 276.38 C453.85 275.49 453.59 274.70 453.54 273.82 C453.49 272.94 453.50 272.37 454.14 271.10Z" fill="none" stroke="#111" stroke-width="0.9" clip-path="url(#cbr)"/>
<path d="M457.60 270.44 C458.19 269.41 459.30 267.77 460.35 266.54 C461.40 265.32 462.68 264.04 463.90 263.08 C465.12 262.12 466.40 261.42 467.67 260.78 C468.94 260.15 470.19 259.69 471.53 259.27 C472.87 258.85 474.25 258.45 475.72 258.27 C477.18 258.09 479.03 257.83 480.29 258.19 C481.55 258.55 482.86 259.32 483.27 260.42 C483.67 261.53 483.11 263.39 482.70 264.83 C482.30 266.26 481.53 267.76 480.84 269.04 C480.14 270.32 479.30 271.48 478.55 272.50 C477.80 273.53 477.24 274.40 476.35 275.17 C475.47 275.95 474.48 276.64 473.26 277.14 C472.04 277.65 470.60 277.96 469.01 278.21 C467.43 278.46 465.46 278.73 463.77 278.65 C462.09 278.57 460.03 278.32 458.92 277.72 C457.81 277.12 457.46 275.88 457.12 275.04 C456.77 274.21 456.78 273.48 456.86 272.71 C456.94 271.95 457.02 271.47 457.60 270.44Z" fill="none" stroke="#111" stroke-width="0.9" clip-path="url(#cbr)"/>
<path d="M460.27 269.94 C460.81 269.09 461.79 267.78 462.66 266.80 C463.53 265.82 464.55 264.84 465.52 264.08 C466.49 263.31 467.46 262.74 468.46 262.20 C469.47 261.66 470.43 261.25 471.54 260.83 C472.65 260.41 473.78 259.98 475.10 259.69 C476.43 259.40 478.27 258.87 479.47 259.09 C480.68 259.31 482.05 259.98 482.35 261.00 C482.64 262.03 481.76 263.92 481.23 265.22 C480.70 266.52 479.87 267.76 479.19 268.82 C478.51 269.87 477.79 270.76 477.14 271.55 C476.50 272.35 476.04 272.99 475.33 273.59 C474.63 274.19 473.88 274.72 472.91 275.16 C471.94 275.61 470.84 275.93 469.50 276.27 C468.16 276.60 466.39 277.09 464.85 277.15 C463.32 277.21 461.26 277.15 460.31 276.63 C459.36 276.11 459.32 274.81 459.17 274.02 C459.02 273.22 459.23 272.54 459.42 271.86 C459.60 271.18 459.73 270.78 460.27 269.94Z" fill="none" stroke="#111" stroke-width="0.9" clip-path="url(#cbr)"/>
<path d="M462.41 269.54 C462.92 268.84 463.77 267.78 464.51 267.01 C465.24 266.23 466.05 265.48 466.82 264.87 C467.58 264.26 468.31 263.80 469.10 263.34 C469.89 262.87 470.63 262.50 471.55 262.08 C472.47 261.66 473.40 261.20 474.61 260.82 C475.83 260.45 477.66 259.71 478.82 259.81 C479.99 259.92 481.41 260.52 481.61 261.47 C481.81 262.42 480.67 264.34 480.05 265.54 C479.43 266.73 478.54 267.76 477.87 268.64 C477.20 269.51 476.58 270.18 476.02 270.79 C475.46 271.40 475.08 271.86 474.52 272.32 C473.95 272.79 473.40 273.18 472.63 273.58 C471.86 273.98 471.04 274.31 469.88 274.71 C468.73 275.10 467.13 275.77 465.72 275.95 C464.31 276.13 462.24 276.22 461.42 275.76 C460.60 275.30 460.81 273.96 460.81 273.19 C460.82 272.43 461.19 271.79 461.46 271.18 C461.72 270.57 461.90 270.23 462.41 269.54Z" fill="none" stroke="#111" stroke-width="0.9" clip-path="url(#cbr)"/>
<path d="M464.01 269.23 C464.49 268.65 465.26 267.79 465.89 267.16 C466.52 266.53 467.17 265.96 467.79 265.46 C468.40 264.97 468.95 264.60 469.58 264.19 C470.21 263.78 470.78 263.43 471.56 263.01 C472.34 262.59 473.12 262.12 474.25 261.67 C475.38 261.23 477.20 260.33 478.33 260.35 C479.47 260.38 480.92 260.92 481.06 261.82 C481.20 262.72 479.86 264.66 479.17 265.78 C478.47 266.89 477.54 267.77 476.88 268.51 C476.21 269.25 475.67 269.74 475.18 270.22 C474.68 270.70 474.36 271.01 473.90 271.37 C473.44 271.73 473.04 272.03 472.42 272.39 C471.79 272.75 471.18 273.10 470.17 273.54 C469.17 273.98 467.69 274.79 466.37 275.05 C465.05 275.31 462.97 275.52 462.25 275.11 C461.53 274.70 461.92 273.32 462.05 272.58 C462.17 271.84 462.66 271.23 462.99 270.67 C463.32 270.11 463.53 269.82 464.01 269.23Z" fill="none" stroke="#111" stroke-width="0.9" clip-path="url(#cbr)"/>
<path d="M465.35 268.98 C465.81 268.49 466.51 267.79 467.05 267.29 C467.59 266.79 468.11 266.36 468.60 265.96 C469.08 265.56 469.48 265.26 469.97 264.90 C470.47 264.54 470.90 264.21 471.57 263.79 C472.23 263.37 472.88 262.88 473.94 262.38 C475.00 261.88 476.82 260.85 477.93 260.80 C479.04 260.76 480.51 261.25 480.60 262.11 C480.68 262.97 479.19 264.92 478.43 265.97 C477.67 267.02 476.71 267.77 476.06 268.40 C475.40 269.03 474.92 269.38 474.47 269.74 C474.03 270.11 473.76 270.30 473.39 270.58 C473.02 270.86 472.74 271.07 472.24 271.40 C471.74 271.73 471.30 272.08 470.42 272.57 C469.53 273.05 468.15 273.97 466.91 274.30 C465.67 274.63 463.59 274.94 462.95 274.57 C462.31 274.19 462.85 272.78 463.07 272.06 C463.29 271.34 463.89 270.76 464.27 270.24 C464.65 269.73 464.88 269.47 465.35 268.98Z" fill="none" stroke="#111" stroke-width="0.9" clip-path="url(#cbr)"/>
<path d="M452.50 279.00 C453.07 278.22 454.42 277.70 456.00 277.50 C457.58 277.30 460.00 277.63 462.00 277.80 C464.00 277.97 466.00 278.37 468.00 278.50 C470.00 278.63 472.25 278.55 474.00 278.60 C475.75 278.65 477.83 278.15 478.50 278.80 C479.17 279.45 478.92 281.47 478.00 282.50 C477.08 283.53 475.00 284.33 473.00 285.00 C471.00 285.67 468.25 286.20 466.00 286.50 C463.75 286.80 461.33 287.05 459.50 286.80 C457.67 286.55 456.15 285.77 455.00 285.00 C453.85 284.23 453.02 283.20 452.60 282.20 C452.18 281.20 451.93 279.78 452.50 279.00Z" fill="none" stroke="#111" stroke-width="0.9" clip-path="url(#cbr)"/>
<path d="M456.00 288.50 C456.67 288.33 458.50 287.65 460.00 287.50 C461.50 287.35 463.33 287.72 465.00 287.60 C466.67 287.48 468.67 287.03 470.00 286.80 C471.33 286.57 472.50 286.30 473.00 286.20" fill="none" stroke="#111" stroke-width="1.6" clip-path="url(#cbr)"/>
<path d="M453.00 276.00 C453.67 276.43 455.50 278.07 457.00 278.60 C458.50 279.13 460.33 279.22 462.00 279.20 C463.67 279.18 465.25 278.87 467.00 278.50 C468.75 278.13 470.92 277.48 472.50 277.00 C474.08 276.52 475.83 275.83 476.50 275.60" fill="none" stroke="#111" stroke-width="1.0" clip-path="url(#cbr)"/>
<path d="M451.50 279.50 C452.17 280.00 453.92 281.82 455.50 282.50 C457.08 283.18 459.08 283.52 461.00 283.60 C462.92 283.68 465.00 283.40 467.00 283.00 C469.00 282.60 471.25 281.87 473.00 281.20 C474.75 280.53 476.75 279.37 477.50 279.00" fill="none" stroke="#111" stroke-width="1.0" clip-path="url(#cbr)"/>
<ellipse cx="444.4" cy="288.8" rx="3.8" ry="2.4" transform="rotate(-15 444.4 288.8)" fill="none" stroke="#111" stroke-width="1.0"/>
<ellipse cx="447" cy="299.6" rx="3.4" ry="2.5" transform="rotate(-10 447 299.6)" fill="none" stroke="#111" stroke-width="1.0"/>
<path d="M426.00 304.00 C426.67 303.75 428.50 303.03 430.00 302.50 C431.50 301.97 433.58 301.63 435.00 300.80 C436.42 299.97 438.00 298.80 438.50 297.50 C439.00 296.20 438.12 294.58 438.00 293.00 C437.88 291.42 437.38 289.67 437.80 288.00 C438.22 286.33 439.30 284.08 440.50 283.00 C441.70 281.92 443.42 281.88 445.00 281.50 C446.58 281.12 449.17 280.83 450.00 280.70" fill="none" stroke="#111" stroke-width="1.0" clip-path="url(#cbr)"/>
<path d="M421.00 307.50 C421.83 307.30 424.17 306.62 426.00 306.30 C427.83 305.98 430.00 305.82 432.00 305.60 C434.00 305.38 436.25 305.03 438.00 305.00 C439.75 304.97 441.08 305.52 442.50 305.40 C443.92 305.28 445.42 305.20 446.50 304.30 C447.58 303.40 448.25 301.50 449.00 300.00 C449.75 298.50 450.08 296.57 451.00 295.30 C451.92 294.03 453.92 292.88 454.50 292.40" fill="none" stroke="#111" stroke-width="1.0" clip-path="url(#cbr)"/>
<circle cx="476" cy="275" r="1.1" fill="#1a1a1a"/>
<path d="M425.50 301.50 C426.17 301.25 427.95 300.45 429.50 300.00 C431.05 299.55 433.63 299.72 434.80 298.80 C435.97 297.88 436.23 296.05 436.50 294.50 C436.77 292.95 436.18 291.05 436.40 289.50 C436.62 287.95 436.95 286.35 437.80 285.20 C438.65 284.05 440.13 283.37 441.50 282.60 C442.87 281.83 444.58 281.32 446.00 280.60 C447.42 279.88 448.75 279.15 450.00 278.30 C451.25 277.45 452.92 275.97 453.50 275.50" fill="none" stroke="#111" stroke-width="1.0" clip-path="url(#cbr)"/>
<rect x="392.9" y="239.3" width="26.100000000000023" height="36.89999999999998" fill="none" stroke="#222" stroke-width="1.1"/>
<rect x="455.3" y="240.8" width="34.3" height="35.6" fill="none" stroke="#222" stroke-width="1.1"/>
<text x="410.3" y="231.4" font-family='"Liberation Sans", sans-serif' font-size="7.5" font-weight="normal" text-anchor="middle" stroke="#000" stroke-width="0.2" >R5</text>
<text x="477.4" y="230.2" font-family='"Liberation Sans", sans-serif' font-size="7.5" font-weight="normal" text-anchor="middle" stroke="#000" stroke-width="0.2" >R4</text>
<text x="384.2" y="258" font-family='"Liberation Sans", sans-serif' font-size="16.3" font-weight="normal" text-anchor="middle" transform="rotate(-90 384.2 258)" stroke="#000" stroke-width="0.12" >CD3</text>
<text x="419" y="330.8" font-family='"Liberation Sans", sans-serif' font-size="16.3" stroke="#000" stroke-width="0.12">TCR <tspan font-family='"Liberation Serif", serif' font-size="16.5">β</tspan></text>
<text x="2.0" y="379.6" font-family='"Liberation Sans", sans-serif' font-size="25" font-weight="bold" text-anchor="start" >C</text>
<rect x="31.0" y="385.1" width="124.1" height="107.5" fill="none" stroke="#222" stroke-width="1.2"/>
<path d="M30.4 492.60h-3 M30.4 488.30h-1.8 M30.4 484.00h-1.8 M30.4 479.70h-1.8 M30.4 475.40h-1.8 M30.4 471.10h-3 M30.4 466.80h-1.8 M30.4 462.50h-1.8 M30.4 458.20h-1.8 M30.4 453.90h-1.8 M30.4 449.60h-3 M30.4 445.30h-1.8 M30.4 441.00h-1.8 M30.4 436.70h-1.8 M30.4 432.40h-1.8 M30.4 428.10h-3 M30.4 423.80h-1.8 M30.4 419.50h-1.8 M30.4 415.20h-1.8 M30.4 410.90h-1.8 M30.4 406.60h-3 M30.4 402.30h-1.8 M30.4 398.00h-1.8 M30.4 393.70h-1.8 M30.4 389.40h-1.8 M30.4 385.10h-3" stroke="#222" stroke-width="0.9" fill="none"/>
<path d="M31.00 493.20000000000005v2 M40.34 493.20000000000005v1.2 M45.80 493.20000000000005v1.2 M49.68 493.20000000000005v1.2 M52.69 493.20000000000005v1.2 M55.14 493.20000000000005v1.2 M57.22 493.20000000000005v1.2 M59.02 493.20000000000005v1.2 M60.61 493.20000000000005v1.2 M62.02 493.20000000000005v2 M71.36 493.20000000000005v1.2 M76.83 493.20000000000005v1.2 M80.70 493.20000000000005v1.2 M83.71 493.20000000000005v1.2 M86.17 493.20000000000005v1.2 M88.24 493.20000000000005v1.2 M90.04 493.20000000000005v1.2 M91.63 493.20000000000005v1.2 M93.05 493.20000000000005v2 M102.39 493.20000000000005v1.2 M107.85 493.20000000000005v1.2 M111.73 493.20000000000005v1.2 M114.74 493.20000000000005v1.2 M117.19 493.20000000000005v1.2 M119.27 493.20000000000005v1.2 M121.07 493.20000000000005v1.2 M122.66 493.20000000000005v1.2 M124.07 493.20000000000005v2 M133.41 493.20000000000005v1.2 M138.88 493.20000000000005v1.2 M142.75 493.20000000000005v1.2 M145.76 493.20000000000005v1.2 M148.22 493.20000000000005v1.2 M150.29 493.20000000000005v1.2 M152.09 493.20000000000005v1.2 M153.68 493.20000000000005v1.2 M155.10 493.20000000000005v2" stroke="#222" stroke-width="0.9" fill="none"/>
<polyline points="35.8,492.6 43.8,492.1 52,490.8 60,488.1 64,486.3 68.1,484 71,482.5 73.5,481.2 75.5,480.4 77.5,480 79.5,479.5 81.5,479.6 83.5,480.6 85.6,481.2 87.8,480.3 89.6,478.4 91,475 91.8,471.9 93.7,461.2 95.5,447.7 97.7,428.8 99.5,414 100.4,404.6 101.5,398 102.3,394.8 103.2,396 104.4,401.9 105.6,412 107.1,428.8 109,453.1 110.2,462.5 111.2,471.9 112.5,479.5 113.9,485.4 115.8,489.2 117.9,491.3 122,492.5 126,492.7" fill="none" stroke="#1a1a1a" stroke-width="1.0"/>
<line x1="87.7" y1="462" x2="130.8" y2="462" stroke="#222" stroke-width="1.1"/>
<line x1="87.7" y1="455.3" x2="87.7" y2="468.7" stroke="#222" stroke-width="1.1"/>
<line x1="130.8" y1="455.3" x2="130.8" y2="468.7" stroke="#222" stroke-width="1.1"/>
<text x="121.6" y="451.7" font-family='"Liberation Sans", sans-serif' font-size="7.5" font-weight="normal" text-anchor="middle" stroke="#000" stroke-width="0.2" >R6</text>
<text x="13.2" y="444.1" font-family='"Liberation Sans", sans-serif' font-size="13.2" font-weight="normal" text-anchor="middle" transform="rotate(-90 13.2 444.1)" stroke="#000" stroke-width="0.12" >Cell number</text>
<text x="94.4" y="513.5" font-family='"Liberation Sans", sans-serif' font-size="16.3" font-weight="normal" text-anchor="middle" stroke="#000" stroke-width="0.12" >CD45.2</text>
<text x="392.5" y="363" font-family='"Liberation Sans", sans-serif' font-size="16.6" font-weight="normal" text-anchor="middle" stroke="#000" stroke-width="0.12" >CD45.2-gated</text>
<line x1="210.8" y1="368.1" x2="515.4" y2="368.1" stroke="#222" stroke-width="1.2"/>
<defs><clipPath id="ccm"><rect x="213.85" y="386.15" width="122.35" height="107.15000000000003"/></clipPath></defs>
<rect x="213.85" y="386.15" width="122.35" height="107.15000000000003" fill="none" stroke="#222" stroke-width="1.2"/>
<path d="M213.25 493.30h-3.2 M213.25 485.24h-2.2 M213.25 480.52h-2.2 M213.25 477.17h-2.2 M213.25 474.58h-2.2 M213.25 472.46h-2.2 M213.25 470.66h-2.2 M213.25 469.11h-2.2 M213.25 467.74h-2.2 M213.25 466.51h-3.2 M213.25 458.45h-2.2 M213.25 453.73h-2.2 M213.25 450.38h-2.2 M213.25 447.79h-2.2 M213.25 445.67h-2.2 M213.25 443.87h-2.2 M213.25 442.32h-2.2 M213.25 440.95h-2.2 M213.25 439.73h-3.2 M213.25 431.66h-2.2 M213.25 426.94h-2.2 M213.25 423.60h-2.2 M213.25 421.00h-2.2 M213.25 418.88h-2.2 M213.25 417.09h-2.2 M213.25 415.53h-2.2 M213.25 414.16h-2.2 M213.25 412.94h-3.2 M213.25 404.87h-2.2 M213.25 400.16h-2.2 M213.25 396.81h-2.2 M213.25 394.21h-2.2 M213.25 392.09h-2.2 M213.25 390.30h-2.2 M213.25 388.75h-2.2 M213.25 387.38h-2.2 M213.25 386.15h-3.2" stroke="#222" stroke-width="0.9" fill="none"/>
<path d="M213.85 493.90000000000003v3.2 M223.06 493.90000000000003v2.4 M228.44 493.90000000000003v2.4 M232.27 493.90000000000003v2.4 M235.23 493.90000000000003v2.4 M237.65 493.90000000000003v2.4 M239.70 493.90000000000003v2.4 M241.47 493.90000000000003v2.4 M243.04 493.90000000000003v2.4 M244.44 493.90000000000003v3.2 M253.65 493.90000000000003v2.4 M259.03 493.90000000000003v2.4 M262.85 493.90000000000003v2.4 M265.82 493.90000000000003v2.4 M268.24 493.90000000000003v2.4 M270.29 493.90000000000003v2.4 M272.06 493.90000000000003v2.4 M273.63 493.90000000000003v2.4 M275.02 493.90000000000003v3.2 M284.23 493.90000000000003v2.4 M289.62 493.90000000000003v2.4 M293.44 493.90000000000003v2.4 M296.40 493.90000000000003v2.4 M298.83 493.90000000000003v2.4 M300.87 493.90000000000003v2.4 M302.65 493.90000000000003v2.4 M304.21 493.90000000000003v2.4 M305.61 493.90000000000003v3.2 M314.82 493.90000000000003v2.4 M320.21 493.90000000000003v2.4 M324.03 493.90000000000003v2.4 M326.99 493.90000000000003v2.4 M329.41 493.90000000000003v2.4 M331.46 493.90000000000003v2.4 M333.24 493.90000000000003v2.4 M334.80 493.90000000000003v2.4 M336.20 493.90000000000003v3.2" stroke="#222" stroke-width="0.9" fill="none"/>
<ellipse cx="281.4" cy="422.6" rx="6.5" ry="5.3" transform="rotate(0 281.4 422.6)" fill="none" stroke="#111" stroke-width="1.0"/>
<path d="M269.60 420.70 C269.68 419.40 270.77 418.00 272.00 417.20 C273.23 416.40 275.00 416.10 277.00 415.90 C279.00 415.70 282.08 415.57 284.00 416.00 C285.92 416.43 287.62 417.33 288.50 418.50 C289.38 419.67 289.47 421.42 289.30 423.00 C289.13 424.58 288.55 426.62 287.50 428.00 C286.45 429.38 284.38 430.68 283.00 431.30 C281.62 431.92 280.53 432.08 279.20 431.70 C277.87 431.32 276.28 430.12 275.00 429.00 C273.72 427.88 272.40 426.38 271.50 425.00 C270.60 423.62 269.52 422.00 269.60 420.70Z" fill="none" stroke="#111" stroke-width="1.0" clip-path="url(#ccm)"/>
<path d="M264.30 421.60 C264.38 420.18 265.55 418.57 267.00 417.50 C268.45 416.43 270.50 415.68 273.00 415.20 C275.50 414.72 279.33 414.58 282.00 414.60 C284.67 414.62 287.50 414.40 289.00 415.30 C290.50 416.20 290.75 418.22 291.00 420.00 C291.25 421.78 291.03 424.00 290.50 426.00 C289.97 428.00 288.92 430.17 287.80 432.00 C286.68 433.83 285.07 435.77 283.80 437.00 C282.53 438.23 281.42 439.48 280.20 439.40 C278.98 439.32 278.03 437.90 276.50 436.50 C274.97 435.10 272.67 432.75 271.00 431.00 C269.33 429.25 267.62 427.57 266.50 426.00 C265.38 424.43 264.22 423.02 264.30 421.60Z" fill="none" stroke="#111" stroke-width="1.0" clip-path="url(#ccm)"/>
<path d="M259.80 420.50 C260.13 418.87 261.30 417.28 263.00 416.20 C264.70 415.12 266.83 414.48 270.00 414.00 C273.17 413.52 278.62 413.35 282.00 413.30 C285.38 413.25 288.52 412.92 290.30 413.70 C292.08 414.48 292.37 415.95 292.70 418.00 C293.03 420.05 292.70 423.33 292.30 426.00 C291.90 428.67 291.22 431.50 290.30 434.00 C289.38 436.50 288.02 439.08 286.80 441.00 C285.58 442.92 284.30 445.08 283.00 445.50 C281.70 445.92 280.83 444.78 279.00 443.50 C277.17 442.22 274.33 439.72 272.00 437.80 C269.67 435.88 266.83 433.97 265.00 432.00 C263.17 430.03 261.87 427.92 261.00 426.00 C260.13 424.08 259.47 422.13 259.80 420.50Z" fill="none" stroke="#111" stroke-width="1.0" clip-path="url(#ccm)"/>
<path d="M224.50 416.50 C225.08 415.98 226.58 414.13 228.00 413.40 C229.42 412.67 230.23 412.48 233.00 412.10 C235.77 411.72 240.75 411.45 244.60 411.10 C248.45 410.75 251.87 410.43 256.10 410.00 C260.33 409.57 265.85 409.07 270.00 408.50 C274.15 407.93 277.83 406.97 281.00 406.60 C284.17 406.23 286.58 406.02 289.00 406.30 C291.42 406.58 293.73 407.18 295.50 408.30 C297.27 409.42 298.78 410.88 299.60 413.00 C300.42 415.12 300.47 418.17 300.40 421.00 C300.33 423.83 299.82 427.00 299.20 430.00 C298.58 433.00 297.60 436.08 296.70 439.00 C295.80 441.92 294.28 446.08 293.80 447.50" fill="none" stroke="#151515" stroke-width="0.85" clip-path="url(#ccm)"/>
<path d="M227.38 417.07 C227.94 416.64 229.27 415.10 230.75 414.47 C232.23 413.85 233.55 413.65 236.25 413.30 C238.95 412.95 243.40 412.73 246.95 412.40 C250.50 412.07 253.65 411.75 257.58 411.32 C261.50 410.90 266.60 410.38 270.50 409.85 C274.40 409.33 278.00 408.50 281.00 408.18 C284.00 407.85 286.27 407.65 288.50 407.90 C290.73 408.15 292.79 408.68 294.38 409.70 C295.96 410.72 297.27 412.07 298.00 414.00 C298.73 415.93 298.80 418.58 298.77 421.25 C298.75 423.92 298.34 427.04 297.85 430.00 C297.36 432.96 296.55 436.08 295.82 439.00 C295.10 441.92 293.87 446.08 293.48 447.50" fill="none" stroke="#151515" stroke-width="0.85" clip-path="url(#ccm)"/>
<path d="M230.25 417.65 C230.79 417.30 231.96 416.07 233.50 415.55 C235.04 415.02 236.87 414.81 239.50 414.50 C242.13 414.19 246.04 414.01 249.30 413.70 C252.56 413.39 255.43 413.07 259.05 412.65 C262.67 412.23 267.34 411.68 271.00 411.20 C274.66 410.72 278.17 410.03 281.00 409.75 C283.83 409.47 285.96 409.27 288.00 409.50 C290.04 409.73 291.85 410.18 293.25 411.10 C294.65 412.02 295.75 413.27 296.40 415.00 C297.05 416.73 297.13 419.00 297.15 421.50 C297.17 424.00 296.87 427.08 296.50 430.00 C296.13 432.92 295.51 436.08 294.95 439.00 C294.39 441.92 293.45 446.08 293.15 447.50" fill="none" stroke="#151515" stroke-width="0.85" clip-path="url(#ccm)"/>
<path d="M233.12 418.23 C233.65 417.96 234.65 417.05 236.25 416.62 C237.85 416.20 240.18 415.97 242.75 415.70 C245.32 415.43 248.69 415.29 251.65 415.00 C254.61 414.71 257.22 414.38 260.52 413.98 C263.83 413.57 268.09 412.99 271.50 412.55 C274.91 412.11 278.33 411.57 281.00 411.32 C283.67 411.08 285.65 410.90 287.50 411.10 C289.35 411.30 290.91 411.68 292.12 412.50 C293.34 413.32 294.23 414.46 294.80 416.00 C295.37 417.54 295.47 419.42 295.52 421.75 C295.58 424.08 295.39 427.12 295.15 430.00 C294.91 432.88 294.46 436.08 294.07 439.00 C293.69 441.92 293.03 446.08 292.82 447.50" fill="none" stroke="#151515" stroke-width="0.85" clip-path="url(#ccm)"/>
<path d="M236.00 418.80 C236.50 418.62 237.33 418.02 239.00 417.70 C240.67 417.38 243.50 417.13 246.00 416.90 C248.50 416.67 251.33 416.57 254.00 416.30 C256.67 416.03 259.00 415.70 262.00 415.30 C265.00 414.90 268.83 414.30 272.00 413.90 C275.17 413.50 278.50 413.10 281.00 412.90 C283.50 412.70 285.33 412.53 287.00 412.70 C288.67 412.87 289.97 413.18 291.00 413.90 C292.03 414.62 292.72 415.65 293.20 417.00 C293.68 418.35 293.80 419.83 293.90 422.00 C294.00 424.17 293.92 427.17 293.80 430.00 C293.68 432.83 293.42 436.08 293.20 439.00 C292.98 441.92 292.62 446.08 292.50 447.50" fill="none" stroke="#151515" stroke-width="0.85" clip-path="url(#ccm)"/>
<path d="M292.80 447.50 C292.37 448.43 291.30 450.37 290.20 453.10 C289.10 455.83 287.77 460.32 286.20 463.90 C284.63 467.48 283.05 471.02 280.80 474.60 C278.55 478.18 274.95 482.17 272.70 485.40 C270.45 488.63 268.20 492.57 267.30 494.00" fill="none" stroke="#111" stroke-width="1.0" clip-path="url(#ccm)"/>
<path d="M239.30 411.90 C238.15 412.05 234.42 412.22 232.40 412.80 C230.38 413.38 228.35 414.10 227.20 415.40 C226.05 416.70 225.78 418.73 225.50 420.60 C225.22 422.47 224.93 424.87 225.50 426.60 C226.07 428.33 227.97 429.70 228.90 431.00 C229.83 432.30 230.95 433.25 231.10 434.40 C231.25 435.55 230.60 436.88 229.80 437.90 C229.00 438.92 227.60 439.78 226.30 440.50 C225.00 441.22 223.47 441.95 222.00 442.20 C220.53 442.45 218.63 442.62 217.50 442.00 C216.37 441.38 215.70 439.92 215.20 438.50 C214.70 437.08 214.62 434.33 214.50 433.50" fill="none" stroke="#111" stroke-width="1.0" clip-path="url(#ccm)"/>
<path d="M248.00 412.80 C246.83 412.95 243.17 413.42 241.00 413.70 C238.83 413.98 236.58 414.18 235.00 414.50 C233.42 414.82 232.27 414.93 231.50 415.60 C230.73 416.27 230.53 417.10 230.40 418.50 C230.27 419.90 230.22 422.22 230.70 424.00 C231.18 425.78 231.87 427.98 233.30 429.20 C234.73 430.42 237.58 430.57 239.30 431.30 C241.02 432.03 242.80 432.78 243.60 433.60 C244.40 434.42 244.53 435.33 244.10 436.20 C243.67 437.07 242.52 437.93 241.00 438.80 C239.48 439.67 237.02 440.65 235.00 441.40 C232.98 442.15 231.07 442.83 228.90 443.30 C226.73 443.77 224.48 443.98 222.00 444.20 C219.52 444.42 215.33 444.53 214.00 444.60" fill="none" stroke="#111" stroke-width="1.0" clip-path="url(#ccm)"/>
<path d="M255.00 414.20 C253.83 414.33 250.18 414.73 248.00 415.00 C245.82 415.27 243.63 415.42 241.90 415.80 C240.17 416.18 238.53 416.35 237.60 417.30 C236.67 418.25 236.30 420.08 236.30 421.50 C236.30 422.92 236.52 424.65 237.60 425.80 C238.68 426.95 241.22 427.53 242.80 428.40 C244.38 429.27 246.20 429.85 247.10 431.00 C248.00 432.15 248.35 433.87 248.20 435.30 C248.05 436.73 247.25 438.42 246.20 439.60 C245.15 440.78 243.77 441.52 241.90 442.40 C240.03 443.28 237.17 444.33 235.00 444.90 C232.83 445.47 231.07 445.55 228.90 445.80 C226.73 446.05 224.48 446.27 222.00 446.40 C219.52 446.53 215.33 446.57 214.00 446.60" fill="none" stroke="#111" stroke-width="1.0" clip-path="url(#ccm)"/>
<path d="M260.00 415.50 C258.87 415.60 255.35 415.83 253.20 416.10 C251.05 416.37 248.70 416.70 247.10 417.10 C245.50 417.50 244.32 417.63 243.60 418.50 C242.88 419.37 242.65 421.08 242.80 422.30 C242.95 423.52 243.50 424.78 244.50 425.80 C245.50 426.82 247.65 427.53 248.80 428.40 C249.95 429.27 250.80 429.85 251.40 431.00 C252.00 432.15 252.40 433.87 252.40 435.30 C252.40 436.73 252.13 438.30 251.40 439.60 C250.67 440.90 249.73 442.12 248.00 443.10 C246.27 444.08 243.17 444.88 241.00 445.50 C238.83 446.12 236.00 446.58 235.00 446.80" fill="none" stroke="#111" stroke-width="1.0" clip-path="url(#ccm)"/>
<path d="M262.00 418.00 C260.83 418.10 256.92 418.33 255.00 418.60 C253.08 418.87 251.53 419.20 250.50 419.60 C249.47 420.00 248.93 420.30 248.80 421.00 C248.67 421.70 249.12 422.93 249.70 423.80 C250.28 424.67 251.38 425.50 252.30 426.20 C253.22 426.90 254.32 427.23 255.20 428.00 C256.08 428.77 257.03 429.72 257.60 430.80 C258.17 431.88 258.53 433.13 258.60 434.50 C258.67 435.87 258.43 437.58 258.00 439.00 C257.57 440.42 257.00 441.80 256.00 443.00 C255.00 444.20 252.67 445.67 252.00 446.20" fill="none" stroke="#111" stroke-width="1.0" clip-path="url(#ccm)"/>
<path d="M214.00 419.20 C214.30 419.37 215.33 419.40 215.80 420.20 C216.27 421.00 216.80 422.72 216.80 424.00 C216.80 425.28 216.27 427.10 215.80 427.90 C215.33 428.70 214.30 428.65 214.00 428.80" fill="none" stroke="#111" stroke-width="1.0" clip-path="url(#ccm)"/>
<path d="M214.00 421.20 C214.15 421.43 214.70 422.13 214.90 422.60 C215.10 423.07 215.20 423.50 215.20 424.00 C215.20 424.50 215.10 425.13 214.90 425.60 C214.70 426.07 214.15 426.60 214.00 426.80" fill="none" stroke="#111" stroke-width="1.0" clip-path="url(#ccm)"/>
<path d="M214.00 415.90 C214.63 416.22 216.53 417.08 217.80 417.80 C219.07 418.52 220.63 419.25 221.60 420.20 C222.57 421.15 223.43 422.38 223.60 423.50 C223.77 424.62 223.25 426.02 222.60 426.90 C221.95 427.78 220.67 428.15 219.70 428.80 C218.73 429.45 217.38 429.83 216.80 430.80 C216.22 431.77 216.03 433.32 216.20 434.60 C216.37 435.88 217.22 437.43 217.80 438.50 C218.38 439.57 218.75 440.37 219.70 441.00 C220.65 441.63 222.28 442.43 223.50 442.30 C224.72 442.17 225.98 441.17 227.00 440.20 C228.02 439.23 229.17 437.75 229.60 436.50 C230.03 435.25 230.00 433.95 229.60 432.70 C229.20 431.45 227.93 430.20 227.20 429.00 C226.47 427.80 225.63 426.75 225.20 425.50 C224.77 424.25 224.43 422.78 224.60 421.50 C224.77 420.22 225.47 418.80 226.20 417.80 C226.93 416.80 228.53 415.88 229.00 415.50" fill="none" stroke="#111" stroke-width="1.0" clip-path="url(#ccm)"/>
<path d="M214.00 441.60 C214.37 442.75 215.48 446.92 216.20 448.50 C216.92 450.08 216.88 450.75 218.30 451.10 C219.72 451.45 222.23 450.87 224.70 450.60 C227.17 450.33 230.28 449.82 233.10 449.50 C235.92 449.18 239.13 448.90 241.60 448.70 C244.07 448.50 245.83 448.35 247.90 448.30 C249.97 448.25 252.98 448.38 254.00 448.40" fill="none" stroke="#111" stroke-width="1.0" clip-path="url(#ccm)"/>
<path d="M214.00 449.50 C214.20 450.03 214.30 451.63 215.20 452.70 C216.10 453.77 217.65 455.37 219.40 455.90 C221.15 456.43 223.42 456.17 225.70 455.90 C227.98 455.63 230.63 454.92 233.10 454.30 C235.57 453.68 238.03 452.88 240.50 452.20 C242.97 451.52 245.60 450.75 247.90 450.20 C250.20 449.65 252.28 449.22 254.30 448.90 C256.32 448.58 259.05 448.40 260.00 448.30" fill="none" stroke="#111" stroke-width="1.0" clip-path="url(#ccm)"/>
<path d="M214.00 455.00 C214.10 455.50 213.88 456.98 214.60 458.00 C215.32 459.02 216.80 460.32 218.30 461.10 C219.80 461.88 221.65 462.52 223.60 462.70 C225.55 462.88 227.88 462.55 230.00 462.20 C232.12 461.85 234.18 461.13 236.30 460.60 C238.42 460.07 240.58 459.43 242.70 459.00 C244.82 458.57 246.90 458.52 249.00 458.00 C251.10 457.48 253.30 456.90 255.30 455.90 C257.30 454.90 259.55 453.23 261.00 452.00 C262.45 450.77 263.50 449.08 264.00 448.50" fill="none" stroke="#111" stroke-width="1.0" clip-path="url(#ccm)"/>
<path d="M214.80 462.00 C214.97 462.38 215.30 463.38 215.80 464.30 C216.30 465.22 217.38 465.73 217.80 467.50 C218.22 469.27 217.68 473.50 218.30 474.90 C218.92 476.30 219.38 475.90 221.50 475.90 C223.62 475.90 228.18 475.60 231.00 474.90 C233.82 474.20 236.63 472.93 238.40 471.70 C240.17 470.47 240.72 468.90 241.60 467.50 C242.48 466.10 243.13 464.63 243.70 463.30 C244.27 461.97 244.28 460.55 245.00 459.50 C245.72 458.45 247.50 457.42 248.00 457.00" fill="none" stroke="#111" stroke-width="1.0" clip-path="url(#ccm)"/>
<path d="M214.50 472.00 C214.78 472.65 215.57 474.18 216.20 475.90 C216.83 477.62 217.95 480.18 218.30 482.30 C218.65 484.42 217.58 487.20 218.30 488.60 C219.02 490.00 220.48 490.52 222.60 490.70 C224.72 490.88 229.25 490.57 231.00 489.70 C232.75 488.83 231.87 486.73 233.10 485.50 C234.33 484.27 236.63 483.37 238.40 482.30 C240.17 481.23 241.93 480.68 243.70 479.10 C245.47 477.52 247.58 474.92 249.00 472.80 C250.42 470.68 251.15 468.35 252.20 466.40 C253.25 464.45 253.90 462.33 255.30 461.10 C256.70 459.87 258.48 459.87 260.60 459.00 C262.72 458.13 265.37 456.78 268.00 455.90 C270.63 455.02 273.58 454.42 276.40 453.70 C279.22 452.98 282.25 452.55 284.90 451.60 C287.55 450.65 291.07 448.60 292.30 448.00" fill="none" stroke="#111" stroke-width="1.0" clip-path="url(#ccm)"/>
<path d="M231.00 489.20 C232.07 488.40 235.45 485.90 237.40 484.40 C239.35 482.90 240.93 481.62 242.70 480.20 C244.47 478.78 246.42 477.32 248.00 475.90 C249.58 474.48 250.98 472.93 252.20 471.70 C253.42 470.47 254.25 469.38 255.30 468.50 C256.35 467.62 256.73 466.92 258.50 466.40 C260.27 465.88 263.80 465.92 265.90 465.40 C268.00 464.88 269.35 464.18 271.10 463.30 C272.85 462.42 274.28 461.52 276.40 460.10 C278.52 458.68 281.33 456.57 283.80 454.80 C286.27 453.03 289.97 450.38 291.20 449.50" fill="none" stroke="#111" stroke-width="1.0" clip-path="url(#ccm)"/>
<path d="M241.60 493.80 C241.78 492.77 241.82 489.52 242.70 487.60 C243.58 485.68 245.50 483.72 246.90 482.30 C248.30 480.88 249.70 480.17 251.10 479.10 C252.50 478.03 253.72 476.78 255.30 475.90 C256.88 475.02 258.32 474.50 260.60 473.80 C262.88 473.10 266.53 472.58 269.00 471.70 C271.47 470.82 273.45 469.73 275.40 468.50 C277.35 467.27 278.95 466.05 280.70 464.30 C282.45 462.55 284.32 460.12 285.90 458.00 C287.48 455.88 289.48 452.67 290.20 451.60" fill="none" stroke="#111" stroke-width="1.0" clip-path="url(#ccm)"/>
<path d="M245.80 493.80 C246.17 492.77 247.12 489.17 248.00 487.60 C248.88 486.03 249.88 485.28 251.10 484.40 C252.32 483.52 253.72 482.65 255.30 482.30 C256.88 481.95 258.48 482.38 260.60 482.30 C262.72 482.22 265.88 482.33 268.00 481.80 C270.12 481.27 271.72 480.25 273.30 479.10 C274.88 477.95 276.10 476.30 277.50 474.90 C278.90 473.50 280.30 472.28 281.70 470.70 C283.10 469.12 284.67 467.52 285.90 465.40 C287.13 463.28 288.18 460.40 289.10 458.00 C290.02 455.60 291.02 452.17 291.40 451.00" fill="none" stroke="#111" stroke-width="1.0" clip-path="url(#ccm)"/>
<path d="M249.00 493.80 C249.35 493.12 250.05 490.92 251.10 489.70 C252.15 488.48 254.15 487.20 255.30 486.50 C256.45 485.80 257.55 485.67 258.00 485.50" fill="none" stroke="#111" stroke-width="1.0" clip-path="url(#ccm)"/>
<path d="M256.30 493.80 C256.50 493.25 256.88 491.30 257.50 490.50 C258.12 489.70 259.12 489.05 260.00 489.00 C260.88 488.95 262.00 489.40 262.80 490.20 C263.60 491.00 264.47 493.20 264.80 493.80" fill="none" stroke="#111" stroke-width="1.0" clip-path="url(#ccm)"/>
<line x1="255.5" y1="386.15" x2="255.5" y2="493.3" stroke="#222" stroke-width="1.1"/>
<line x1="213.85" y1="447.3" x2="336.2" y2="447.3" stroke="#222" stroke-width="1.1"/>
<line x1="301.6" y1="401.3" x2="331.8" y2="401.3" stroke="#222" stroke-width="1.1"/>
<line x1="318.6" y1="390.3" x2="318.6" y2="415.5" stroke="#222" stroke-width="1.1"/>
<text x="315.6" y="398.7" font-family='"Liberation Serif", serif' font-size="9.3" font-weight="normal" text-anchor="end" fill="#3a3a3a">5</text>
<text x="320.20000000000005" y="398.7" font-family='"Liberation Serif", serif' font-size="9.3" font-weight="normal" text-anchor="start" fill="#3a3a3a">62</text>
<text x="315.6" y="409.8" font-family='"Liberation Serif", serif' font-size="9.3" font-weight="normal" text-anchor="end" fill="#3a3a3a">28</text>
<text x="320.20000000000005" y="409.8" font-family='"Liberation Serif", serif' font-size="9.3" font-weight="normal" text-anchor="start" fill="#3a3a3a">5</text>
<text x="204.4" y="442" font-family='"Liberation Sans", sans-serif' font-size="16.3" font-weight="normal" text-anchor="middle" transform="rotate(-90 204.4 442)" stroke="#000" stroke-width="0.12" >CD4</text>
<text x="273.4" y="514.9" font-family='"Liberation Sans", sans-serif' font-size="16.3" font-weight="normal" text-anchor="middle" stroke="#000" stroke-width="0.12" >CD8</text>
<defs><clipPath id="ccr"><rect x="393.1" y="385.5" width="122.29999999999995" height="107.80000000000001"/></clipPath></defs>
<rect x="393.1" y="385.5" width="122.29999999999995" height="107.80000000000001" fill="none" stroke="#222" stroke-width="1.2"/>
<path d="M392.5 493.30h-3.2 M392.5 485.19h-2.2 M392.5 480.44h-2.2 M392.5 477.07h-2.2 M392.5 474.46h-2.2 M392.5 472.33h-2.2 M392.5 470.52h-2.2 M392.5 468.96h-2.2 M392.5 467.58h-2.2 M392.5 466.35h-3.2 M392.5 458.24h-2.2 M392.5 453.49h-2.2 M392.5 450.12h-2.2 M392.5 447.51h-2.2 M392.5 445.38h-2.2 M392.5 443.57h-2.2 M392.5 442.01h-2.2 M392.5 440.63h-2.2 M392.5 439.40h-3.2 M392.5 431.29h-2.2 M392.5 426.54h-2.2 M392.5 423.17h-2.2 M392.5 420.56h-2.2 M392.5 418.43h-2.2 M392.5 416.62h-2.2 M392.5 415.06h-2.2 M392.5 413.68h-2.2 M392.5 412.45h-3.2 M392.5 404.34h-2.2 M392.5 399.59h-2.2 M392.5 396.22h-2.2 M392.5 393.61h-2.2 M392.5 391.48h-2.2 M392.5 389.67h-2.2 M392.5 388.11h-2.2 M392.5 386.73h-2.2 M392.5 385.50h-3.2" stroke="#222" stroke-width="0.9" fill="none"/>
<path d="M393.10 493.90000000000003v3.2 M402.30 493.90000000000003v2.4 M407.69 493.90000000000003v2.4 M411.51 493.90000000000003v2.4 M414.47 493.90000000000003v2.4 M416.89 493.90000000000003v2.4 M418.94 493.90000000000003v2.4 M420.71 493.90000000000003v2.4 M422.28 493.90000000000003v2.4 M423.68 493.90000000000003v3.2 M432.88 493.90000000000003v2.4 M438.26 493.90000000000003v2.4 M442.08 493.90000000000003v2.4 M445.05 493.90000000000003v2.4 M447.47 493.90000000000003v2.4 M449.51 493.90000000000003v2.4 M451.29 493.90000000000003v2.4 M452.85 493.90000000000003v2.4 M454.25 493.90000000000003v3.2 M463.45 493.90000000000003v2.4 M468.84 493.90000000000003v2.4 M472.66 493.90000000000003v2.4 M475.62 493.90000000000003v2.4 M478.04 493.90000000000003v2.4 M480.09 493.90000000000003v2.4 M481.86 493.90000000000003v2.4 M483.43 493.90000000000003v2.4 M484.82 493.90000000000003v3.2 M494.03 493.90000000000003v2.4 M499.41 493.90000000000003v2.4 M503.23 493.90000000000003v2.4 M506.20 493.90000000000003v2.4 M508.62 493.90000000000003v2.4 M510.66 493.90000000000003v2.4 M512.44 493.90000000000003v2.4 M514.00 493.90000000000003v2.4 M515.40 493.90000000000003v3.2" stroke="#222" stroke-width="0.9" fill="none"/>
<path d="M394.00 423.10 C394.92 423.58 397.62 424.95 399.50 426.00 C401.38 427.05 403.67 428.35 405.30 429.40 C406.93 430.45 407.98 431.33 409.30 432.30 C410.62 433.27 412.08 434.62 413.20 435.20 C414.32 435.78 414.97 435.70 416.00 435.80 C417.03 435.90 418.83 435.80 419.40 435.80" fill="none" stroke="#111" stroke-width="1.0" clip-path="url(#ccr)"/>
<path d="M395.00 424.80 C395.42 425.42 396.42 427.58 397.50 428.50 C398.58 429.42 400.17 429.75 401.50 430.30 C402.83 430.85 404.50 431.27 405.50 431.80 C406.50 432.33 407.37 432.93 407.50 433.50 C407.63 434.07 407.13 434.53 406.30 435.20 C405.47 435.87 403.28 436.67 402.50 437.50 C401.72 438.33 401.48 439.32 401.60 440.20 C401.72 441.08 402.27 442.12 403.20 442.80 C404.13 443.48 405.85 443.87 407.20 444.30 C408.55 444.73 410.27 444.72 411.30 445.40 C412.33 446.08 413.15 447.32 413.40 448.40 C413.65 449.48 412.42 450.93 412.80 451.90 C413.18 452.87 414.67 453.68 415.70 454.20 C416.73 454.72 418.45 454.87 419.00 455.00" fill="none" stroke="#111" stroke-width="1.0" clip-path="url(#ccr)"/>
<path d="M394.60 426.00 C394.77 427.00 395.35 430.00 395.60 432.00 C395.85 434.00 395.92 435.83 396.10 438.00 C396.28 440.17 396.52 443.07 396.70 445.00 C396.88 446.93 396.73 448.07 397.20 449.60 C397.67 451.13 398.20 453.17 399.50 454.20 C400.80 455.23 402.92 455.40 405.00 455.80 C407.08 456.20 409.67 456.40 412.00 456.60 C414.33 456.80 417.83 456.93 419.00 457.00" fill="none" stroke="#111" stroke-width="1.0" clip-path="url(#ccr)"/>
<path d="M393.60 431.00 C393.67 432.50 393.88 437.00 394.00 440.00 C394.12 443.00 394.10 446.58 394.30 449.00 C394.50 451.42 394.58 453.12 395.20 454.50 C395.82 455.88 396.53 456.72 398.00 457.30 C399.47 457.88 403.00 457.88 404.00 458.00" fill="none" stroke="#111" stroke-width="1.0" clip-path="url(#ccr)"/>
<path d="M393.50 455.80 C395.42 455.70 401.92 455.47 405.00 455.20 C408.08 454.93 409.57 454.68 412.00 454.20 C414.43 453.72 417.18 453.13 419.60 452.30 C422.02 451.47 424.58 450.13 426.50 449.20 C428.42 448.27 429.85 447.27 431.10 446.70 C432.35 446.13 433.02 445.87 434.00 445.80 C434.98 445.73 435.75 446.63 437.00 446.30 C438.25 445.97 439.60 444.70 441.50 443.80 C443.40 442.90 446.08 441.90 448.40 440.90 C450.72 439.90 453.33 439.07 455.40 437.80 C457.47 436.53 458.95 434.53 460.80 433.30 C462.65 432.07 464.75 430.73 466.50 430.40 C468.25 430.07 469.85 430.67 471.30 431.30 C472.75 431.93 474.45 432.88 475.20 434.20 C475.95 435.52 476.03 437.57 475.80 439.20 C475.57 440.83 474.70 442.40 473.80 444.00 C472.90 445.60 471.62 447.35 470.40 448.80 C469.18 450.25 467.62 451.42 466.50 452.70 C465.38 453.98 464.65 455.22 463.70 456.50 C462.75 457.78 461.77 459.12 460.80 460.40 C459.83 461.68 458.87 462.77 457.90 464.20 C456.93 465.63 455.98 467.20 455.00 469.00 C454.02 470.80 453.08 472.83 452.00 475.00 C450.92 477.17 449.58 479.83 448.50 482.00 C447.42 484.17 446.33 485.92 445.50 488.00 C444.67 490.08 443.83 493.42 443.50 494.50" fill="none" stroke="#111" stroke-width="0.8" clip-path="url(#ccr)"/>
<path d="M393.50 456.43 C395.42 456.34 401.92 456.12 405.00 455.89 C408.08 455.65 409.57 455.43 412.00 455.01 C414.43 454.60 417.20 454.12 419.60 453.37 C422.00 452.62 424.51 451.40 426.43 450.53 C428.34 449.66 429.81 448.72 431.09 448.17 C432.36 447.62 433.09 447.33 434.07 447.23 C435.06 447.13 435.76 447.90 437.00 447.57 C438.24 447.24 439.66 446.08 441.50 445.26 C443.34 444.43 445.87 443.53 448.06 442.63 C450.25 441.72 452.70 440.96 454.63 439.83 C456.55 438.70 457.93 436.95 459.61 435.86 C461.30 434.77 463.17 433.59 464.74 433.29 C466.31 432.99 467.74 433.50 469.03 434.06 C470.31 434.62 471.80 435.48 472.46 436.66 C473.11 437.84 473.16 439.67 472.94 441.14 C472.72 442.61 471.95 444.03 471.14 445.49 C470.34 446.94 469.20 448.52 468.11 449.86 C467.03 451.19 465.64 452.28 464.63 453.49 C463.62 454.69 462.94 455.85 462.06 457.07 C461.17 458.30 460.26 459.59 459.33 460.84 C458.40 462.10 457.45 463.18 456.49 464.60 C455.53 466.02 454.57 467.59 453.57 469.36 C452.57 471.13 451.63 473.10 450.50 475.21 C449.37 477.33 447.95 479.93 446.79 482.07 C445.62 484.21 444.43 486.00 443.50 488.07 C442.57 490.14 441.60 493.43 441.21 494.50" fill="none" stroke="#111" stroke-width="0.8" clip-path="url(#ccr)"/>
<path d="M393.50 457.06 C395.42 456.98 401.92 456.78 405.00 456.57 C408.08 456.37 409.57 456.18 412.00 455.83 C414.43 455.47 417.21 455.10 419.60 454.44 C421.99 453.78 424.45 452.66 426.36 451.86 C428.27 451.06 429.77 450.18 431.07 449.64 C432.37 449.11 433.15 448.79 434.14 448.66 C435.13 448.52 435.77 449.17 437.00 448.84 C438.23 448.52 439.71 447.46 441.50 446.71 C443.29 445.97 445.65 445.17 447.71 444.36 C449.77 443.55 452.07 442.85 453.86 441.86 C455.64 440.87 456.91 439.36 458.43 438.41 C459.95 437.47 461.60 436.44 462.99 436.17 C464.37 435.90 465.64 436.32 466.76 436.81 C467.88 437.30 469.16 438.07 469.71 439.11 C470.27 440.16 470.29 441.78 470.09 443.09 C469.88 444.40 469.20 445.67 468.49 446.97 C467.78 448.28 466.78 449.70 465.83 450.91 C464.87 452.13 463.66 453.15 462.76 454.27 C461.85 455.39 461.23 456.47 460.41 457.64 C459.60 458.81 458.75 460.06 457.86 461.29 C456.97 462.51 456.02 463.60 455.07 465.00 C454.12 466.40 453.15 467.98 452.14 469.71 C451.13 471.45 450.18 473.36 449.00 475.43 C447.82 477.50 446.32 480.02 445.07 482.14 C443.82 484.26 442.52 486.08 441.50 488.14 C440.48 490.20 439.36 493.44 438.93 494.50" fill="none" stroke="#111" stroke-width="0.8" clip-path="url(#ccr)"/>
<path d="M393.50 457.69 C395.42 457.61 401.92 457.43 405.00 457.26 C408.08 457.08 409.57 456.93 412.00 456.64 C414.43 456.35 417.22 456.09 419.60 455.51 C421.98 454.94 424.38 453.92 426.29 453.19 C428.20 452.45 429.74 451.63 431.06 451.11 C432.38 450.60 433.22 450.25 434.21 450.09 C435.20 449.92 435.79 450.43 437.00 450.11 C438.21 449.80 439.77 448.84 441.50 448.17 C443.23 447.50 445.44 446.80 447.37 446.09 C449.30 445.37 451.44 444.74 453.09 443.89 C454.73 443.03 455.89 441.78 457.24 440.97 C458.60 440.17 460.02 439.29 461.23 439.06 C462.44 438.82 463.53 439.15 464.49 439.57 C465.44 439.99 466.51 440.66 466.97 441.57 C467.43 442.48 467.42 443.88 467.23 445.03 C467.04 446.18 466.44 447.30 465.83 448.46 C465.21 449.61 464.37 450.87 463.54 451.97 C462.72 453.07 461.68 454.02 460.89 455.06 C460.09 456.10 459.52 457.10 458.77 458.21 C458.02 459.33 457.24 460.53 456.39 461.73 C455.53 462.93 454.60 464.01 453.66 465.40 C452.71 466.79 451.74 468.36 450.71 470.07 C449.69 471.78 448.73 473.62 447.50 475.64 C446.27 477.67 444.69 480.12 443.36 482.21 C442.02 484.31 440.62 486.17 439.50 488.21 C438.38 490.26 437.12 493.45 436.64 494.50" fill="none" stroke="#111" stroke-width="0.8" clip-path="url(#ccr)"/>
<path d="M393.50 458.31 C395.42 458.25 401.92 458.09 405.00 457.94 C408.08 457.80 409.57 457.68 412.00 457.46 C414.43 457.23 417.23 457.08 419.60 456.59 C421.97 456.10 424.31 455.18 426.21 454.51 C428.12 453.85 429.70 453.09 431.04 452.59 C432.39 452.09 433.29 451.71 434.29 451.51 C435.28 451.31 435.80 451.70 437.00 451.39 C438.20 451.07 439.83 450.22 441.50 449.63 C443.17 449.03 445.23 448.43 447.03 447.81 C448.83 447.20 450.81 446.63 452.31 445.91 C453.82 445.20 454.86 444.19 456.06 443.53 C457.25 442.87 458.45 442.14 459.47 441.94 C460.50 441.74 461.42 441.98 462.21 442.33 C463.01 442.68 463.87 443.25 464.23 444.03 C464.59 444.80 464.55 445.99 464.37 446.97 C464.20 447.96 463.69 448.93 463.17 449.94 C462.65 450.95 461.95 452.05 461.26 453.03 C460.56 454.01 459.70 454.88 459.01 455.84 C458.33 456.80 457.81 457.73 457.13 458.79 C456.45 459.84 455.73 461.00 454.91 462.17 C454.10 463.34 453.18 464.42 452.24 465.80 C451.30 467.18 450.33 468.75 449.29 470.43 C448.25 472.10 447.27 473.88 446.00 475.86 C444.73 477.83 443.06 480.21 441.64 482.29 C440.23 484.36 438.71 486.25 437.50 488.29 C436.29 490.32 434.88 493.46 434.36 494.50" fill="none" stroke="#111" stroke-width="0.8" clip-path="url(#ccr)"/>
<path d="M393.50 458.94 C395.42 458.89 401.92 458.74 405.00 458.63 C408.08 458.52 409.57 458.43 412.00 458.27 C414.43 458.11 417.24 458.06 419.60 457.66 C421.96 457.25 424.24 456.44 426.14 455.84 C428.05 455.24 429.66 454.54 431.03 454.06 C432.40 453.57 433.36 453.18 434.36 452.94 C435.35 452.71 435.81 452.97 437.00 452.66 C438.19 452.35 439.89 451.60 441.50 451.09 C443.11 450.57 445.01 450.07 446.69 449.54 C448.36 449.02 450.18 448.52 451.54 447.94 C452.91 447.37 453.84 446.60 454.87 446.09 C455.90 445.57 456.87 445.00 457.71 444.83 C458.56 444.66 459.31 444.81 459.94 445.09 C460.57 445.36 461.22 445.85 461.49 446.49 C461.75 447.12 461.68 448.09 461.51 448.91 C461.35 449.74 460.94 450.57 460.51 451.43 C460.09 452.29 459.53 453.22 458.97 454.09 C458.41 454.95 457.72 455.75 457.14 456.63 C456.56 457.51 456.10 458.36 455.49 459.36 C454.87 460.35 454.22 461.47 453.44 462.61 C452.67 463.75 451.76 464.84 450.83 466.20 C449.90 467.56 448.91 469.14 447.86 470.79 C446.80 472.43 445.82 474.14 444.50 476.07 C443.18 478.00 441.43 480.31 439.93 482.36 C438.43 484.40 436.81 486.33 435.50 488.36 C434.19 490.38 432.64 493.48 432.07 494.50" fill="none" stroke="#111" stroke-width="0.8" clip-path="url(#ccr)"/>
<path d="M393.50 459.57 C395.42 459.53 401.92 459.40 405.00 459.31 C408.08 459.23 409.57 459.18 412.00 459.09 C414.43 458.99 417.25 459.05 419.60 458.73 C421.95 458.41 424.17 457.70 426.07 457.17 C427.97 456.64 429.62 456.00 431.01 455.53 C432.41 455.06 433.43 454.64 434.43 454.37 C435.43 454.10 435.82 454.23 437.00 453.93 C438.18 453.62 439.94 452.99 441.50 452.54 C443.06 452.10 444.80 451.70 446.34 451.27 C447.89 450.84 449.55 450.41 450.77 449.97 C452.00 449.53 452.82 449.02 453.69 448.64 C454.55 448.27 455.29 447.85 455.96 447.71 C456.62 447.58 457.21 447.64 457.67 447.84 C458.14 448.05 458.58 448.44 458.74 448.94 C458.91 449.45 458.80 450.20 458.66 450.86 C458.51 451.52 458.19 452.20 457.86 452.91 C457.53 453.63 457.12 454.39 456.69 455.14 C456.25 455.89 455.75 456.62 455.27 457.41 C454.80 458.21 454.39 458.99 453.84 459.93 C453.29 460.87 452.71 461.95 451.97 463.06 C451.23 464.17 450.34 465.25 449.41 466.60 C448.49 467.95 447.50 469.53 446.43 471.14 C445.36 472.76 444.37 474.40 443.00 476.29 C441.63 478.17 439.80 480.40 438.21 482.43 C436.63 484.45 434.90 486.42 433.50 488.43 C432.10 490.44 430.40 493.49 429.79 494.50" fill="none" stroke="#111" stroke-width="0.8" clip-path="url(#ccr)"/>
<path d="M393.50 460.20 C395.42 460.17 401.92 460.05 405.00 460.00 C408.08 459.95 409.57 459.93 412.00 459.90 C414.43 459.87 417.27 460.03 419.60 459.80 C421.93 459.57 424.10 458.97 426.00 458.50 C427.90 458.03 429.58 457.45 431.00 457.00 C432.42 456.55 433.50 456.10 434.50 455.80 C435.50 455.50 435.83 455.50 437.00 455.20 C438.17 454.90 440.00 454.37 441.50 454.00 C443.00 453.63 444.58 453.33 446.00 453.00 C447.42 452.67 448.92 452.30 450.00 452.00 C451.08 451.70 451.80 451.43 452.50 451.20 C453.20 450.97 453.72 450.70 454.20 450.60 C454.68 450.50 455.10 450.47 455.40 450.60 C455.70 450.73 455.93 451.03 456.00 451.40 C456.07 451.77 455.93 452.30 455.80 452.80 C455.67 453.30 455.43 453.83 455.20 454.40 C454.97 454.97 454.70 455.57 454.40 456.20 C454.10 456.83 453.77 457.48 453.40 458.20 C453.03 458.92 452.68 459.62 452.20 460.50 C451.72 461.38 451.20 462.42 450.50 463.50 C449.80 464.58 448.92 465.67 448.00 467.00 C447.08 468.33 446.08 469.92 445.00 471.50 C443.92 473.08 442.92 474.67 441.50 476.50 C440.08 478.33 438.17 480.50 436.50 482.50 C434.83 484.50 433.00 486.50 431.50 488.50 C430.00 490.50 428.17 493.50 427.50 494.50" fill="none" stroke="#111" stroke-width="0.8" clip-path="url(#ccr)"/>
<path d="M394.00 462.00 C395.83 462.03 401.33 462.27 405.00 462.20 C408.67 462.13 412.50 461.90 416.00 461.60 C419.50 461.30 422.67 460.90 426.00 460.40 C429.33 459.90 433.17 459.07 436.00 458.60 C438.83 458.13 441.25 457.60 443.00 457.60 C444.75 457.60 445.80 457.95 446.50 458.60 C447.20 459.25 447.37 460.35 447.20 461.50 C447.03 462.65 446.37 464.17 445.50 465.50 C444.63 466.83 443.42 468.42 442.00 469.50 C440.58 470.58 439.00 471.28 437.00 472.00 C435.00 472.72 432.83 473.17 430.00 473.80 C427.17 474.43 423.33 475.05 420.00 475.80 C416.67 476.55 412.83 477.40 410.00 478.30 C407.17 479.20 404.75 480.08 403.00 481.20 C401.25 482.32 400.12 483.70 399.50 485.00 C398.88 486.30 398.88 487.78 399.30 489.00 C399.72 490.22 400.72 491.53 402.00 492.30 C403.28 493.07 405.00 493.57 407.00 493.60 C409.00 493.63 412.00 492.93 414.00 492.50 C416.00 492.07 417.50 491.17 419.00 491.00 C420.50 490.83 422.08 490.92 423.00 491.50 C423.92 492.08 424.25 494.00 424.50 494.50" fill="none" stroke="#111" stroke-width="1.0" clip-path="url(#ccr)"/>
<path d="M433.00 465.80 C433.17 464.93 434.75 463.23 436.00 462.60 C437.25 461.97 439.25 461.90 440.50 462.00 C441.75 462.10 443.12 462.60 443.50 463.20 C443.88 463.80 443.63 464.87 442.80 465.60 C441.97 466.33 439.80 467.23 438.50 467.60 C437.20 467.97 435.92 468.10 435.00 467.80 C434.08 467.50 432.83 466.67 433.00 465.80Z" fill="none" stroke="#111" stroke-width="1.0" clip-path="url(#ccr)"/>
<path d="M405.50 486.60 C405.17 486.07 407.25 485.33 409.00 484.60 C410.75 483.87 413.33 483.00 416.00 482.20 C418.67 481.40 422.17 480.57 425.00 479.80 C427.83 479.03 430.83 478.07 433.00 477.60 C435.17 477.13 437.50 476.57 438.00 477.00 C438.50 477.43 437.67 479.10 436.00 480.20 C434.33 481.30 430.83 482.58 428.00 483.60 C425.17 484.62 421.83 485.60 419.00 486.30 C416.17 487.00 413.25 487.75 411.00 487.80 C408.75 487.85 405.83 487.13 405.50 486.60Z" fill="none" stroke="#111" stroke-width="1.0" clip-path="url(#ccr)"/>
<path d="M394.50 465.00 C394.87 465.83 396.25 468.17 396.70 470.00 C397.15 471.83 397.25 474.00 397.20 476.00 C397.15 478.00 396.53 480.00 396.40 482.00 C396.27 484.00 396.22 485.92 396.40 488.00 C396.58 490.08 397.32 493.42 397.50 494.50" fill="none" stroke="#111" stroke-width="1.0" clip-path="url(#ccr)"/>
<path d="M396.00 463.50 C396.67 464.00 398.17 465.82 400.00 466.50 C401.83 467.18 404.00 467.58 407.00 467.60 C410.00 467.62 414.17 467.10 418.00 466.60 C421.83 466.10 426.83 465.20 430.00 464.60 C433.17 464.00 435.83 463.27 437.00 463.00" fill="none" stroke="#111" stroke-width="1.0" clip-path="url(#ccr)"/>
<path d="M401.50 487.50 C401.42 486.58 401.58 485.08 402.50 484.00 C403.42 482.92 404.92 481.87 407.00 481.00 C409.08 480.13 412.00 479.53 415.00 478.80 C418.00 478.07 421.83 477.27 425.00 476.60 C428.17 475.93 431.50 475.33 434.00 474.80 C436.50 474.27 438.75 473.28 440.00 473.40 C441.25 473.52 442.00 474.65 441.50 475.50 C441.00 476.35 438.92 477.50 437.00 478.50 C435.08 479.50 432.67 480.45 430.00 481.50 C427.33 482.55 424.00 483.72 421.00 484.80 C418.00 485.88 414.50 487.17 412.00 488.00 C409.50 488.83 407.50 489.55 406.00 489.80 C404.50 490.05 403.75 489.88 403.00 489.50 C402.25 489.12 401.58 488.42 401.50 487.50Z" fill="none" stroke="#111" stroke-width="1.0" clip-path="url(#ccr)"/>
<path d="M405.50 470.50 C406.17 469.77 407.58 469.13 410.00 468.60 C412.42 468.07 416.67 467.80 420.00 467.30 C423.33 466.80 427.25 466.10 430.00 465.60 C432.75 465.10 434.58 464.63 436.50 464.30 C438.42 463.97 440.12 463.52 441.50 463.60 C442.88 463.68 444.63 464.10 444.80 464.80 C444.97 465.50 443.97 466.97 442.50 467.80 C441.03 468.63 438.58 469.23 436.00 469.80 C433.42 470.37 430.17 470.75 427.00 471.20 C423.83 471.65 419.83 472.10 417.00 472.50 C414.17 472.90 411.83 473.52 410.00 473.60 C408.17 473.68 406.75 473.52 406.00 473.00 C405.25 472.48 404.83 471.23 405.50 470.50Z" fill="none" stroke="#111" stroke-width="1.0" clip-path="url(#ccr)"/>
<path d="M411.00 494.50 C411.67 493.97 413.00 492.28 415.00 491.30 C417.00 490.32 420.50 489.42 423.00 488.60 C425.50 487.78 427.92 486.97 430.00 486.40 C432.08 485.83 435.00 484.88 435.50 485.20 C436.00 485.52 433.92 487.30 433.00 488.30 C432.08 489.30 430.75 490.17 430.00 491.20 C429.25 492.23 428.75 493.95 428.50 494.50" fill="none" stroke="#111" stroke-width="1.0" clip-path="url(#ccr)"/>
<ellipse cx="438.9" cy="464.6" rx="2.2" ry="1.3" transform="rotate(0 438.9 464.6)" fill="none" stroke="#111" stroke-width="1.0"/>
<ellipse cx="403.5" cy="487.8" rx="2.4" ry="1.2" transform="rotate(0 403.5 487.8)" fill="none" stroke="#111" stroke-width="1.0"/>
<rect x="393.1" y="422.7" width="26.399999999999977" height="36.30000000000001" fill="none" stroke="#222" stroke-width="1.1"/>
<rect x="455.5" y="424.2" width="34.4" height="35.5" fill="none" stroke="#222" stroke-width="1.1"/>
<text x="411.6" y="414.1" font-family='"Liberation Sans", sans-serif' font-size="7.5" font-weight="normal" text-anchor="middle" stroke="#000" stroke-width="0.2" >R5</text>
<text x="473.6" y="415.4" font-family='"Liberation Sans", sans-serif' font-size="7.5" font-weight="normal" text-anchor="middle" stroke="#000" stroke-width="0.2" >R4</text>
<text x="384.5" y="441" font-family='"Liberation Sans", sans-serif' font-size="16.3" font-weight="normal" text-anchor="middle" transform="rotate(-90 384.5 441)" stroke="#000" stroke-width="0.12" >CD3</text>
<text x="419" y="514.3" font-family='"Liberation Sans", sans-serif' font-size="16.3" stroke="#000" stroke-width="0.12">TCR <tspan font-family='"Liberation Serif", serif' font-size="16.5">β</tspan></text>
</svg>
</body></html>
